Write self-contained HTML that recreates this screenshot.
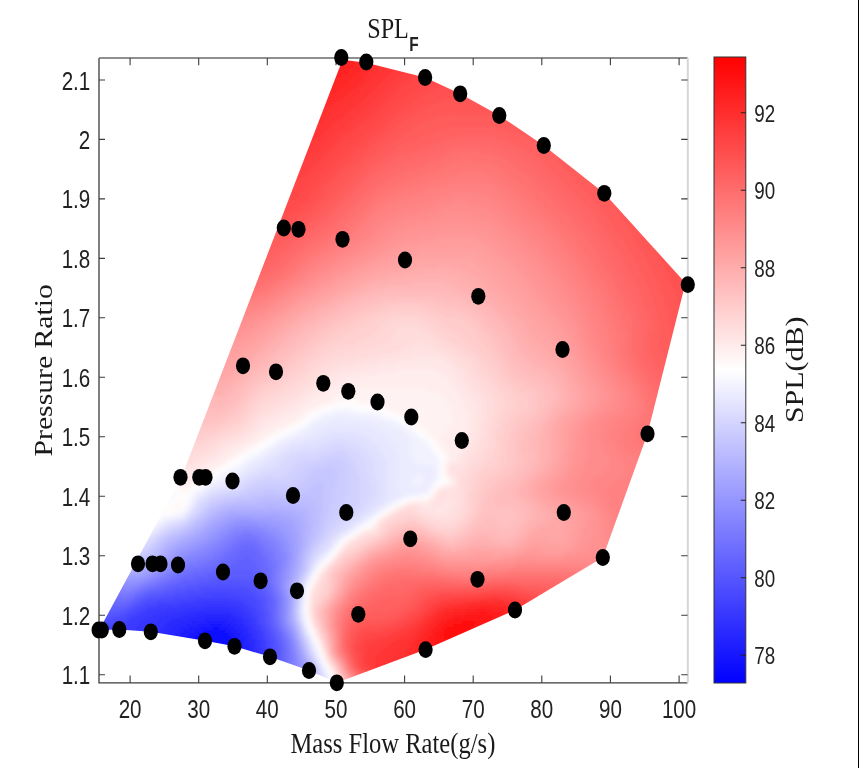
<!DOCTYPE html>
<html><head><meta charset="utf-8"><title>SPL_F</title>
<style>html,body{margin:0;padding:0;background:#fff;}svg{display:block;opacity:0.999}text{font-family:"Liberation Sans",sans-serif;fill:#222}.sf{font-family:"Liberation Serif",serif;fill:#1a1a1a}</style></head>
<body>
<svg width="859" height="768" viewBox="0 0 859 768">
<defs><clipPath id="cp"><polygon points="99.2,630.0 181.5,477.3 342.5,59.8 366.3,62.8 425.1,77.5 460.2,93.8 499.3,115.5 543.8,145.5 604.3,193.3 685.5,283.0 647.5,433.8 602.8,557.5 515.0,610.0 425.6,649.6 336.8,682.8 309.0,670.5 270.0,656.8 234.5,646.3 205.0,640.8 150.8,631.8 119.3,629.5 101.8,630.0"/></clipPath>
<filter id="bl" x="-5%" y="-5%" width="110%" height="110%"><feGaussianBlur stdDeviation="2"/></filter>
<linearGradient id="cb" x1="0" y1="0" x2="0" y2="1"><stop offset="0" stop-color="#ff0000"/><stop offset="0.5" stop-color="#ffffff"/><stop offset="1" stop-color="#0000ff"/></linearGradient></defs>
<rect width="859" height="768" fill="#fff"/>
<g clip-path="url(#cp)"><g filter="url(#bl)" shape-rendering="crispEdges">
<path fill="#0505ff" d="M204 642h12v3h-12zM204 645h15v3h-15z"/>
<path fill="#0b0bff" d="M207 633h15v3h-15zM201 636h24v3h-24zM198 639h27v3h-27zM195 642h9v3h-9zM216 642h12v3h-12zM219 645h9v3h-9zM219 648h9v3h-9z"/>
<path fill="#1010ff" d="M213 627h6v3h-6zM204 630h21v3h-21zM198 633h9v3h-9zM222 633h6v3h-6zM195 636h6v3h-6zM225 636h6v3h-6zM192 639h6v3h-6zM225 639h6v3h-6zM189 642h6v3h-6zM228 642h6v3h-6zM228 645h6v3h-6zM228 648h6v3h-6z"/>
<path fill="#1515ff" d="M210 624h12v3h-12zM201 627h12v3h-12zM219 627h9v3h-9zM195 630h9v3h-9zM225 630h6v3h-6zM189 633h9v3h-9zM228 633h6v3h-6zM186 636h9v3h-9zM231 636h6v3h-6zM183 639h9v3h-9zM231 639h6v3h-6zM186 642h3v3h-3zM234 642h3v3h-3zM234 645h6v3h-6zM234 648h6v3h-6zM234 651h6v3h-6z"/>
<path fill="#1b1bff" d="M207 621h18v3h-18zM198 624h12v3h-12zM222 624h9v3h-9zM189 627h12v3h-12zM228 627h6v3h-6zM183 630h12v3h-12zM231 630h6v3h-6zM180 633h9v3h-9zM234 633h6v3h-6zM180 636h6v3h-6zM237 636h3v3h-3zM177 639h6v3h-6zM237 639h6v3h-6zM237 642h6v3h-6zM240 645h3v3h-3zM240 648h3v3h-3zM240 651h3v3h-3z"/>
<path fill="#2020ff" d="M204 618h24v3h-24zM192 621h15v3h-15zM225 621h9v3h-9zM186 624h12v3h-12zM231 624h6v3h-6zM180 627h9v3h-9zM234 627h6v3h-6zM177 630h6v3h-6zM237 630h6v3h-6zM174 633h6v3h-6zM240 633h3v3h-3zM171 636h9v3h-9zM240 636h6v3h-6zM171 639h6v3h-6zM243 639h3v3h-3zM243 642h3v3h-3zM243 645h6v3h-6zM243 648h6v3h-6zM243 651h6v3h-6zM246 654h3v3h-3z"/>
<path fill="#2626ff" d="M198 615h33v3h-33zM189 618h15v3h-15zM228 618h9v3h-9zM180 621h12v3h-12zM234 621h6v3h-6zM174 624h12v3h-12zM237 624h6v3h-6zM171 627h9v3h-9zM240 627h3v3h-3zM168 630h9v3h-9zM243 630h3v3h-3zM165 633h9v3h-9zM243 633h6v3h-6zM165 636h6v3h-6zM246 636h3v3h-3zM168 639h3v3h-3zM246 639h3v3h-3zM246 642h6v3h-6zM249 645h3v3h-3zM249 648h3v3h-3zM249 651h3v3h-3zM249 654h3v3h-3z"/>
<path fill="#2b2bff" d="M195 612h36v3h-36zM183 615h15v3h-15zM231 615h6v3h-6zM171 618h18v3h-18zM237 618h6v3h-6zM168 621h12v3h-12zM240 621h3v3h-3zM165 624h9v3h-9zM243 624h3v3h-3zM162 627h9v3h-9zM243 627h6v3h-6zM159 630h9v3h-9zM246 630h3v3h-3zM159 633h6v3h-6zM249 633h3v3h-3zM156 636h9v3h-9zM249 636h3v3h-3zM249 639h6v3h-6zM252 642h3v3h-3zM252 645h3v3h-3zM252 648h3v3h-3zM252 651h6v3h-6zM252 654h6v3h-6z"/>
<path fill="#3030ff" d="M207 606h18v3h-18zM189 609h45v3h-45zM174 612h21v3h-21zM231 612h9v3h-9zM165 615h18v3h-18zM237 615h6v3h-6zM159 618h12v3h-12zM243 618h3v3h-3zM156 621h12v3h-12zM243 621h6v3h-6zM153 624h12v3h-12zM246 624h3v3h-3zM150 627h12v3h-12zM249 627h3v3h-3zM150 630h9v3h-9zM249 630h3v3h-3zM147 633h12v3h-12zM252 633h3v3h-3zM147 636h9v3h-9zM252 636h3v3h-3zM255 639h3v3h-3zM255 642h3v3h-3zM255 645h3v3h-3zM255 648h6v3h-6zM258 651h3v3h-3zM258 654h3v3h-3zM255 657h6v3h-6z"/>
<path fill="#3636ff" d="M201 603h30v3h-30zM183 606h24v3h-24zM225 606h15v3h-15zM168 609h21v3h-21zM234 609h9v3h-9zM156 612h18v3h-18zM240 612h6v3h-6zM150 615h15v3h-15zM243 615h6v3h-6zM144 618h15v3h-15zM246 618h6v3h-6zM141 621h15v3h-15zM249 621h3v3h-3zM138 624h15v3h-15zM249 624h6v3h-6zM135 627h15v3h-15zM252 627h3v3h-3zM132 630h18v3h-18zM252 630h6v3h-6zM132 633h15v3h-15zM255 633h3v3h-3zM255 636h3v3h-3zM258 639h3v3h-3zM258 642h3v3h-3zM258 645h3v3h-3zM261 648h3v3h-3zM261 651h3v3h-3zM261 654h3v3h-3zM261 657h3v3h-3z"/>
<path fill="#3b3bff" d="M195 600h42v3h-42zM180 603h21v3h-21zM231 603h12v3h-12zM159 606h24v3h-24zM240 606h6v3h-6zM147 609h21v3h-21zM243 609h6v3h-6zM141 612h15v3h-15zM246 612h6v3h-6zM138 615h12v3h-12zM249 615h3v3h-3zM132 618h12v3h-12zM252 618h3v3h-3zM129 621h12v3h-12zM252 621h3v3h-3zM126 624h12v3h-12zM255 624h3v3h-3zM123 627h12v3h-12zM255 627h3v3h-3zM120 630h12v3h-12zM258 630h3v3h-3zM114 633h18v3h-18zM258 633h3v3h-3zM258 636h3v3h-3zM261 639h3v3h-3zM261 642h3v3h-3zM261 645h3v3h-3zM264 648h3v3h-3zM264 651h3v3h-3zM264 654h3v3h-3zM264 657h3v3h-3z"/>
<path fill="#4040ff" d="M213 594h12v3h-12zM192 597h48v3h-48zM177 600h18v3h-18zM237 600h9v3h-9zM156 603h24v3h-24zM243 603h6v3h-6zM147 606h12v3h-12zM246 606h6v3h-6zM141 609h6v3h-6zM249 609h6v3h-6zM135 612h6v3h-6zM252 612h3v3h-3zM129 615h9v3h-9zM252 615h6v3h-6zM126 618h6v3h-6zM255 618h3v3h-3zM120 621h9v3h-9zM255 621h3v3h-3zM117 624h9v3h-9zM258 624h3v3h-3zM93 627h30v3h-30zM258 627h3v3h-3zM96 630h24v3h-24zM261 630h3v3h-3zM99 633h15v3h-15zM261 633h3v3h-3zM261 636h3v3h-3zM264 639h3v3h-3zM264 642h3v3h-3zM264 645h3v3h-3zM267 648h3v3h-3zM267 651h3v3h-3zM267 654h3v3h-3zM267 657h3v3h-3z"/>
<path fill="#4646ff" d="M204 591h33v3h-33zM189 594h24v3h-24zM225 594h21v3h-21zM174 597h18v3h-18zM240 597h12v3h-12zM156 600h21v3h-21zM246 600h9v3h-9zM144 603h12v3h-12zM249 603h6v3h-6zM138 606h9v3h-9zM252 606h6v3h-6zM135 609h6v3h-6zM255 609h3v3h-3zM129 612h6v3h-6zM255 612h6v3h-6zM126 615h3v3h-3zM258 615h3v3h-3zM120 618h6v3h-6zM258 618h3v3h-3zM96 621h3v3h-3zM114 621h6v3h-6zM258 621h3v3h-3zM96 624h21v3h-21zM261 624h3v3h-3zM261 627h3v3h-3zM264 630h3v3h-3zM264 633h3v3h-3zM264 636h3v3h-3zM267 639h3v3h-3zM267 642h3v3h-3zM267 645h3v3h-3zM270 648h3v3h-3zM270 651h3v3h-3zM270 654h3v3h-3zM270 657h3v3h-3zM267 660h3v3h-3z"/>
<path fill="#4b4bff" d="M201 588h45v3h-45zM186 591h18v3h-18zM237 591h15v3h-15zM174 594h15v3h-15zM246 594h9v3h-9zM159 597h15v3h-15zM252 597h6v3h-6zM147 600h9v3h-9zM255 600h6v3h-6zM141 603h3v3h-3zM255 603h6v3h-6zM135 606h3v3h-3zM258 606h3v3h-3zM129 609h6v3h-6zM258 609h3v3h-3zM126 612h3v3h-3zM261 612h3v3h-3zM120 615h6v3h-6zM261 615h3v3h-3zM111 618h9v3h-9zM261 618h3v3h-3zM99 621h15v3h-15zM261 621h3v3h-3zM264 624h3v3h-3zM264 627h3v3h-3zM267 630h3v3h-3zM267 633h3v3h-3zM267 636h3v3h-3zM270 639h3v3h-3zM270 642h3v3h-3zM270 645h3v3h-3zM270 660h3v3h-3z"/>
<path fill="#5151ff" d="M216 582h24v3h-24zM198 585h54v3h-54zM186 588h15v3h-15zM246 588h9v3h-9zM174 591h12v3h-12zM252 591h6v3h-6zM162 594h12v3h-12zM255 594h6v3h-6zM147 597h12v3h-12zM258 597h6v3h-6zM141 600h6v3h-6zM261 600h3v3h-3zM135 603h6v3h-6zM261 603h3v3h-3zM132 606h3v3h-3zM261 606h3v3h-3zM126 609h3v3h-3zM261 609h6v3h-6zM120 612h6v3h-6zM264 612h3v3h-3zM99 615h3v3h-3zM111 615h9v3h-9zM264 615h3v3h-3zM99 618h12v3h-12zM264 618h3v3h-3zM264 621h3v3h-3zM267 624h3v3h-3zM267 627h3v3h-3zM270 633h3v3h-3zM270 636h3v3h-3zM273 639h3v3h-3zM273 642h3v3h-3zM273 645h3v3h-3zM273 648h3v3h-3zM273 651h3v3h-3zM273 654h3v3h-3zM273 657h3v3h-3zM273 660h3v3h-3z"/>
<path fill="#5656ff" d="M210 579h42v3h-42zM198 582h18v3h-18zM240 582h18v3h-18zM186 585h12v3h-12zM252 585h6v3h-6zM174 588h12v3h-12zM255 588h6v3h-6zM165 591h9v3h-9zM258 591h6v3h-6zM150 594h12v3h-12zM261 594h3v3h-3zM144 597h3v3h-3zM264 597h3v3h-3zM138 600h3v3h-3zM264 600h3v3h-3zM132 603h3v3h-3zM264 603h3v3h-3zM129 606h3v3h-3zM264 606h3v3h-3zM120 609h6v3h-6zM102 612h3v3h-3zM111 612h9v3h-9zM267 612h3v3h-3zM102 615h9v3h-9zM267 615h3v3h-3zM267 618h3v3h-3zM267 621h3v3h-3zM270 627h3v3h-3zM270 630h3v3h-3zM273 633h3v3h-3zM273 636h3v3h-3zM276 642h3v3h-3zM276 645h3v3h-3zM276 648h3v3h-3zM276 651h3v3h-3zM276 654h3v3h-3zM276 657h3v3h-3zM276 660h3v3h-3zM276 663h3v3h-3z"/>
<path fill="#5b5bff" d="M234 570h18v3h-18zM222 573h33v3h-33zM207 576h51v3h-51zM195 579h15v3h-15zM252 579h9v3h-9zM183 582h15v3h-15zM258 582h3v3h-3zM174 585h12v3h-12zM258 585h6v3h-6zM165 588h9v3h-9zM261 588h3v3h-3zM153 591h12v3h-12zM264 591h3v3h-3zM144 594h6v3h-6zM264 594h3v3h-3zM138 597h6v3h-6zM267 597h3v3h-3zM135 600h3v3h-3zM267 600h3v3h-3zM129 603h3v3h-3zM267 603h3v3h-3zM123 606h6v3h-6zM267 606h3v3h-3zM105 609h15v3h-15zM267 609h3v3h-3zM105 612h6v3h-6zM270 618h3v3h-3zM270 621h3v3h-3zM270 624h3v3h-3zM273 630h3v3h-3zM276 636h3v3h-3zM276 639h3v3h-3zM279 645h3v3h-3zM279 648h3v3h-3zM279 651h3v3h-3zM279 654h3v3h-3zM279 657h3v3h-3zM279 660h3v3h-3z"/>
<path fill="#6161ff" d="M243 555h6v3h-6zM240 558h12v3h-12zM234 561h21v3h-21zM231 564h27v3h-27zM225 567h33v3h-33zM216 570h18v3h-18zM252 570h9v3h-9zM207 573h15v3h-15zM255 573h6v3h-6zM195 576h12v3h-12zM258 576h6v3h-6zM183 579h12v3h-12zM261 579h3v3h-3zM177 582h6v3h-6zM261 582h3v3h-3zM168 585h6v3h-6zM264 585h3v3h-3zM159 588h6v3h-6zM264 588h3v3h-3zM147 591h6v3h-6zM267 591h3v3h-3zM141 594h3v3h-3zM267 594h3v3h-3zM135 597h3v3h-3zM270 597h3v3h-3zM132 600h3v3h-3zM270 600h3v3h-3zM126 603h3v3h-3zM270 603h3v3h-3zM105 606h18v3h-18zM270 606h3v3h-3zM270 609h3v3h-3zM270 612h3v3h-3zM270 615h3v3h-3zM273 624h3v3h-3zM273 627h3v3h-3zM276 630h3v3h-3zM276 633h3v3h-3zM279 639h3v3h-3zM279 642h3v3h-3zM279 663h3v3h-3z"/>
<path fill="#6666ff" d="M240 549h15v3h-15zM237 552h21v3h-21zM234 555h9v3h-9zM249 555h9v3h-9zM228 558h12v3h-12zM252 558h9v3h-9zM225 561h9v3h-9zM255 561h6v3h-6zM219 564h12v3h-12zM258 564h6v3h-6zM213 567h12v3h-12zM258 567h6v3h-6zM204 570h12v3h-12zM261 570h3v3h-3zM192 573h15v3h-15zM261 573h6v3h-6zM183 576h12v3h-12zM264 576h3v3h-3zM177 579h6v3h-6zM264 579h3v3h-3zM168 582h9v3h-9zM264 582h3v3h-3zM162 585h6v3h-6zM267 585h3v3h-3zM150 588h9v3h-9zM267 588h3v3h-3zM144 591h3v3h-3zM270 591h3v3h-3zM138 594h3v3h-3zM270 594h3v3h-3zM132 597h3v3h-3zM108 600h3v3h-3zM126 600h6v3h-6zM273 600h3v3h-3zM108 603h18v3h-18zM273 603h3v3h-3zM273 606h3v3h-3zM273 609h3v3h-3zM273 612h3v3h-3zM273 615h3v3h-3zM273 618h3v3h-3zM273 621h3v3h-3zM276 627h3v3h-3zM279 633h3v3h-3zM279 636h3v3h-3zM282 642h3v3h-3zM282 645h3v3h-3zM282 648h3v3h-3zM282 651h3v3h-3zM282 654h3v3h-3zM282 657h3v3h-3zM282 660h3v3h-3zM282 663h3v3h-3zM282 666h3v3h-3z"/>
<path fill="#6b6bff" d="M240 543h15v3h-15zM237 546h21v3h-21zM231 549h9v3h-9zM255 549h6v3h-6zM228 552h9v3h-9zM258 552h3v3h-3zM225 555h9v3h-9zM258 555h6v3h-6zM222 558h6v3h-6zM261 558h6v3h-6zM216 561h9v3h-9zM261 561h6v3h-6zM210 564h9v3h-9zM264 564h3v3h-3zM201 567h12v3h-12zM264 567h6v3h-6zM192 570h12v3h-12zM264 570h6v3h-6zM183 573h9v3h-9zM267 573h3v3h-3zM177 576h6v3h-6zM267 576h3v3h-3zM171 579h6v3h-6zM267 579h3v3h-3zM162 582h6v3h-6zM267 582h3v3h-3zM156 585h6v3h-6zM270 585h3v3h-3zM147 588h3v3h-3zM270 588h3v3h-3zM141 591h3v3h-3zM135 594h3v3h-3zM273 594h3v3h-3zM111 597h3v3h-3zM129 597h3v3h-3zM273 597h3v3h-3zM111 600h15v3h-15zM276 621h3v3h-3zM276 624h3v3h-3zM279 630h3v3h-3zM282 636h3v3h-3zM282 639h3v3h-3zM285 648h3v3h-3zM285 651h3v3h-3zM285 654h3v3h-3zM285 657h3v3h-3zM285 660h3v3h-3zM285 663h3v3h-3z"/>
<path fill="#7171ff" d="M246 537h3v3h-3zM237 540h21v3h-21zM234 543h6v3h-6zM255 543h6v3h-6zM231 546h6v3h-6zM258 546h6v3h-6zM228 549h3v3h-3zM261 549h3v3h-3zM222 552h6v3h-6zM261 552h6v3h-6zM219 555h6v3h-6zM264 555h6v3h-6zM216 558h6v3h-6zM267 558h3v3h-3zM207 561h9v3h-9zM267 561h3v3h-3zM201 564h9v3h-9zM267 564h6v3h-6zM192 567h9v3h-9zM270 567h3v3h-3zM183 570h9v3h-9zM270 570h3v3h-3zM177 573h6v3h-6zM270 573h3v3h-3zM171 576h6v3h-6zM270 576h3v3h-3zM165 579h6v3h-6zM270 579h3v3h-3zM159 582h3v3h-3zM270 582h3v3h-3zM150 585h6v3h-6zM141 588h6v3h-6zM273 588h3v3h-3zM135 591h6v3h-6zM273 591h3v3h-3zM111 594h3v3h-3zM132 594h3v3h-3zM114 597h15v3h-15zM276 597h3v3h-3zM276 600h3v3h-3zM276 603h3v3h-3zM276 606h3v3h-3zM276 609h3v3h-3zM276 612h3v3h-3zM276 615h3v3h-3zM276 618h3v3h-3zM279 627h3v3h-3zM282 633h3v3h-3zM285 639h3v3h-3zM285 642h3v3h-3zM285 645h3v3h-3zM285 666h3v3h-3z"/>
<path fill="#7676ff" d="M243 534h9v3h-9zM237 537h9v3h-9zM249 537h9v3h-9zM231 540h6v3h-6zM258 540h3v3h-3zM228 543h6v3h-6zM261 543h3v3h-3zM225 546h6v3h-6zM264 546h3v3h-3zM222 549h6v3h-6zM264 549h6v3h-6zM216 552h6v3h-6zM267 552h6v3h-6zM213 555h6v3h-6zM270 555h3v3h-3zM207 558h9v3h-9zM270 558h3v3h-3zM198 561h9v3h-9zM270 561h6v3h-6zM189 564h12v3h-12zM273 564h3v3h-3zM183 567h9v3h-9zM273 567h3v3h-3zM177 570h6v3h-6zM273 570h3v3h-3zM171 573h6v3h-6zM273 573h3v3h-3zM168 576h3v3h-3zM273 576h3v3h-3zM159 579h6v3h-6zM273 579h3v3h-3zM153 582h6v3h-6zM273 582h3v3h-3zM144 585h6v3h-6zM273 585h3v3h-3zM138 588h3v3h-3zM132 591h3v3h-3zM276 591h3v3h-3zM114 594h18v3h-18zM276 594h3v3h-3zM279 621h3v3h-3zM279 624h3v3h-3zM282 630h3v3h-3zM285 636h3v3h-3zM288 645h3v3h-3zM288 648h3v3h-3zM288 651h3v3h-3zM288 654h3v3h-3zM288 657h3v3h-3zM288 660h3v3h-3zM288 663h3v3h-3zM288 666h3v3h-3z"/>
<path fill="#7b7bff" d="M243 531h9v3h-9zM234 534h9v3h-9zM252 534h6v3h-6zM231 537h6v3h-6zM258 537h6v3h-6zM228 540h3v3h-3zM261 540h6v3h-6zM222 543h6v3h-6zM264 543h6v3h-6zM219 546h6v3h-6zM267 546h6v3h-6zM216 549h6v3h-6zM270 549h6v3h-6zM210 552h6v3h-6zM273 552h3v3h-3zM204 555h9v3h-9zM273 555h3v3h-3zM198 558h9v3h-9zM273 558h6v3h-6zM189 561h9v3h-9zM276 561h3v3h-3zM183 564h6v3h-6zM276 564h3v3h-3zM177 567h6v3h-6zM276 567h3v3h-3zM174 570h3v3h-3zM276 570h3v3h-3zM168 573h3v3h-3zM162 576h6v3h-6zM156 579h3v3h-3zM147 582h6v3h-6zM141 585h3v3h-3zM276 585h3v3h-3zM114 588h3v3h-3zM135 588h3v3h-3zM276 588h3v3h-3zM114 591h9v3h-9zM126 591h6v3h-6zM279 594h3v3h-3zM279 597h3v3h-3zM279 600h3v3h-3zM279 603h3v3h-3zM279 606h3v3h-3zM279 609h3v3h-3zM279 612h3v3h-3zM279 615h3v3h-3zM279 618h3v3h-3zM282 627h3v3h-3zM285 633h3v3h-3zM288 639h3v3h-3zM288 642h3v3h-3zM291 654h3v3h-3zM291 657h3v3h-3zM291 660h3v3h-3zM291 663h3v3h-3zM291 666h3v3h-3zM291 669h3v3h-3z"/>
<path fill="#8181ff" d="M243 528h6v3h-6zM234 531h9v3h-9zM252 531h9v3h-9zM231 534h3v3h-3zM258 534h6v3h-6zM225 537h6v3h-6zM264 537h6v3h-6zM222 540h6v3h-6zM267 540h6v3h-6zM219 543h3v3h-3zM270 543h6v3h-6zM213 546h6v3h-6zM273 546h3v3h-3zM210 549h6v3h-6zM276 549h3v3h-3zM204 552h6v3h-6zM276 552h3v3h-3zM195 555h9v3h-9zM276 555h6v3h-6zM189 558h9v3h-9zM279 558h3v3h-3zM183 561h6v3h-6zM279 561h3v3h-3zM177 564h6v3h-6zM279 564h3v3h-3zM174 567h3v3h-3zM279 567h3v3h-3zM168 570h6v3h-6zM165 573h3v3h-3zM276 573h3v3h-3zM159 576h3v3h-3zM276 576h3v3h-3zM150 579h6v3h-6zM276 579h3v3h-3zM144 582h3v3h-3zM276 582h3v3h-3zM138 585h3v3h-3zM117 588h6v3h-6zM129 588h6v3h-6zM123 591h3v3h-3zM279 591h3v3h-3zM282 621h3v3h-3zM282 624h3v3h-3zM285 630h3v3h-3zM288 636h3v3h-3zM291 645h3v3h-3zM291 648h3v3h-3zM291 651h3v3h-3z"/>
<path fill="#8686ff" d="M234 528h9v3h-9zM249 528h12v3h-12zM228 531h6v3h-6zM261 531h6v3h-6zM225 534h6v3h-6zM264 534h6v3h-6zM222 537h3v3h-3zM270 537h6v3h-6zM216 540h6v3h-6zM273 540h6v3h-6zM213 543h6v3h-6zM276 543h3v3h-3zM207 546h6v3h-6zM276 546h6v3h-6zM201 549h9v3h-9zM279 549h3v3h-3zM195 552h9v3h-9zM279 552h6v3h-6zM189 555h6v3h-6zM282 555h3v3h-3zM183 558h6v3h-6zM282 558h3v3h-3zM177 561h6v3h-6zM282 561h3v3h-3zM174 564h3v3h-3zM282 564h3v3h-3zM171 567h3v3h-3zM165 570h3v3h-3zM279 570h3v3h-3zM159 573h6v3h-6zM279 573h3v3h-3zM153 576h6v3h-6zM279 576h3v3h-3zM147 579h3v3h-3zM279 579h3v3h-3zM141 582h3v3h-3zM279 582h3v3h-3zM117 585h6v3h-6zM132 585h6v3h-6zM279 585h3v3h-3zM123 588h6v3h-6zM279 588h3v3h-3zM282 594h3v3h-3zM282 597h3v3h-3zM282 600h3v3h-3zM282 603h3v3h-3zM282 606h3v3h-3zM282 609h3v3h-3zM282 612h3v3h-3zM282 615h3v3h-3zM282 618h3v3h-3zM285 627h3v3h-3zM288 633h3v3h-3zM291 639h3v3h-3zM291 642h3v3h-3zM294 654h3v3h-3zM294 657h3v3h-3zM294 660h3v3h-3zM294 663h3v3h-3zM294 666h3v3h-3zM294 669h3v3h-3z"/>
<path fill="#8c8cff" d="M234 525h24v3h-24zM228 528h6v3h-6zM261 528h6v3h-6zM225 531h3v3h-3zM267 531h6v3h-6zM219 534h6v3h-6zM270 534h6v3h-6zM216 537h6v3h-6zM276 537h3v3h-3zM213 540h3v3h-3zM279 540h3v3h-3zM207 543h6v3h-6zM279 543h6v3h-6zM201 546h6v3h-6zM282 546h3v3h-3zM195 549h6v3h-6zM282 549h3v3h-3zM189 552h6v3h-6zM285 552h3v3h-3zM183 555h6v3h-6zM285 555h3v3h-3zM177 558h6v3h-6zM285 558h3v3h-3zM174 561h3v3h-3zM285 561h3v3h-3zM171 564h3v3h-3zM165 567h6v3h-6zM282 567h3v3h-3zM162 570h3v3h-3zM282 570h3v3h-3zM156 573h3v3h-3zM282 573h3v3h-3zM150 576h3v3h-3zM282 576h3v3h-3zM144 579h3v3h-3zM117 582h6v3h-6zM135 582h6v3h-6zM123 585h9v3h-9zM282 591h3v3h-3zM285 624h3v3h-3zM288 630h3v3h-3zM291 636h3v3h-3zM294 648h3v3h-3zM294 651h3v3h-3zM297 660h3v3h-3zM297 663h3v3h-3zM297 666h3v3h-3zM297 669h3v3h-3z"/>
<path fill="#9191ff" d="M234 522h24v3h-24zM228 525h6v3h-6zM258 525h9v3h-9zM222 528h6v3h-6zM267 528h9v3h-9zM219 531h6v3h-6zM273 531h6v3h-6zM216 534h3v3h-3zM276 534h6v3h-6zM210 537h6v3h-6zM279 537h6v3h-6zM207 540h6v3h-6zM282 540h3v3h-3zM201 543h6v3h-6zM285 543h3v3h-3zM195 546h6v3h-6zM285 546h3v3h-3zM189 549h6v3h-6zM285 549h3v3h-3zM183 552h6v3h-6zM288 552h3v3h-3zM177 555h6v3h-6zM288 555h3v3h-3zM174 558h3v3h-3zM288 558h3v3h-3zM171 561h3v3h-3zM168 564h3v3h-3zM285 564h3v3h-3zM162 567h3v3h-3zM285 567h3v3h-3zM159 570h3v3h-3zM285 570h3v3h-3zM153 573h3v3h-3zM144 576h6v3h-6zM120 579h3v3h-3zM138 579h6v3h-6zM282 579h3v3h-3zM123 582h12v3h-12zM282 582h3v3h-3zM282 585h3v3h-3zM282 588h3v3h-3zM285 594h3v3h-3zM285 597h3v3h-3zM285 600h3v3h-3zM285 603h3v3h-3zM285 606h3v3h-3zM285 609h3v3h-3zM285 612h3v3h-3zM285 615h3v3h-3zM285 618h3v3h-3zM285 621h3v3h-3zM288 627h3v3h-3zM291 633h3v3h-3zM294 642h3v3h-3zM294 645h3v3h-3zM297 654h3v3h-3zM297 657h3v3h-3zM300 666h3v3h-3zM300 669h3v3h-3zM300 672h3v3h-3z"/>
<path fill="#9696ff" d="M234 519h21v3h-21zM228 522h6v3h-6zM258 522h12v3h-12zM222 525h6v3h-6zM267 525h12v3h-12zM219 528h3v3h-3zM276 528h6v3h-6zM213 531h6v3h-6zM279 531h6v3h-6zM210 534h6v3h-6zM282 534h6v3h-6zM207 537h3v3h-3zM285 537h3v3h-3zM201 540h6v3h-6zM285 540h6v3h-6zM195 543h6v3h-6zM288 543h3v3h-3zM189 546h6v3h-6zM288 546h3v3h-3zM183 549h6v3h-6zM288 549h3v3h-3zM177 552h6v3h-6zM174 555h3v3h-3zM171 558h3v3h-3zM168 561h3v3h-3zM288 561h3v3h-3zM165 564h3v3h-3zM288 564h3v3h-3zM159 567h3v3h-3zM288 567h3v3h-3zM153 570h6v3h-6zM147 573h6v3h-6zM285 573h3v3h-3zM120 576h3v3h-3zM141 576h3v3h-3zM285 576h3v3h-3zM123 579h15v3h-15zM285 579h3v3h-3zM285 588h3v3h-3zM285 591h3v3h-3zM288 624h3v3h-3zM291 630h3v3h-3zM294 639h3v3h-3zM297 648h3v3h-3zM297 651h3v3h-3zM300 660h3v3h-3zM300 663h3v3h-3z"/>
<path fill="#9c9cff" d="M237 516h15v3h-15zM228 519h6v3h-6zM255 519h18v3h-18zM222 522h6v3h-6zM270 522h12v3h-12zM219 525h3v3h-3zM279 525h9v3h-9zM213 528h6v3h-6zM282 528h6v3h-6zM210 531h3v3h-3zM285 531h6v3h-6zM204 534h6v3h-6zM288 534h3v3h-3zM201 537h6v3h-6zM288 537h6v3h-6zM195 540h6v3h-6zM291 540h3v3h-3zM189 543h6v3h-6zM291 543h3v3h-3zM183 546h6v3h-6zM291 546h3v3h-3zM177 549h6v3h-6zM291 549h3v3h-3zM174 552h3v3h-3zM291 552h3v3h-3zM171 555h3v3h-3zM291 555h3v3h-3zM168 558h3v3h-3zM291 558h3v3h-3zM165 561h3v3h-3zM291 561h3v3h-3zM159 564h6v3h-6zM291 564h3v3h-3zM156 567h3v3h-3zM150 570h3v3h-3zM288 570h3v3h-3zM144 573h3v3h-3zM288 573h3v3h-3zM123 576h18v3h-18zM288 576h3v3h-3zM285 582h3v3h-3zM285 585h3v3h-3zM288 594h3v3h-3zM288 597h3v3h-3zM288 600h3v3h-3zM288 603h3v3h-3zM288 606h3v3h-3zM288 621h3v3h-3zM291 627h3v3h-3zM294 636h3v3h-3zM297 645h3v3h-3zM300 657h3v3h-3zM303 663h3v3h-3zM303 666h3v3h-3zM303 669h3v3h-3zM303 672h3v3h-3z"/>
<path fill="#a1a1ff" d="M228 516h9v3h-9zM252 516h24v3h-24zM222 519h6v3h-6zM273 519h12v3h-12zM216 522h6v3h-6zM282 522h9v3h-9zM213 525h6v3h-6zM288 525h6v3h-6zM207 528h6v3h-6zM288 528h6v3h-6zM204 531h6v3h-6zM291 531h3v3h-3zM201 534h3v3h-3zM291 534h6v3h-6zM195 537h6v3h-6zM294 537h3v3h-3zM189 540h6v3h-6zM294 540h3v3h-3zM183 543h6v3h-6zM294 543h3v3h-3zM177 546h6v3h-6zM294 546h3v3h-3zM174 549h3v3h-3zM294 549h3v3h-3zM171 552h3v3h-3zM294 552h3v3h-3zM168 555h3v3h-3zM294 555h3v3h-3zM165 558h3v3h-3zM294 558h3v3h-3zM162 561h3v3h-3zM156 564h3v3h-3zM150 567h6v3h-6zM291 567h3v3h-3zM144 570h6v3h-6zM291 570h3v3h-3zM123 573h6v3h-6zM138 573h6v3h-6zM291 573h3v3h-3zM288 579h3v3h-3zM288 582h3v3h-3zM288 588h3v3h-3zM288 591h3v3h-3zM288 609h3v3h-3zM288 612h3v3h-3zM288 615h3v3h-3zM288 618h3v3h-3zM291 624h3v3h-3zM294 633h3v3h-3zM297 642h3v3h-3zM300 651h3v3h-3zM300 654h3v3h-3zM303 660h3v3h-3zM306 669h3v3h-3zM306 672h3v3h-3z"/>
<path fill="#a6a6ff" d="M228 513h54v3h-54zM222 516h6v3h-6zM276 516h15v3h-15zM216 519h6v3h-6zM285 519h9v3h-9zM213 522h3v3h-3zM291 522h6v3h-6zM207 525h6v3h-6zM294 525h3v3h-3zM204 528h3v3h-3zM294 528h6v3h-6zM201 531h3v3h-3zM294 531h6v3h-6zM195 534h6v3h-6zM297 534h3v3h-3zM189 537h6v3h-6zM297 537h3v3h-3zM183 540h6v3h-6zM297 540h3v3h-3zM177 543h6v3h-6zM297 543h3v3h-3zM174 546h3v3h-3zM297 546h3v3h-3zM168 549h6v3h-6zM297 549h3v3h-3zM168 552h3v3h-3zM297 552h3v3h-3zM165 555h3v3h-3zM162 558h3v3h-3zM159 561h3v3h-3zM294 561h3v3h-3zM153 564h3v3h-3zM294 564h3v3h-3zM147 567h3v3h-3zM294 567h3v3h-3zM141 570h3v3h-3zM129 573h9v3h-9zM291 576h3v3h-3zM291 579h3v3h-3zM288 585h3v3h-3zM291 621h3v3h-3zM294 630h3v3h-3zM297 639h3v3h-3zM300 648h3v3h-3zM303 657h3v3h-3zM306 663h3v3h-3zM306 666h3v3h-3z"/>
<path fill="#acacff" d="M228 510h60v3h-60zM222 513h6v3h-6zM282 513h15v3h-15zM216 516h6v3h-6zM291 516h9v3h-9zM210 519h6v3h-6zM294 519h6v3h-6zM207 522h6v3h-6zM297 522h6v3h-6zM204 525h3v3h-3zM297 525h6v3h-6zM201 528h3v3h-3zM300 528h3v3h-3zM195 531h6v3h-6zM300 531h3v3h-3zM189 534h6v3h-6zM300 534h3v3h-3zM183 537h6v3h-6zM300 537h3v3h-3zM177 540h6v3h-6zM300 540h3v3h-3zM174 543h3v3h-3zM300 543h3v3h-3zM168 546h6v3h-6zM300 546h3v3h-3zM165 549h3v3h-3zM165 552h3v3h-3zM162 555h3v3h-3zM297 555h3v3h-3zM159 558h3v3h-3zM297 558h3v3h-3zM153 561h6v3h-6zM297 561h3v3h-3zM150 564h3v3h-3zM297 564h3v3h-3zM141 567h6v3h-6zM126 570h15v3h-15zM294 570h3v3h-3zM294 573h3v3h-3zM291 582h3v3h-3zM291 585h3v3h-3zM291 591h3v3h-3zM291 594h3v3h-3zM291 597h3v3h-3zM291 600h3v3h-3zM291 603h3v3h-3zM291 606h3v3h-3zM291 609h3v3h-3zM291 612h3v3h-3zM291 615h3v3h-3zM291 618h3v3h-3zM294 627h3v3h-3zM297 636h3v3h-3zM300 645h3v3h-3zM303 654h3v3h-3zM306 660h3v3h-3zM309 669h3v3h-3zM309 672h3v3h-3z"/>
<path fill="#b1b1ff" d="M267 504h6v3h-6zM228 507h66v3h-66zM219 510h9v3h-9zM288 510h15v3h-15zM216 513h6v3h-6zM297 513h9v3h-9zM210 516h6v3h-6zM300 516h6v3h-6zM207 519h3v3h-3zM300 519h6v3h-6zM204 522h3v3h-3zM303 522h3v3h-3zM201 525h3v3h-3zM303 525h6v3h-6zM195 528h6v3h-6zM303 528h6v3h-6zM192 531h3v3h-3zM303 531h3v3h-3zM186 534h3v3h-3zM303 534h3v3h-3zM180 537h3v3h-3zM303 537h3v3h-3zM174 540h3v3h-3zM303 540h3v3h-3zM168 543h6v3h-6zM303 543h3v3h-3zM165 546h3v3h-3zM162 549h3v3h-3zM300 549h3v3h-3zM162 552h3v3h-3zM300 552h3v3h-3zM159 555h3v3h-3zM300 555h3v3h-3zM156 558h3v3h-3zM300 558h3v3h-3zM150 561h3v3h-3zM144 564h6v3h-6zM126 567h15v3h-15zM297 567h3v3h-3zM297 570h3v3h-3zM294 576h3v3h-3zM294 579h3v3h-3zM291 588h3v3h-3zM294 624h3v3h-3zM297 633h3v3h-3zM300 642h3v3h-3zM303 651h3v3h-3zM309 666h3v3h-3zM309 675h3v3h-3z"/>
<path fill="#b7b7ff" d="M258 501h24v3h-24zM231 504h36v3h-36zM273 504h30v3h-30zM222 507h6v3h-6zM294 507h15v3h-15zM216 510h3v3h-3zM303 510h6v3h-6zM210 513h6v3h-6zM306 513h6v3h-6zM207 516h3v3h-3zM306 516h6v3h-6zM204 519h3v3h-3zM306 519h6v3h-6zM198 522h6v3h-6zM306 522h6v3h-6zM195 525h6v3h-6zM309 525h3v3h-3zM192 528h3v3h-3zM309 528h3v3h-3zM186 531h6v3h-6zM306 531h6v3h-6zM180 534h6v3h-6zM306 534h3v3h-3zM174 537h6v3h-6zM306 537h3v3h-3zM168 540h6v3h-6zM306 540h3v3h-3zM165 543h3v3h-3zM306 543h3v3h-3zM162 546h3v3h-3zM303 546h3v3h-3zM159 549h3v3h-3zM303 549h3v3h-3zM159 552h3v3h-3zM303 552h3v3h-3zM156 555h3v3h-3zM150 558h6v3h-6zM144 561h6v3h-6zM300 561h3v3h-3zM129 564h15v3h-15zM300 564h3v3h-3zM300 567h3v3h-3zM297 573h3v3h-3zM297 576h3v3h-3zM294 582h3v3h-3zM294 585h3v3h-3zM294 621h3v3h-3zM297 630h3v3h-3zM300 639h3v3h-3zM303 648h3v3h-3zM306 657h3v3h-3zM309 663h3v3h-3zM312 669h3v3h-3zM312 672h3v3h-3zM312 675h3v3h-3z"/>
<path fill="#bcbcff" d="M255 498h33v3h-33zM303 498h9v3h-9zM234 501h24v3h-24zM282 501h33v3h-33zM222 504h9v3h-9zM303 504h12v3h-12zM216 507h6v3h-6zM309 507h9v3h-9zM210 510h6v3h-6zM309 510h9v3h-9zM207 513h3v3h-3zM312 513h6v3h-6zM204 516h3v3h-3zM312 516h6v3h-6zM198 519h6v3h-6zM312 519h6v3h-6zM195 522h3v3h-3zM312 522h6v3h-6zM192 525h3v3h-3zM312 525h3v3h-3zM189 528h3v3h-3zM312 528h3v3h-3zM183 531h3v3h-3zM312 531h3v3h-3zM174 534h6v3h-6zM309 534h6v3h-6zM168 537h6v3h-6zM309 537h3v3h-3zM165 540h3v3h-3zM309 540h3v3h-3zM162 543h3v3h-3zM159 546h3v3h-3zM306 546h3v3h-3zM156 549h3v3h-3zM306 549h3v3h-3zM153 552h6v3h-6zM150 555h6v3h-6zM303 555h3v3h-3zM147 558h3v3h-3zM303 558h3v3h-3zM129 561h3v3h-3zM135 561h9v3h-9zM300 570h3v3h-3zM297 579h3v3h-3zM294 588h3v3h-3zM294 591h3v3h-3zM294 594h3v3h-3zM294 597h3v3h-3zM294 600h3v3h-3zM294 603h3v3h-3zM294 615h3v3h-3zM294 618h3v3h-3zM297 627h3v3h-3zM300 636h3v3h-3zM303 645h3v3h-3zM306 654h3v3h-3zM309 660h3v3h-3zM312 666h3v3h-3z"/>
<path fill="#c1c1ff" d="M318 480h3v3h-3zM312 483h12v3h-12zM309 486h15v3h-15zM306 489h18v3h-18zM264 492h12v3h-12zM300 492h24v3h-24zM252 495h72v3h-72zM237 498h18v3h-18zM288 498h15v3h-15zM312 498h12v3h-12zM222 501h12v3h-12zM315 501h9v3h-9zM216 504h6v3h-6zM315 504h9v3h-9zM210 507h6v3h-6zM318 507h6v3h-6zM207 510h3v3h-3zM318 510h6v3h-6zM204 513h3v3h-3zM318 513h6v3h-6zM201 516h3v3h-3zM318 516h3v3h-3zM195 519h3v3h-3zM318 519h3v3h-3zM192 522h3v3h-3zM318 522h3v3h-3zM189 525h3v3h-3zM315 525h6v3h-6zM183 528h6v3h-6zM315 528h6v3h-6zM177 531h6v3h-6zM315 531h3v3h-3zM171 534h3v3h-3zM315 534h3v3h-3zM165 537h3v3h-3zM312 537h3v3h-3zM162 540h3v3h-3zM312 540h3v3h-3zM159 543h3v3h-3zM309 543h3v3h-3zM156 546h3v3h-3zM309 546h3v3h-3zM153 549h3v3h-3zM150 552h3v3h-3zM306 552h3v3h-3zM147 555h3v3h-3zM306 555h3v3h-3zM138 558h9v3h-9zM132 561h3v3h-3zM303 561h3v3h-3zM303 564h3v3h-3zM303 567h3v3h-3zM300 573h3v3h-3zM297 582h3v3h-3zM294 606h3v3h-3zM294 609h3v3h-3zM294 612h3v3h-3zM297 624h3v3h-3zM300 633h3v3h-3zM303 642h3v3h-3zM306 651h3v3h-3zM309 657h3v3h-3zM315 672h3v3h-3zM315 675h3v3h-3z"/>
<path fill="#c7c7ff" d="M327 465h6v3h-6zM315 468h21v3h-21zM312 471h27v3h-27zM309 474h30v3h-30zM306 477h30v3h-30zM303 480h15v3h-15zM321 480h15v3h-15zM300 483h12v3h-12zM324 483h12v3h-12zM297 486h12v3h-12zM324 486h12v3h-12zM258 489h48v3h-48zM324 489h9v3h-9zM249 492h15v3h-15zM276 492h24v3h-24zM324 492h9v3h-9zM240 495h12v3h-12zM324 495h9v3h-9zM225 498h12v3h-12zM324 498h9v3h-9zM216 501h6v3h-6zM324 501h9v3h-9zM210 504h6v3h-6zM324 504h6v3h-6zM207 507h3v3h-3zM324 507h6v3h-6zM204 510h3v3h-3zM324 510h6v3h-6zM201 513h3v3h-3zM324 513h3v3h-3zM198 516h3v3h-3zM321 516h6v3h-6zM192 519h3v3h-3zM321 519h6v3h-6zM189 522h3v3h-3zM321 522h6v3h-6zM186 525h3v3h-3zM321 525h3v3h-3zM180 528h3v3h-3zM321 528h3v3h-3zM171 531h6v3h-6zM318 531h6v3h-6zM165 534h6v3h-6zM318 534h3v3h-3zM162 537h3v3h-3zM315 537h3v3h-3zM159 540h3v3h-3zM315 540h3v3h-3zM156 543h3v3h-3zM312 543h3v3h-3zM153 546h3v3h-3zM312 546h3v3h-3zM150 549h3v3h-3zM309 549h3v3h-3zM147 552h3v3h-3zM309 552h3v3h-3zM138 555h9v3h-9zM132 558h6v3h-6zM306 558h3v3h-3zM306 561h3v3h-3zM303 570h3v3h-3zM300 576h3v3h-3zM297 585h3v3h-3zM297 588h3v3h-3zM297 621h3v3h-3zM300 630h3v3h-3zM303 639h3v3h-3zM306 648h3v3h-3zM312 663h3v3h-3zM315 669h3v3h-3zM315 678h3v3h-3z"/>
<path fill="#ccccff" d="M333 456h6v3h-6zM324 459h21v3h-21zM315 462h30v3h-30zM306 465h21v3h-21zM333 465h15v3h-15zM303 468h12v3h-12zM336 468h12v3h-12zM300 471h12v3h-12zM339 471h9v3h-9zM297 474h12v3h-12zM339 474h9v3h-9zM294 477h12v3h-12zM336 477h12v3h-12zM291 480h12v3h-12zM336 480h12v3h-12zM261 483h39v3h-39zM336 483h12v3h-12zM252 486h45v3h-45zM336 486h12v3h-12zM246 489h12v3h-12zM333 489h15v3h-15zM240 492h9v3h-9zM333 492h15v3h-15zM225 495h15v3h-15zM333 495h12v3h-12zM216 498h9v3h-9zM333 498h12v3h-12zM210 501h6v3h-6zM333 501h12v3h-12zM207 504h3v3h-3zM330 504h15v3h-15zM204 507h3v3h-3zM330 507h12v3h-12zM201 510h3v3h-3zM330 510h12v3h-12zM198 513h3v3h-3zM327 513h12v3h-12zM195 516h3v3h-3zM327 516h9v3h-9zM327 519h6v3h-6zM186 522h3v3h-3zM327 522h3v3h-3zM180 525h6v3h-6zM324 525h6v3h-6zM174 528h6v3h-6zM324 528h3v3h-3zM168 531h3v3h-3zM324 531h3v3h-3zM162 534h3v3h-3zM321 534h3v3h-3zM159 537h3v3h-3zM318 537h6v3h-6zM156 540h3v3h-3zM318 540h3v3h-3zM153 543h3v3h-3zM315 543h3v3h-3zM150 546h3v3h-3zM147 549h3v3h-3zM312 549h3v3h-3zM135 552h12v3h-12zM132 555h6v3h-6zM309 555h3v3h-3zM306 564h3v3h-3zM306 567h3v3h-3zM303 573h3v3h-3zM300 579h3v3h-3zM297 591h3v3h-3zM297 594h3v3h-3zM297 597h3v3h-3zM297 600h3v3h-3zM297 618h3v3h-3zM300 627h3v3h-3zM303 636h3v3h-3zM306 645h3v3h-3zM309 654h3v3h-3zM312 660h3v3h-3zM315 666h3v3h-3z"/>
<path fill="#d1d1ff" d="M333 450h12v3h-12zM324 453h24v3h-24zM318 456h15v3h-15zM339 456h12v3h-12zM303 459h21v3h-21zM345 459h9v3h-9zM297 462h18v3h-18zM345 462h9v3h-9zM294 465h12v3h-12zM348 465h9v3h-9zM291 468h12v3h-12zM348 468h9v3h-9zM288 471h12v3h-12zM348 471h9v3h-9zM285 474h12v3h-12zM348 474h12v3h-12zM264 477h30v3h-30zM348 477h12v3h-12zM255 480h36v3h-36zM348 480h12v3h-12zM249 483h12v3h-12zM348 483h12v3h-12zM246 486h6v3h-6zM348 486h12v3h-12zM240 489h6v3h-6zM348 489h12v3h-12zM228 492h12v3h-12zM348 492h12v3h-12zM216 495h9v3h-9zM345 495h15v3h-15zM210 498h6v3h-6zM345 498h15v3h-15zM207 501h3v3h-3zM345 501h15v3h-15zM204 504h3v3h-3zM345 504h12v3h-12zM201 507h3v3h-3zM342 507h12v3h-12zM198 510h3v3h-3zM342 510h12v3h-12zM195 513h3v3h-3zM339 513h12v3h-12zM192 516h3v3h-3zM336 516h9v3h-9zM189 519h3v3h-3zM333 519h9v3h-9zM183 522h3v3h-3zM330 522h9v3h-9zM177 525h3v3h-3zM330 525h6v3h-6zM168 528h6v3h-6zM327 528h6v3h-6zM165 531h3v3h-3zM327 531h3v3h-3zM159 534h3v3h-3zM324 534h3v3h-3zM156 537h3v3h-3zM324 537h3v3h-3zM153 540h3v3h-3zM321 540h3v3h-3zM150 543h3v3h-3zM318 543h3v3h-3zM144 546h6v3h-6zM315 546h3v3h-3zM135 549h12v3h-12zM315 549h3v3h-3zM312 552h3v3h-3zM309 558h3v3h-3zM309 561h3v3h-3zM306 570h3v3h-3zM303 576h3v3h-3zM300 582h3v3h-3zM297 603h3v3h-3zM297 606h3v3h-3zM297 609h3v3h-3zM297 612h3v3h-3zM297 615h3v3h-3zM300 624h3v3h-3zM306 642h3v3h-3zM309 651h3v3h-3zM312 657h3v3h-3zM315 663h3v3h-3zM318 672h3v3h-3zM318 675h3v3h-3zM318 678h3v3h-3z"/>
<path fill="#d7d7ff" d="M333 444h12v3h-12zM324 447h27v3h-27zM318 450h15v3h-15zM345 450h12v3h-12zM300 453h24v3h-24zM348 453h12v3h-12zM291 456h27v3h-27zM351 456h9v3h-9zM288 459h15v3h-15zM354 459h9v3h-9zM285 462h12v3h-12zM354 462h12v3h-12zM282 465h12v3h-12zM357 465h9v3h-9zM279 468h12v3h-12zM357 468h9v3h-9zM270 471h18v3h-18zM357 471h9v3h-9zM261 474h24v3h-24zM360 474h9v3h-9zM252 477h12v3h-12zM360 477h9v3h-9zM249 480h6v3h-6zM360 480h9v3h-9zM243 483h6v3h-6zM360 483h9v3h-9zM240 486h6v3h-6zM360 486h12v3h-12zM231 489h9v3h-9zM360 489h12v3h-12zM219 492h9v3h-9zM360 492h12v3h-12zM210 495h6v3h-6zM360 495h9v3h-9zM207 498h3v3h-3zM360 498h9v3h-9zM201 501h6v3h-6zM360 501h6v3h-6zM198 504h6v3h-6zM357 504h9v3h-9zM198 507h3v3h-3zM354 507h9v3h-9zM195 510h3v3h-3zM354 510h6v3h-6zM192 513h3v3h-3zM351 513h6v3h-6zM189 516h3v3h-3zM345 516h9v3h-9zM186 519h3v3h-3zM342 519h6v3h-6zM180 522h3v3h-3zM339 522h6v3h-6zM171 525h6v3h-6zM336 525h6v3h-6zM165 528h3v3h-3zM333 528h6v3h-6zM162 531h3v3h-3zM330 531h6v3h-6zM156 534h3v3h-3zM327 534h6v3h-6zM153 537h3v3h-3zM327 537h3v3h-3zM150 540h3v3h-3zM324 540h3v3h-3zM144 543h6v3h-6zM321 543h3v3h-3zM138 546h6v3h-6zM318 546h3v3h-3zM318 549h3v3h-3zM315 552h3v3h-3zM312 555h3v3h-3zM312 558h3v3h-3zM309 564h3v3h-3zM300 585h3v3h-3zM303 633h3v3h-3zM306 639h3v3h-3zM309 648h3v3h-3zM312 654h3v3h-3zM318 669h3v3h-3z"/>
<path fill="#dcdcff" d="M333 438h15v3h-15zM324 441h33v3h-33zM318 444h15v3h-15zM345 444h15v3h-15zM303 447h21v3h-21zM351 447h15v3h-15zM291 450h27v3h-27zM357 450h12v3h-12zM285 453h15v3h-15zM360 453h9v3h-9zM282 456h9v3h-9zM360 456h12v3h-12zM279 459h9v3h-9zM363 459h12v3h-12zM276 462h9v3h-9zM366 462h9v3h-9zM270 465h12v3h-12zM366 465h9v3h-9zM264 468h15v3h-15zM366 468h9v3h-9zM258 471h12v3h-12zM366 471h9v3h-9zM252 474h9v3h-9zM369 474h9v3h-9zM246 477h6v3h-6zM369 477h9v3h-9zM243 480h6v3h-6zM369 480h9v3h-9zM237 483h6v3h-6zM369 483h9v3h-9zM231 486h9v3h-9zM372 486h6v3h-6zM219 489h12v3h-12zM372 489h6v3h-6zM210 492h9v3h-9zM372 492h6v3h-6zM207 495h3v3h-3zM369 495h9v3h-9zM201 498h6v3h-6zM369 498h6v3h-6zM198 501h3v3h-3zM366 501h9v3h-9zM366 504h6v3h-6zM195 507h3v3h-3zM363 507h6v3h-6zM192 510h3v3h-3zM360 510h6v3h-6zM189 513h3v3h-3zM357 513h6v3h-6zM186 516h3v3h-3zM354 516h6v3h-6zM183 519h3v3h-3zM348 519h6v3h-6zM174 522h6v3h-6zM345 522h6v3h-6zM165 525h6v3h-6zM342 525h6v3h-6zM162 528h3v3h-3zM339 528h3v3h-3zM159 531h3v3h-3zM336 531h3v3h-3zM153 534h3v3h-3zM333 534h3v3h-3zM150 537h3v3h-3zM330 537h3v3h-3zM141 540h9v3h-9zM327 540h3v3h-3zM138 543h6v3h-6zM324 543h6v3h-6zM321 546h6v3h-6zM321 549h3v3h-3zM318 552h3v3h-3zM315 555h3v3h-3zM312 561h3v3h-3zM309 567h3v3h-3zM306 573h3v3h-3zM303 579h3v3h-3zM300 588h3v3h-3zM300 591h3v3h-3zM300 621h3v3h-3zM303 630h3v3h-3zM306 636h3v3h-3zM309 645h3v3h-3zM315 660h3v3h-3zM318 666h3v3h-3zM321 675h3v3h-3zM321 678h3v3h-3z"/>
<path fill="#e1e1ff" d="M327 432h30v3h-30zM321 435h45v3h-45zM315 438h18v3h-18zM348 438h21v3h-21zM303 441h21v3h-21zM357 441h15v3h-15zM291 444h27v3h-27zM360 444h18v3h-18zM288 447h15v3h-15zM366 447h12v3h-12zM282 450h9v3h-9zM369 450h12v3h-12zM279 453h6v3h-6zM369 453h15v3h-15zM273 456h9v3h-9zM372 456h12v3h-12zM270 459h9v3h-9zM375 459h12v3h-12zM264 462h12v3h-12zM375 462h12v3h-12zM261 465h9v3h-9zM375 465h12v3h-12zM255 468h9v3h-9zM375 468h12v3h-12zM249 471h9v3h-9zM375 471h12v3h-12zM243 474h9v3h-9zM378 474h9v3h-9zM240 477h6v3h-6zM378 477h9v3h-9zM237 480h6v3h-6zM378 480h9v3h-9zM234 483h3v3h-3zM378 483h9v3h-9zM222 486h9v3h-9zM378 486h9v3h-9zM213 489h6v3h-6zM378 489h9v3h-9zM207 492h3v3h-3zM378 492h9v3h-9zM204 495h3v3h-3zM378 495h9v3h-9zM198 498h3v3h-3zM375 498h9v3h-9zM195 501h3v3h-3zM375 501h9v3h-9zM195 504h3v3h-3zM372 504h6v3h-6zM192 507h3v3h-3zM369 507h6v3h-6zM366 510h6v3h-6zM363 513h6v3h-6zM360 516h3v3h-3zM177 519h6v3h-6zM354 519h6v3h-6zM168 522h6v3h-6zM351 522h6v3h-6zM162 525h3v3h-3zM348 525h3v3h-3zM159 528h3v3h-3zM342 528h6v3h-6zM156 531h3v3h-3zM339 531h6v3h-6zM150 534h3v3h-3zM336 534h3v3h-3zM144 537h6v3h-6zM333 537h3v3h-3zM330 540h3v3h-3zM330 543h3v3h-3zM327 546h3v3h-3zM324 549h3v3h-3zM321 552h3v3h-3zM318 555h3v3h-3zM315 558h3v3h-3zM312 564h3v3h-3zM309 570h3v3h-3zM306 576h3v3h-3zM303 582h3v3h-3zM300 594h3v3h-3zM300 597h3v3h-3zM300 600h3v3h-3zM300 603h3v3h-3zM300 615h3v3h-3zM300 618h3v3h-3zM303 627h3v3h-3zM309 642h3v3h-3zM312 651h3v3h-3zM315 657h3v3h-3zM318 663h3v3h-3zM321 669h3v3h-3zM321 672h3v3h-3z"/>
<path fill="#e7e7ff" d="M330 423h33v3h-33zM321 426h51v3h-51zM315 429h63v3h-63zM312 432h15v3h-15zM357 432h27v3h-27zM306 435h15v3h-15zM366 435h21v3h-21zM297 438h18v3h-18zM369 438h21v3h-21zM288 441h15v3h-15zM372 441h21v3h-21zM282 444h9v3h-9zM378 444h18v3h-18zM279 447h9v3h-9zM378 447h18v3h-18zM273 450h9v3h-9zM381 450h15v3h-15zM270 453h9v3h-9zM384 453h15v3h-15zM264 456h9v3h-9zM384 456h15v3h-15zM261 459h9v3h-9zM387 459h12v3h-12zM255 462h9v3h-9zM387 462h12v3h-12zM249 465h12v3h-12zM387 465h12v3h-12zM246 468h9v3h-9zM387 468h12v3h-12zM243 471h6v3h-6zM387 471h12v3h-12zM240 474h3v3h-3zM387 474h12v3h-12zM237 477h3v3h-3zM387 477h12v3h-12zM231 480h6v3h-6zM387 480h9v3h-9zM222 483h12v3h-12zM387 483h9v3h-9zM213 486h9v3h-9zM387 486h9v3h-9zM207 489h6v3h-6zM387 489h12v3h-12zM204 492h3v3h-3zM387 492h12v3h-12zM198 495h6v3h-6zM387 495h12v3h-12zM195 498h3v3h-3zM384 498h9v3h-9zM384 501h6v3h-6zM192 504h3v3h-3zM378 504h6v3h-6zM375 507h6v3h-6zM189 510h3v3h-3zM372 510h3v3h-3zM186 513h3v3h-3zM369 513h3v3h-3zM183 516h3v3h-3zM363 516h6v3h-6zM171 519h6v3h-6zM360 519h3v3h-3zM165 522h3v3h-3zM357 522h3v3h-3zM159 525h3v3h-3zM351 525h3v3h-3zM156 528h3v3h-3zM348 528h3v3h-3zM150 531h6v3h-6zM345 531h3v3h-3zM144 534h6v3h-6zM339 534h3v3h-3zM336 537h3v3h-3zM333 540h3v3h-3zM330 546h3v3h-3zM327 549h3v3h-3zM324 552h3v3h-3zM321 555h3v3h-3zM318 558h3v3h-3zM315 561h3v3h-3zM312 567h3v3h-3zM309 573h3v3h-3zM306 579h3v3h-3zM303 585h3v3h-3zM300 606h3v3h-3zM300 609h3v3h-3zM300 612h3v3h-3zM303 624h3v3h-3zM306 633h3v3h-3zM309 639h3v3h-3zM312 648h3v3h-3zM315 654h3v3h-3zM318 660h3v3h-3zM324 675h3v3h-3zM324 678h3v3h-3z"/>
<path fill="#ececff" d="M336 414h12v3h-12zM327 417h45v3h-45zM318 420h66v3h-66zM312 423h18v3h-18zM363 423h27v3h-27zM309 426h12v3h-12zM372 426h24v3h-24zM306 429h9v3h-9zM378 429h24v3h-24zM300 432h12v3h-12zM384 432h21v3h-21zM294 435h12v3h-12zM387 435h21v3h-21zM288 438h9v3h-9zM390 438h21v3h-21zM282 441h6v3h-6zM393 441h18v3h-18zM276 444h6v3h-6zM396 444h15v3h-15zM273 447h6v3h-6zM396 447h15v3h-15zM267 450h6v3h-6zM396 450h15v3h-15zM264 453h6v3h-6zM399 453h12v3h-12zM258 456h6v3h-6zM399 456h12v3h-12zM252 459h9v3h-9zM399 459h15v3h-15zM249 462h6v3h-6zM399 462h18v3h-18zM246 465h3v3h-3zM399 465h36v3h-36zM240 468h6v3h-6zM399 468h36v3h-36zM237 471h6v3h-6zM399 471h36v3h-36zM231 474h9v3h-9zM399 474h18v3h-18zM420 474h15v3h-15zM228 477h9v3h-9zM399 477h15v3h-15zM423 477h12v3h-12zM219 480h12v3h-12zM396 480h15v3h-15zM423 480h9v3h-9zM213 483h9v3h-9zM396 483h15v3h-15zM423 483h9v3h-9zM207 486h6v3h-6zM396 486h33v3h-33zM204 489h3v3h-3zM399 489h27v3h-27zM198 492h6v3h-6zM399 492h18v3h-18zM195 495h3v3h-3zM399 495h6v3h-6zM393 498h6v3h-6zM192 501h3v3h-3zM390 501h3v3h-3zM384 504h3v3h-3zM189 507h3v3h-3zM381 507h3v3h-3zM186 510h3v3h-3zM375 510h3v3h-3zM183 513h3v3h-3zM372 513h3v3h-3zM177 516h6v3h-6zM369 516h3v3h-3zM165 519h6v3h-6zM363 519h3v3h-3zM162 522h3v3h-3zM360 522h3v3h-3zM156 525h3v3h-3zM354 525h3v3h-3zM147 528h9v3h-9zM351 528h3v3h-3zM147 531h3v3h-3zM348 531h3v3h-3zM342 534h3v3h-3zM339 537h3v3h-3zM336 540h3v3h-3zM333 543h3v3h-3zM321 558h3v3h-3zM318 561h3v3h-3zM315 564h3v3h-3zM312 570h3v3h-3zM303 588h3v3h-3zM303 621h3v3h-3zM306 630h3v3h-3zM309 636h3v3h-3zM312 645h3v3h-3zM315 651h3v3h-3zM321 666h3v3h-3zM324 672h3v3h-3zM324 681h3v3h-3z"/>
<path fill="#f2f2ff" d="M333 411h24v3h-24zM324 414h12v3h-12zM348 414h30v3h-30zM318 417h9v3h-9zM372 417h12v3h-12zM312 420h6v3h-6zM384 420h9v3h-9zM309 423h3v3h-3zM390 423h9v3h-9zM306 426h3v3h-3zM396 426h9v3h-9zM300 429h6v3h-6zM402 429h9v3h-9zM294 432h6v3h-6zM405 432h9v3h-9zM288 435h6v3h-6zM408 435h9v3h-9zM282 438h6v3h-6zM411 438h9v3h-9zM276 441h6v3h-6zM411 441h12v3h-12zM273 444h3v3h-3zM411 444h15v3h-15zM267 447h6v3h-6zM411 447h18v3h-18zM261 450h6v3h-6zM411 450h21v3h-21zM258 453h6v3h-6zM411 453h24v3h-24zM252 456h6v3h-6zM411 456h24v3h-24zM246 459h6v3h-6zM414 459h24v3h-24zM243 462h6v3h-6zM417 462h21v3h-21zM240 465h6v3h-6zM435 465h3v3h-3zM234 468h6v3h-6zM435 468h3v3h-3zM228 471h9v3h-9zM435 471h3v3h-3zM222 474h9v3h-9zM417 474h3v3h-3zM435 474h3v3h-3zM219 477h9v3h-9zM414 477h9v3h-9zM435 477h3v3h-3zM213 480h6v3h-6zM411 480h12v3h-12zM432 480h3v3h-3zM207 483h6v3h-6zM411 483h12v3h-12zM204 486h3v3h-3zM429 486h3v3h-3zM201 489h3v3h-3zM426 489h3v3h-3zM195 492h3v3h-3zM417 492h9v3h-9zM192 495h3v3h-3zM405 495h6v3h-6zM192 498h3v3h-3zM399 498h3v3h-3zM189 501h3v3h-3zM393 501h3v3h-3zM189 504h3v3h-3zM387 504h3v3h-3zM186 507h3v3h-3zM384 507h3v3h-3zM378 510h3v3h-3zM180 513h3v3h-3zM375 513h3v3h-3zM168 516h9v3h-9zM162 519h3v3h-3zM366 519h3v3h-3zM156 522h6v3h-6zM363 522h3v3h-3zM150 525h6v3h-6zM357 525h3v3h-3zM354 528h3v3h-3zM345 534h3v3h-3zM333 546h3v3h-3zM330 549h3v3h-3zM327 552h3v3h-3zM324 555h3v3h-3zM315 567h3v3h-3zM309 576h3v3h-3zM306 582h3v3h-3zM303 591h3v3h-3zM303 594h3v3h-3zM303 597h3v3h-3zM303 615h3v3h-3zM303 618h3v3h-3zM306 627h3v3h-3zM309 633h3v3h-3zM312 642h3v3h-3zM315 648h3v3h-3zM318 657h3v3h-3zM321 663h3v3h-3zM324 669h3v3h-3zM327 675h3v3h-3zM327 678h3v3h-3zM327 681h3v3h-3z"/>
<path fill="#f7f7ff" d="M333 408h21v3h-21zM324 411h9v3h-9zM357 411h21v3h-21zM318 414h6v3h-6zM378 414h6v3h-6zM312 417h6v3h-6zM384 417h9v3h-9zM309 420h3v3h-3zM393 420h6v3h-6zM306 423h3v3h-3zM399 423h6v3h-6zM300 426h6v3h-6zM405 426h6v3h-6zM294 429h6v3h-6zM411 429h3v3h-3zM288 432h6v3h-6zM414 432h3v3h-3zM282 435h6v3h-6zM417 435h3v3h-3zM276 438h6v3h-6zM420 438h6v3h-6zM273 441h3v3h-3zM423 441h6v3h-6zM267 444h6v3h-6zM426 444h6v3h-6zM264 447h3v3h-3zM429 447h3v3h-3zM258 450h3v3h-3zM432 450h3v3h-3zM252 453h6v3h-6zM435 453h3v3h-3zM246 456h6v3h-6zM435 456h3v3h-3zM243 459h3v3h-3zM438 459h3v3h-3zM240 462h3v3h-3zM438 462h3v3h-3zM234 465h6v3h-6zM438 465h3v3h-3zM228 468h6v3h-6zM438 468h3v3h-3zM222 471h6v3h-6zM438 471h3v3h-3zM219 474h3v3h-3zM438 474h3v3h-3zM213 477h6v3h-6zM438 477h3v3h-3zM210 480h3v3h-3zM435 480h3v3h-3zM204 483h3v3h-3zM432 483h3v3h-3zM201 486h3v3h-3zM195 489h6v3h-6zM429 489h3v3h-3zM168 492h6v3h-6zM192 492h3v3h-3zM426 492h3v3h-3zM165 495h9v3h-9zM411 495h12v3h-12zM189 498h3v3h-3zM402 498h3v3h-3zM396 501h3v3h-3zM186 504h3v3h-3zM390 504h3v3h-3zM387 507h3v3h-3zM183 510h3v3h-3zM381 510h3v3h-3zM174 513h6v3h-6zM378 513h3v3h-3zM162 516h6v3h-6zM372 516h3v3h-3zM153 519h9v3h-9zM369 519h3v3h-3zM150 522h6v3h-6zM366 522h3v3h-3zM360 525h3v3h-3zM351 531h3v3h-3zM342 537h3v3h-3zM339 540h3v3h-3zM336 543h3v3h-3zM330 552h3v3h-3zM327 555h3v3h-3zM324 558h3v3h-3zM321 561h3v3h-3zM318 564h3v3h-3zM312 573h3v3h-3zM309 579h3v3h-3zM306 585h3v3h-3zM303 600h3v3h-3zM303 603h3v3h-3zM303 606h3v3h-3zM303 609h3v3h-3zM303 612h3v3h-3zM306 624h3v3h-3zM312 639h3v3h-3zM315 645h3v3h-3zM318 654h3v3h-3zM321 660h3v3h-3zM324 666h3v3h-3zM327 672h3v3h-3z"/>
<path fill="#fcfcff" d="M336 405h18v3h-18zM327 408h6v3h-6zM354 408h24v3h-24zM318 411h6v3h-6zM378 411h6v3h-6zM312 414h6v3h-6zM384 414h6v3h-6zM309 417h3v3h-3zM393 417h6v3h-6zM306 420h3v3h-3zM399 420h6v3h-6zM303 423h3v3h-3zM405 423h6v3h-6zM297 426h3v3h-3zM411 426h3v3h-3zM291 429h3v3h-3zM414 429h3v3h-3zM282 432h6v3h-6zM417 432h3v3h-3zM276 435h6v3h-6zM420 435h6v3h-6zM273 438h3v3h-3zM426 438h3v3h-3zM267 441h6v3h-6zM429 441h3v3h-3zM264 444h3v3h-3zM432 444h3v3h-3zM258 447h6v3h-6zM432 447h3v3h-3zM252 450h6v3h-6zM435 450h3v3h-3zM246 453h6v3h-6zM438 453h3v3h-3zM243 456h3v3h-3zM438 456h3v3h-3zM237 459h6v3h-6zM441 459h3v3h-3zM234 462h6v3h-6zM441 462h3v3h-3zM228 465h6v3h-6zM225 468h3v3h-3zM219 471h3v3h-3zM213 474h6v3h-6zM210 477h3v3h-3zM441 477h3v3h-3zM204 480h6v3h-6zM438 480h6v3h-6zM201 483h3v3h-3zM435 483h3v3h-3zM198 486h3v3h-3zM432 486h3v3h-3zM168 489h9v3h-9zM192 489h3v3h-3zM174 492h3v3h-3zM189 492h3v3h-3zM429 492h3v3h-3zM174 495h3v3h-3zM189 495h3v3h-3zM423 495h6v3h-6zM165 498h12v3h-12zM186 498h3v3h-3zM405 498h6v3h-6zM171 501h3v3h-3zM186 501h3v3h-3zM399 501h3v3h-3zM393 504h3v3h-3zM183 507h3v3h-3zM180 510h3v3h-3zM384 510h3v3h-3zM156 513h18v3h-18zM153 516h9v3h-9zM375 516h3v3h-3zM372 519h3v3h-3zM363 525h3v3h-3zM357 528h3v3h-3zM354 531h3v3h-3zM348 534h3v3h-3zM336 546h3v3h-3zM333 549h3v3h-3zM315 570h3v3h-3zM312 576h3v3h-3zM309 582h3v3h-3zM306 588h3v3h-3zM306 621h3v3h-3zM309 630h3v3h-3zM312 636h3v3h-3zM315 642h3v3h-3zM318 651h3v3h-3zM321 657h3v3h-3zM327 669h3v3h-3zM330 678h3v3h-3zM330 681h3v3h-3zM330 684h3v3h-3z"/>
<path fill="#fffcfc" d="M336 402h21v3h-21zM330 405h6v3h-6zM354 405h24v3h-24zM321 408h6v3h-6zM378 408h6v3h-6zM312 411h6v3h-6zM384 411h6v3h-6zM309 414h3v3h-3zM390 414h9v3h-9zM306 417h3v3h-3zM399 417h6v3h-6zM303 420h3v3h-3zM405 420h6v3h-6zM297 423h6v3h-6zM411 423h3v3h-3zM291 426h6v3h-6zM414 426h3v3h-3zM285 429h6v3h-6zM417 429h3v3h-3zM279 432h3v3h-3zM420 432h6v3h-6zM273 435h3v3h-3zM426 435h3v3h-3zM267 438h6v3h-6zM429 438h3v3h-3zM264 441h3v3h-3zM432 441h3v3h-3zM258 444h6v3h-6zM435 444h3v3h-3zM255 447h3v3h-3zM435 447h3v3h-3zM249 450h3v3h-3zM438 450h3v3h-3zM243 453h3v3h-3zM441 453h3v3h-3zM237 456h6v3h-6zM441 456h3v3h-3zM234 459h3v3h-3zM228 462h6v3h-6zM225 465h3v3h-3zM441 465h3v3h-3zM219 468h6v3h-6zM441 468h3v3h-3zM216 471h3v3h-3zM441 471h3v3h-3zM210 474h3v3h-3zM441 474h3v3h-3zM204 477h6v3h-6zM444 477h3v3h-3zM201 480h3v3h-3zM444 480h3v3h-3zM171 483h3v3h-3zM198 483h3v3h-3zM438 483h3v3h-3zM171 486h6v3h-6zM192 486h6v3h-6zM177 489h3v3h-3zM189 489h3v3h-3zM432 489h3v3h-3zM177 492h12v3h-12zM177 495h12v3h-12zM177 498h9v3h-9zM411 498h6v3h-6zM162 501h9v3h-9zM174 501h12v3h-12zM402 501h3v3h-3zM159 504h18v3h-18zM183 504h3v3h-3zM159 507h15v3h-15zM180 507h3v3h-3zM390 507h3v3h-3zM156 510h24v3h-24zM381 513h3v3h-3zM369 522h3v3h-3zM366 525h3v3h-3zM360 528h3v3h-3zM351 534h3v3h-3zM345 537h3v3h-3zM342 540h3v3h-3zM339 543h3v3h-3zM333 552h3v3h-3zM330 555h3v3h-3zM327 558h3v3h-3zM324 561h3v3h-3zM321 564h3v3h-3zM318 567h3v3h-3zM315 573h3v3h-3zM306 591h3v3h-3zM306 594h3v3h-3zM306 615h3v3h-3zM306 618h3v3h-3zM309 627h3v3h-3zM312 633h3v3h-3zM315 639h3v3h-3zM318 648h3v3h-3zM324 663h3v3h-3zM330 675h3v3h-3zM333 681h3v3h-3zM333 684h3v3h-3z"/>
<path fill="#fff7f7" d="M342 396h15v3h-15zM336 399h24v3h-24zM330 402h6v3h-6zM357 402h24v3h-24zM321 405h9v3h-9zM378 405h6v3h-6zM315 408h6v3h-6zM384 408h6v3h-6zM309 411h3v3h-3zM390 411h9v3h-9zM306 414h3v3h-3zM399 414h12v3h-12zM303 417h3v3h-3zM405 417h9v3h-9zM297 420h6v3h-6zM411 420h6v3h-6zM291 423h6v3h-6zM414 423h3v3h-3zM285 426h6v3h-6zM417 426h6v3h-6zM279 429h6v3h-6zM420 429h6v3h-6zM273 432h6v3h-6zM426 432h3v3h-3zM270 435h3v3h-3zM429 435h3v3h-3zM264 438h3v3h-3zM432 438h3v3h-3zM258 441h6v3h-6zM435 441h3v3h-3zM255 444h3v3h-3zM438 444h3v3h-3zM249 447h6v3h-6zM438 447h3v3h-3zM243 450h6v3h-6zM441 450h3v3h-3zM237 453h6v3h-6zM444 453h3v3h-3zM234 456h3v3h-3zM444 456h3v3h-3zM228 459h6v3h-6zM444 459h3v3h-3zM225 462h3v3h-3zM444 462h3v3h-3zM219 465h6v3h-6zM216 468h3v3h-3zM210 471h6v3h-6zM207 474h3v3h-3zM444 474h3v3h-3zM201 477h3v3h-3zM198 480h3v3h-3zM447 480h3v3h-3zM174 483h6v3h-6zM192 483h6v3h-6zM441 483h6v3h-6zM177 486h6v3h-6zM189 486h3v3h-3zM435 486h3v3h-3zM180 489h9v3h-9zM432 492h3v3h-3zM429 495h3v3h-3zM417 498h12v3h-12zM405 501h3v3h-3zM177 504h6v3h-6zM396 504h3v3h-3zM174 507h6v3h-6zM387 510h3v3h-3zM378 516h3v3h-3zM375 519h3v3h-3zM372 522h3v3h-3zM369 525h3v3h-3zM363 528h3v3h-3zM357 531h3v3h-3zM348 537h3v3h-3zM336 549h3v3h-3zM318 570h3v3h-3zM312 579h3v3h-3zM309 585h3v3h-3zM306 597h3v3h-3zM306 600h3v3h-3zM306 603h3v3h-3zM306 606h3v3h-3zM306 609h3v3h-3zM306 612h3v3h-3zM309 624h3v3h-3zM312 630h3v3h-3zM318 645h3v3h-3zM321 654h3v3h-3zM324 660h3v3h-3zM327 666h3v3h-3zM330 672h3v3h-3zM333 678h3v3h-3zM336 687h3v3h-3z"/>
<path fill="#fff2f2" d="M345 387h81v3h-81zM339 390h99v3h-99zM336 393h108v3h-108zM333 396h9v3h-9zM357 396h90v3h-90zM327 399h9v3h-9zM360 399h87v3h-87zM321 402h9v3h-9zM381 402h69v3h-69zM312 405h9v3h-9zM384 405h66v3h-66zM306 408h9v3h-9zM390 408h63v3h-63zM303 411h6v3h-6zM399 411h54v3h-54zM300 414h6v3h-6zM411 414h42v3h-42zM297 417h6v3h-6zM414 417h39v3h-39zM291 420h6v3h-6zM417 420h36v3h-36zM285 423h6v3h-6zM417 423h36v3h-36zM276 426h9v3h-9zM423 426h27v3h-27zM273 429h6v3h-6zM426 429h24v3h-24zM267 432h6v3h-6zM429 432h18v3h-18zM264 435h6v3h-6zM432 435h9v3h-9zM258 438h6v3h-6zM435 438h9v3h-9zM255 441h3v3h-3zM438 441h6v3h-6zM249 444h6v3h-6zM441 444h6v3h-6zM243 447h6v3h-6zM441 447h6v3h-6zM237 450h6v3h-6zM444 450h6v3h-6zM234 453h3v3h-3zM447 453h3v3h-3zM228 456h6v3h-6zM447 456h3v3h-3zM225 459h3v3h-3zM447 459h3v3h-3zM219 462h6v3h-6zM213 465h6v3h-6zM444 465h3v3h-3zM210 468h6v3h-6zM444 468h3v3h-3zM204 471h6v3h-6zM444 471h3v3h-3zM201 474h6v3h-6zM174 477h3v3h-3zM195 477h6v3h-6zM447 477h3v3h-3zM174 480h9v3h-9zM192 480h6v3h-6zM450 480h3v3h-3zM180 483h12v3h-12zM447 483h3v3h-3zM183 486h6v3h-6zM438 486h3v3h-3zM435 489h3v3h-3zM408 501h3v3h-3zM399 504h3v3h-3zM393 507h3v3h-3zM390 510h3v3h-3zM384 513h3v3h-3zM381 516h3v3h-3zM372 525h3v3h-3zM366 528h3v3h-3zM354 534h3v3h-3zM351 537h3v3h-3zM345 540h3v3h-3zM342 543h3v3h-3zM339 546h3v3h-3zM333 555h3v3h-3zM330 558h3v3h-3zM327 561h3v3h-3zM324 564h3v3h-3zM321 567h3v3h-3zM315 576h3v3h-3zM312 582h3v3h-3zM309 588h3v3h-3zM309 621h3v3h-3zM315 636h3v3h-3zM318 642h3v3h-3zM321 651h3v3h-3zM330 669h3v3h-3zM333 675h3v3h-3zM336 681h3v3h-3zM336 684h3v3h-3z"/>
<path fill="#ffecec" d="M396 369h39v3h-39zM378 372h63v3h-63zM360 375h87v3h-87zM345 378h105v3h-105zM339 381h111v3h-111zM333 384h120v3h-120zM330 387h15v3h-15zM426 387h30v3h-30zM324 390h15v3h-15zM438 390h21v3h-21zM321 393h15v3h-15zM444 393h15v3h-15zM315 396h18v3h-18zM447 396h15v3h-15zM309 399h18v3h-18zM447 399h15v3h-15zM306 402h15v3h-15zM450 402h15v3h-15zM303 405h9v3h-9zM450 405h15v3h-15zM300 408h6v3h-6zM453 408h12v3h-12zM294 411h9v3h-9zM453 411h15v3h-15zM288 414h12v3h-12zM453 414h15v3h-15zM282 417h15v3h-15zM453 417h15v3h-15zM276 420h15v3h-15zM453 420h15v3h-15zM270 423h15v3h-15zM453 423h15v3h-15zM267 426h9v3h-9zM450 426h18v3h-18zM261 429h12v3h-12zM450 429h18v3h-18zM258 432h9v3h-9zM447 432h21v3h-21zM255 435h9v3h-9zM441 435h24v3h-24zM252 438h6v3h-6zM444 438h21v3h-21zM246 441h9v3h-9zM444 441h21v3h-21zM240 444h9v3h-9zM447 444h15v3h-15zM234 447h9v3h-9zM447 447h15v3h-15zM228 450h9v3h-9zM450 450h12v3h-12zM225 453h9v3h-9zM450 453h9v3h-9zM219 456h9v3h-9zM450 456h6v3h-6zM216 459h9v3h-9zM450 459h6v3h-6zM210 462h9v3h-9zM447 462h3v3h-3zM207 465h6v3h-6zM201 468h9v3h-9zM195 471h9v3h-9zM177 474h6v3h-6zM192 474h9v3h-9zM447 474h3v3h-3zM177 477h18v3h-18zM450 477h3v3h-3zM183 480h9v3h-9zM450 483h3v3h-3zM441 486h3v3h-3zM432 495h3v3h-3zM429 498h3v3h-3zM411 501h18v3h-18zM402 504h3v3h-3zM396 507h3v3h-3zM387 513h3v3h-3zM378 519h3v3h-3zM375 522h3v3h-3zM369 528h3v3h-3zM360 531h3v3h-3zM357 534h3v3h-3zM339 549h3v3h-3zM336 552h3v3h-3zM318 573h3v3h-3zM315 579h3v3h-3zM312 585h3v3h-3zM309 591h3v3h-3zM309 594h3v3h-3zM309 615h3v3h-3zM309 618h3v3h-3zM312 627h3v3h-3zM315 633h3v3h-3zM318 639h3v3h-3zM321 648h3v3h-3zM324 657h3v3h-3zM327 663h3v3h-3z"/>
<path fill="#ffe7e7" d="M411 357h30v3h-30zM396 360h48v3h-48zM378 363h72v3h-72zM363 366h90v3h-90zM351 369h45v3h-45zM435 369h21v3h-21zM339 372h39v3h-39zM441 372h15v3h-15zM333 375h27v3h-27zM447 375h12v3h-12zM327 378h18v3h-18zM450 378h12v3h-12zM324 381h15v3h-15zM450 381h12v3h-12zM318 384h15v3h-15zM453 384h12v3h-12zM315 387h15v3h-15zM456 387h12v3h-12zM312 390h12v3h-12zM459 390h9v3h-9zM306 393h15v3h-15zM459 393h12v3h-12zM303 396h12v3h-12zM462 396h12v3h-12zM300 399h9v3h-9zM462 399h12v3h-12zM294 402h12v3h-12zM465 402h12v3h-12zM291 405h12v3h-12zM465 405h12v3h-12zM285 408h15v3h-15zM465 408h12v3h-12zM279 411h15v3h-15zM468 411h9v3h-9zM273 414h15v3h-15zM468 414h9v3h-9zM267 417h15v3h-15zM468 417h9v3h-9zM264 420h12v3h-12zM468 420h9v3h-9zM261 423h9v3h-9zM468 423h9v3h-9zM258 426h9v3h-9zM468 426h9v3h-9zM255 429h6v3h-6zM468 429h9v3h-9zM252 432h6v3h-6zM468 432h6v3h-6zM246 435h9v3h-9zM465 435h9v3h-9zM243 438h9v3h-9zM465 438h9v3h-9zM234 441h12v3h-12zM465 441h9v3h-9zM228 444h12v3h-12zM462 444h9v3h-9zM222 447h12v3h-12zM462 447h9v3h-9zM219 450h9v3h-9zM462 450h6v3h-6zM216 453h9v3h-9zM459 453h6v3h-6zM210 456h9v3h-9zM456 456h9v3h-9zM204 459h12v3h-12zM456 459h6v3h-6zM201 462h9v3h-9zM450 462h12v3h-12zM195 465h12v3h-12zM447 465h3v3h-3zM180 468h21v3h-21zM447 468h3v3h-3zM177 471h18v3h-18zM447 471h3v3h-3zM183 474h9v3h-9zM450 474h3v3h-3zM453 477h3v3h-3zM453 480h3v3h-3zM453 483h3v3h-3zM444 486h9v3h-9zM438 489h3v3h-3zM435 492h3v3h-3zM432 498h3v3h-3zM429 501h3v3h-3zM444 501h6v3h-6zM405 504h3v3h-3zM420 504h12v3h-12zM441 504h9v3h-9zM399 507h3v3h-3zM423 507h9v3h-9zM435 507h12v3h-12zM393 510h3v3h-3zM435 510h9v3h-9zM384 516h3v3h-3zM375 525h3v3h-3zM372 528h3v3h-3zM363 531h6v3h-6zM354 537h3v3h-3zM348 540h3v3h-3zM345 543h3v3h-3zM342 546h3v3h-3zM330 561h3v3h-3zM327 564h3v3h-3zM324 567h3v3h-3zM321 570h3v3h-3zM318 576h3v3h-3zM315 582h3v3h-3zM312 588h3v3h-3zM309 597h3v3h-3zM309 600h3v3h-3zM309 603h3v3h-3zM309 606h3v3h-3zM309 609h3v3h-3zM309 612h3v3h-3zM312 624h3v3h-3zM315 630h3v3h-3zM321 645h3v3h-3zM324 654h3v3h-3zM330 666h3v3h-3zM333 672h3v3h-3zM336 678h3v3h-3zM339 684h3v3h-3z"/>
<path fill="#ffe1e1" d="M414 342h9v3h-9zM408 345h24v3h-24zM402 348h36v3h-36zM393 351h51v3h-51zM381 354h69v3h-69zM369 357h42v3h-42zM441 357h12v3h-12zM354 360h42v3h-42zM444 360h12v3h-12zM342 363h36v3h-36zM450 363h9v3h-9zM333 366h30v3h-30zM453 366h9v3h-9zM327 369h24v3h-24zM456 369h9v3h-9zM324 372h15v3h-15zM456 372h12v3h-12zM318 375h15v3h-15zM459 375h9v3h-9zM315 378h12v3h-12zM462 378h9v3h-9zM312 381h12v3h-12zM462 381h12v3h-12zM309 384h9v3h-9zM465 384h9v3h-9zM303 387h12v3h-12zM468 387h9v3h-9zM300 390h12v3h-12zM468 390h12v3h-12zM297 393h9v3h-9zM471 393h12v3h-12zM291 396h12v3h-12zM474 396h9v3h-9zM285 399h15v3h-15zM474 399h12v3h-12zM282 402h12v3h-12zM477 402h9v3h-9zM276 405h15v3h-15zM477 405h9v3h-9zM270 408h15v3h-15zM477 408h9v3h-9zM267 411h12v3h-12zM477 411h9v3h-9zM261 414h12v3h-12zM477 414h9v3h-9zM258 417h9v3h-9zM477 417h9v3h-9zM255 420h9v3h-9zM477 420h9v3h-9zM252 423h9v3h-9zM477 423h6v3h-6zM252 426h6v3h-6zM477 426h6v3h-6zM246 429h9v3h-9zM477 429h6v3h-6zM243 432h9v3h-9zM474 432h9v3h-9zM237 435h9v3h-9zM474 435h9v3h-9zM231 438h12v3h-12zM474 438h6v3h-6zM222 441h12v3h-12zM474 441h6v3h-6zM219 444h9v3h-9zM471 444h9v3h-9zM213 447h9v3h-9zM471 447h9v3h-9zM210 450h9v3h-9zM468 450h9v3h-9zM204 453h12v3h-12zM465 453h9v3h-9zM198 456h12v3h-12zM465 456h6v3h-6zM192 459h12v3h-12zM462 459h9v3h-9zM180 462h21v3h-21zM462 462h6v3h-6zM180 465h15v3h-15zM450 465h15v3h-15zM450 468h15v3h-15zM450 471h12v3h-12zM453 474h6v3h-6zM456 477h3v3h-3zM456 480h3v3h-3zM456 483h3v3h-3zM453 486h6v3h-6zM441 489h18v3h-18zM438 492h21v3h-21zM435 495h24v3h-24zM435 498h24v3h-24zM432 501h12v3h-12zM450 501h9v3h-9zM408 504h12v3h-12zM432 504h9v3h-9zM450 504h9v3h-9zM402 507h3v3h-3zM420 507h3v3h-3zM432 507h3v3h-3zM447 507h9v3h-9zM396 510h3v3h-3zM420 510h15v3h-15zM444 510h12v3h-12zM390 513h3v3h-3zM426 513h27v3h-27zM387 516h3v3h-3zM432 516h18v3h-18zM381 519h3v3h-3zM378 522h3v3h-3zM375 528h3v3h-3zM369 531h6v3h-6zM360 534h6v3h-6zM357 537h3v3h-3zM351 540h3v3h-3zM348 543h3v3h-3zM342 549h3v3h-3zM339 552h3v3h-3zM336 555h3v3h-3zM333 558h3v3h-3zM321 573h3v3h-3zM318 579h3v3h-3zM315 585h3v3h-3zM312 591h3v3h-3zM312 621h3v3h-3zM318 636h3v3h-3zM321 642h3v3h-3zM327 660h3v3h-3zM336 675h3v3h-3zM339 681h3v3h-3z"/>
<path fill="#ffdcdc" d="M399 327h18v3h-18zM396 330h27v3h-27zM396 333h33v3h-33zM393 336h39v3h-39zM390 339h45v3h-45zM387 342h27v3h-27zM423 342h18v3h-18zM378 345h30v3h-30zM432 345h15v3h-15zM369 348h33v3h-33zM438 348h12v3h-12zM357 351h36v3h-36zM444 351h12v3h-12zM345 354h36v3h-36zM450 354h9v3h-9zM336 357h33v3h-33zM453 357h12v3h-12zM330 360h24v3h-24zM456 360h12v3h-12zM324 363h18v3h-18zM459 363h12v3h-12zM321 366h12v3h-12zM462 366h9v3h-9zM315 369h12v3h-12zM465 369h9v3h-9zM312 372h12v3h-12zM468 372h9v3h-9zM309 375h9v3h-9zM468 375h9v3h-9zM306 378h9v3h-9zM471 378h9v3h-9zM300 381h12v3h-12zM474 381h9v3h-9zM297 384h12v3h-12zM474 384h12v3h-12zM294 387h9v3h-9zM477 387h9v3h-9zM288 390h12v3h-12zM480 390h9v3h-9zM282 393h15v3h-15zM483 393h9v3h-9zM279 396h12v3h-12zM483 396h9v3h-9zM273 399h12v3h-12zM486 399h9v3h-9zM267 402h15v3h-15zM486 402h9v3h-9zM264 405h12v3h-12zM486 405h9v3h-9zM261 408h9v3h-9zM486 408h9v3h-9zM258 411h9v3h-9zM486 411h9v3h-9zM255 414h6v3h-6zM486 414h6v3h-6zM252 417h6v3h-6zM486 417h6v3h-6zM249 420h6v3h-6zM486 420h6v3h-6zM246 423h6v3h-6zM483 423h9v3h-9zM243 426h9v3h-9zM483 426h6v3h-6zM240 429h6v3h-6zM483 429h6v3h-6zM234 432h9v3h-9zM483 432h6v3h-6zM225 435h12v3h-12zM483 435h6v3h-6zM219 438h12v3h-12zM480 438h9v3h-9zM216 441h6v3h-6zM480 441h9v3h-9zM210 444h9v3h-9zM480 444h6v3h-6zM204 447h9v3h-9zM480 447h6v3h-6zM195 450h15v3h-15zM477 450h9v3h-9zM183 453h21v3h-21zM474 453h9v3h-9zM183 456h15v3h-15zM471 456h12v3h-12zM183 459h9v3h-9zM471 459h9v3h-9zM468 462h9v3h-9zM465 465h9v3h-9zM465 468h6v3h-6zM462 471h6v3h-6zM459 474h9v3h-9zM459 477h9v3h-9zM459 480h6v3h-6zM459 483h6v3h-6zM459 486h6v3h-6zM459 489h6v3h-6zM459 492h6v3h-6zM459 495h6v3h-6zM459 498h6v3h-6zM459 501h6v3h-6zM459 504h3v3h-3zM405 507h15v3h-15zM456 507h6v3h-6zM399 510h3v3h-3zM414 510h6v3h-6zM456 510h6v3h-6zM393 513h3v3h-3zM417 513h9v3h-9zM453 513h9v3h-9zM390 516h3v3h-3zM423 516h9v3h-9zM450 516h9v3h-9zM384 519h3v3h-3zM429 519h27v3h-27zM381 522h3v3h-3zM438 522h15v3h-15zM378 525h3v3h-3zM378 528h3v3h-3zM375 531h3v3h-3zM366 534h6v3h-6zM360 537h6v3h-6zM354 540h6v3h-6zM351 543h3v3h-3zM345 546h3v3h-3zM336 558h3v3h-3zM333 561h3v3h-3zM330 564h3v3h-3zM327 567h3v3h-3zM324 570h3v3h-3zM321 576h3v3h-3zM318 582h3v3h-3zM315 588h3v3h-3zM315 591h3v3h-3zM312 594h3v3h-3zM312 597h3v3h-3zM312 600h3v3h-3zM312 603h3v3h-3zM312 615h3v3h-3zM312 618h3v3h-3zM315 627h3v3h-3zM318 633h3v3h-3zM324 651h3v3h-3zM330 663h3v3h-3zM333 669h3v3h-3z"/>
<path fill="#ffd7d7" d="M393 318h24v3h-24zM387 321h36v3h-36zM384 324h45v3h-45zM381 327h18v3h-18zM417 327h15v3h-15zM378 330h18v3h-18zM423 330h12v3h-12zM375 333h21v3h-21zM429 333h12v3h-12zM369 336h24v3h-24zM432 336h12v3h-12zM363 339h27v3h-27zM435 339h12v3h-12zM357 342h30v3h-30zM441 342h12v3h-12zM345 345h33v3h-33zM447 345h12v3h-12zM336 348h33v3h-33zM450 348h12v3h-12zM330 351h27v3h-27zM456 351h12v3h-12zM324 354h21v3h-21zM459 354h12v3h-12zM321 357h15v3h-15zM465 357h9v3h-9zM315 360h15v3h-15zM468 360h9v3h-9zM312 363h12v3h-12zM471 363h9v3h-9zM309 366h12v3h-12zM471 366h9v3h-9zM306 369h9v3h-9zM474 369h9v3h-9zM303 372h9v3h-9zM477 372h9v3h-9zM300 375h9v3h-9zM477 375h12v3h-12zM294 378h12v3h-12zM480 378h9v3h-9zM291 381h9v3h-9zM483 381h9v3h-9zM285 384h12v3h-12zM486 384h9v3h-9zM282 387h12v3h-12zM486 387h12v3h-12zM276 390h12v3h-12zM489 390h9v3h-9zM270 393h12v3h-12zM492 393h9v3h-9zM267 396h12v3h-12zM492 396h12v3h-12zM261 399h12v3h-12zM495 399h9v3h-9zM258 402h9v3h-9zM495 402h9v3h-9zM255 405h9v3h-9zM495 405h9v3h-9zM255 408h6v3h-6zM495 408h9v3h-9zM252 411h6v3h-6zM495 411h6v3h-6zM249 414h6v3h-6zM492 414h9v3h-9zM246 417h6v3h-6zM492 417h9v3h-9zM243 420h6v3h-6zM492 420h6v3h-6zM240 423h6v3h-6zM492 423h6v3h-6zM234 426h9v3h-9zM489 426h9v3h-9zM228 429h12v3h-12zM489 429h6v3h-6zM222 432h12v3h-12zM489 432h6v3h-6zM219 435h6v3h-6zM489 435h6v3h-6zM210 438h9v3h-9zM489 438h6v3h-6zM204 441h12v3h-12zM489 441h6v3h-6zM189 444h21v3h-21zM486 444h9v3h-9zM186 447h18v3h-18zM486 447h9v3h-9zM186 450h9v3h-9zM486 450h6v3h-6zM483 453h9v3h-9zM483 456h9v3h-9zM480 459h9v3h-9zM477 462h9v3h-9zM474 465h9v3h-9zM471 468h9v3h-9zM468 471h9v3h-9zM468 474h6v3h-6zM468 477h6v3h-6zM465 480h6v3h-6zM465 483h6v3h-6zM465 486h6v3h-6zM465 489h6v3h-6zM465 492h3v3h-3zM465 495h3v3h-3zM465 498h3v3h-3zM465 501h3v3h-3zM462 504h6v3h-6zM462 507h6v3h-6zM402 510h12v3h-12zM462 510h6v3h-6zM396 513h21v3h-21zM462 513h3v3h-3zM393 516h6v3h-6zM417 516h6v3h-6zM459 516h6v3h-6zM387 519h6v3h-6zM423 519h6v3h-6zM456 519h6v3h-6zM384 522h3v3h-3zM429 522h9v3h-9zM453 522h6v3h-6zM381 525h3v3h-3zM435 525h21v3h-21zM381 528h3v3h-3zM378 531h3v3h-3zM372 534h6v3h-6zM366 537h6v3h-6zM360 540h6v3h-6zM354 543h6v3h-6zM348 546h9v3h-9zM345 549h6v3h-6zM342 552h3v3h-3zM339 555h3v3h-3zM327 570h3v3h-3zM324 573h3v3h-3zM324 576h3v3h-3zM321 579h6v3h-6zM321 582h3v3h-3zM318 585h6v3h-6zM318 588h6v3h-6zM318 591h3v3h-3zM315 594h6v3h-6zM315 597h3v3h-3zM315 600h3v3h-3zM312 606h3v3h-3zM312 609h3v3h-3zM312 612h3v3h-3zM315 624h3v3h-3zM318 630h3v3h-3zM321 639h3v3h-3zM324 648h3v3h-3zM327 657h3v3h-3zM333 666h3v3h-3zM336 672h3v3h-3zM339 678h3v3h-3zM342 684h3v3h-3z"/>
<path fill="#ffd1d1" d="M390 312h30v3h-30zM381 315h45v3h-45zM375 318h18v3h-18zM417 318h15v3h-15zM372 321h15v3h-15zM423 321h15v3h-15zM366 324h18v3h-18zM429 324h12v3h-12zM360 327h21v3h-21zM432 327h15v3h-15zM354 330h24v3h-24zM435 330h18v3h-18zM348 333h27v3h-27zM441 333h18v3h-18zM342 336h27v3h-27zM444 336h18v3h-18zM336 339h27v3h-27zM447 339h18v3h-18zM330 342h27v3h-27zM453 342h15v3h-15zM327 345h18v3h-18zM459 345h12v3h-12zM321 348h15v3h-15zM462 348h12v3h-12zM318 351h12v3h-12zM468 351h9v3h-9zM315 354h9v3h-9zM471 354h9v3h-9zM309 357h12v3h-12zM474 357h9v3h-9zM306 360h9v3h-9zM477 360h9v3h-9zM303 363h9v3h-9zM480 363h9v3h-9zM300 366h9v3h-9zM480 366h9v3h-9zM297 369h9v3h-9zM483 369h9v3h-9zM291 372h12v3h-12zM486 372h9v3h-9zM288 375h12v3h-12zM489 375h9v3h-9zM285 378h9v3h-9zM489 378h9v3h-9zM279 381h12v3h-12zM492 381h9v3h-9zM276 384h9v3h-9zM495 384h9v3h-9zM270 387h12v3h-12zM498 387h9v3h-9zM264 390h12v3h-12zM498 390h12v3h-12zM261 393h9v3h-9zM501 393h12v3h-12zM258 396h9v3h-9zM504 396h9v3h-9zM255 399h6v3h-6zM504 399h12v3h-12zM252 402h6v3h-6zM504 402h12v3h-12zM249 405h6v3h-6zM504 405h12v3h-12zM249 408h6v3h-6zM504 408h9v3h-9zM246 411h6v3h-6zM501 411h9v3h-9zM243 414h6v3h-6zM501 414h9v3h-9zM240 417h6v3h-6zM501 417h6v3h-6zM237 420h6v3h-6zM498 420h9v3h-9zM231 423h9v3h-9zM498 423h6v3h-6zM225 426h9v3h-9zM498 426h6v3h-6zM219 429h9v3h-9zM495 429h9v3h-9zM216 432h6v3h-6zM495 432h9v3h-9zM192 435h3v3h-3zM204 435h15v3h-15zM495 435h6v3h-6zM189 438h21v3h-21zM495 438h6v3h-6zM189 441h15v3h-15zM495 441h6v3h-6zM495 444h6v3h-6zM495 447h6v3h-6zM492 450h9v3h-9zM492 453h9v3h-9zM492 456h6v3h-6zM489 459h9v3h-9zM486 462h12v3h-12zM483 465h12v3h-12zM480 468h9v3h-9zM477 471h9v3h-9zM474 474h9v3h-9zM474 477h6v3h-6zM471 480h9v3h-9zM471 483h6v3h-6zM471 486h6v3h-6zM471 489h6v3h-6zM468 492h6v3h-6zM468 495h6v3h-6zM468 498h6v3h-6zM468 501h6v3h-6zM468 504h6v3h-6zM468 507h6v3h-6zM468 510h3v3h-3zM465 513h6v3h-6zM399 516h18v3h-18zM465 516h3v3h-3zM393 519h12v3h-12zM417 519h6v3h-6zM462 519h6v3h-6zM387 522h9v3h-9zM423 522h6v3h-6zM459 522h6v3h-6zM384 525h6v3h-6zM429 525h6v3h-6zM456 525h6v3h-6zM384 528h3v3h-3zM435 528h21v3h-21zM381 531h3v3h-3zM444 531h6v3h-6zM378 534h3v3h-3zM372 537h3v3h-3zM366 540h3v3h-3zM360 543h6v3h-6zM357 546h3v3h-3zM351 549h6v3h-6zM345 552h6v3h-6zM342 555h3v3h-3zM339 558h3v3h-3zM336 561h3v3h-3zM333 564h3v3h-3zM330 567h3v3h-3zM327 573h3v3h-3zM327 576h3v3h-3zM327 579h3v3h-3zM324 582h6v3h-6zM324 585h3v3h-3zM324 588h3v3h-3zM321 591h6v3h-6zM321 594h3v3h-3zM318 597h3v3h-3zM318 600h3v3h-3zM315 603h3v3h-3zM315 618h3v3h-3zM315 621h3v3h-3zM318 627h3v3h-3zM321 636h3v3h-3zM324 645h3v3h-3zM327 654h3v3h-3zM330 660h3v3h-3z"/>
<path fill="#ffcccc" d="M390 306h30v3h-30zM381 309h48v3h-48zM372 312h18v3h-18zM420 312h15v3h-15zM366 315h15v3h-15zM426 315h18v3h-18zM360 318h15v3h-15zM432 318h27v3h-27zM354 321h18v3h-18zM438 321h27v3h-27zM348 324h18v3h-18zM441 324h27v3h-27zM342 327h18v3h-18zM447 327h24v3h-24zM336 330h18v3h-18zM453 330h21v3h-21zM333 333h15v3h-15zM459 333h18v3h-18zM327 336h15v3h-15zM462 336h15v3h-15zM324 339h12v3h-12zM465 339h15v3h-15zM318 342h12v3h-12zM468 342h15v3h-15zM315 345h12v3h-12zM471 345h15v3h-15zM312 348h9v3h-9zM474 348h12v3h-12zM309 351h9v3h-9zM477 351h12v3h-12zM303 354h12v3h-12zM480 354h12v3h-12zM300 357h9v3h-9zM483 357h9v3h-9zM297 360h9v3h-9zM486 360h9v3h-9zM294 363h9v3h-9zM489 363h9v3h-9zM291 366h9v3h-9zM489 366h9v3h-9zM285 369h12v3h-12zM492 369h9v3h-9zM282 372h9v3h-9zM495 372h9v3h-9zM279 375h9v3h-9zM498 375h6v3h-6zM273 378h12v3h-12zM498 378h9v3h-9zM270 381h9v3h-9zM501 381h9v3h-9zM264 384h12v3h-12zM504 384h9v3h-9zM261 387h9v3h-9zM507 387h9v3h-9zM258 390h6v3h-6zM510 390h9v3h-9zM255 393h6v3h-6zM513 393h12v3h-12zM252 396h6v3h-6zM513 396h12v3h-12zM249 399h6v3h-6zM516 399h12v3h-12zM246 402h6v3h-6zM516 402h12v3h-12zM243 405h6v3h-6zM516 405h12v3h-12zM243 408h6v3h-6zM513 408h12v3h-12zM240 411h6v3h-6zM510 411h12v3h-12zM237 414h6v3h-6zM510 414h9v3h-9zM231 417h9v3h-9zM507 417h9v3h-9zM228 420h9v3h-9zM507 420h9v3h-9zM222 423h9v3h-9zM504 423h9v3h-9zM216 426h9v3h-9zM504 426h9v3h-9zM195 429h24v3h-24zM504 429h6v3h-6zM192 432h24v3h-24zM504 432h6v3h-6zM195 435h9v3h-9zM501 435h9v3h-9zM501 438h9v3h-9zM501 441h6v3h-6zM501 444h6v3h-6zM501 447h6v3h-6zM501 450h6v3h-6zM501 453h6v3h-6zM498 456h9v3h-9zM498 459h9v3h-9zM498 462h9v3h-9zM495 465h9v3h-9zM489 468h12v3h-12zM486 471h12v3h-12zM483 474h12v3h-12zM480 477h9v3h-9zM480 480h6v3h-6zM477 483h9v3h-9zM477 486h6v3h-6zM477 489h6v3h-6zM474 492h6v3h-6zM474 495h6v3h-6zM474 498h6v3h-6zM474 501h6v3h-6zM474 504h3v3h-3zM474 507h3v3h-3zM471 510h6v3h-6zM471 513h6v3h-6zM468 516h6v3h-6zM405 519h12v3h-12zM468 519h3v3h-3zM396 522h9v3h-9zM417 522h6v3h-6zM465 522h3v3h-3zM390 525h6v3h-6zM423 525h6v3h-6zM462 525h3v3h-3zM387 528h3v3h-3zM429 528h6v3h-6zM456 528h6v3h-6zM384 531h3v3h-3zM435 531h9v3h-9zM450 531h9v3h-9zM381 534h3v3h-3zM444 534h9v3h-9zM375 537h6v3h-6zM369 540h6v3h-6zM366 543h3v3h-3zM360 546h3v3h-3zM357 549h3v3h-3zM351 552h3v3h-3zM345 555h6v3h-6zM342 558h3v3h-3zM339 561h3v3h-3zM336 564h3v3h-3zM333 567h3v3h-3zM330 570h3v3h-3zM330 573h3v3h-3zM327 585h3v3h-3zM327 588h3v3h-3zM324 594h3v3h-3zM321 597h3v3h-3zM318 603h3v3h-3zM315 606h3v3h-3zM315 609h3v3h-3zM315 612h3v3h-3zM315 615h3v3h-3zM318 624h3v3h-3zM321 633h3v3h-3zM324 642h3v3h-3zM333 663h3v3h-3zM336 669h3v3h-3zM339 675h3v3h-3zM342 681h3v3h-3z"/>
<path fill="#ffc7c7" d="M396 300h21v3h-21zM381 303h51v3h-51zM372 306h18v3h-18zM420 306h21v3h-21zM363 309h18v3h-18zM429 309h27v3h-27zM357 312h15v3h-15zM435 312h30v3h-30zM351 315h15v3h-15zM444 315h24v3h-24zM345 318h15v3h-15zM459 318h15v3h-15zM339 321h15v3h-15zM465 321h12v3h-12zM333 324h15v3h-15zM468 324h12v3h-12zM330 327h12v3h-12zM471 327h9v3h-9zM324 330h12v3h-12zM474 330h9v3h-9zM321 333h12v3h-12zM477 333h9v3h-9zM318 336h9v3h-9zM477 336h12v3h-12zM312 339h12v3h-12zM480 339h9v3h-9zM309 342h9v3h-9zM483 342h9v3h-9zM306 345h9v3h-9zM486 345h9v3h-9zM303 348h9v3h-9zM486 348h9v3h-9zM297 351h12v3h-12zM489 351h9v3h-9zM294 354h9v3h-9zM492 354h6v3h-6zM291 357h9v3h-9zM492 357h9v3h-9zM288 360h9v3h-9zM495 360h9v3h-9zM285 363h9v3h-9zM498 363h6v3h-6zM282 366h9v3h-9zM498 366h9v3h-9zM276 369h9v3h-9zM501 369h9v3h-9zM273 372h9v3h-9zM504 372h6v3h-6zM267 375h12v3h-12zM504 375h9v3h-9zM264 378h9v3h-9zM507 378h9v3h-9zM261 381h9v3h-9zM510 381h12v3h-12zM255 384h9v3h-9zM513 384h12v3h-12zM252 387h9v3h-9zM516 387h12v3h-12zM249 390h9v3h-9zM519 390h15v3h-15zM249 393h6v3h-6zM525 393h12v3h-12zM246 396h6v3h-6zM525 396h12v3h-12zM243 399h6v3h-6zM528 399h9v3h-9zM240 402h6v3h-6zM528 402h9v3h-9zM237 405h6v3h-6zM528 405h9v3h-9zM234 408h9v3h-9zM525 408h12v3h-12zM231 411h9v3h-9zM522 411h12v3h-12zM228 414h9v3h-9zM519 414h12v3h-12zM222 417h9v3h-9zM516 417h12v3h-12zM216 420h12v3h-12zM516 420h9v3h-9zM195 423h27v3h-27zM513 423h9v3h-9zM195 426h21v3h-21zM513 426h6v3h-6zM510 429h9v3h-9zM510 432h6v3h-6zM510 435h6v3h-6zM510 438h6v3h-6zM507 441h9v3h-9zM507 444h9v3h-9zM507 447h9v3h-9zM507 450h9v3h-9zM507 453h9v3h-9zM507 456h9v3h-9zM507 459h9v3h-9zM507 462h9v3h-9zM504 465h9v3h-9zM501 468h12v3h-12zM498 471h12v3h-12zM495 474h12v3h-12zM489 477h12v3h-12zM486 480h12v3h-12zM486 483h9v3h-9zM483 486h9v3h-9zM483 489h6v3h-6zM480 492h9v3h-9zM480 495h6v3h-6zM480 498h6v3h-6zM480 501h6v3h-6zM477 504h6v3h-6zM477 507h6v3h-6zM477 510h6v3h-6zM477 513h3v3h-3zM474 516h6v3h-6zM471 519h6v3h-6zM405 522h12v3h-12zM468 522h6v3h-6zM396 525h9v3h-9zM417 525h6v3h-6zM465 525h6v3h-6zM390 528h6v3h-6zM423 528h6v3h-6zM462 528h6v3h-6zM387 531h6v3h-6zM429 531h6v3h-6zM459 531h6v3h-6zM384 534h3v3h-3zM438 534h6v3h-6zM453 534h6v3h-6zM381 537h3v3h-3zM447 537h6v3h-6zM375 540h3v3h-3zM369 543h3v3h-3zM363 546h3v3h-3zM360 549h3v3h-3zM354 552h3v3h-3zM351 555h3v3h-3zM345 558h3v3h-3zM342 561h3v3h-3zM339 564h3v3h-3zM336 567h3v3h-3zM333 570h3v3h-3zM330 576h3v3h-3zM330 579h3v3h-3zM330 582h3v3h-3zM330 585h3v3h-3zM330 588h3v3h-3zM327 591h3v3h-3zM327 594h3v3h-3zM324 597h3v3h-3zM321 600h3v3h-3zM318 606h3v3h-3zM318 618h3v3h-3zM318 621h3v3h-3zM321 630h3v3h-3zM324 639h3v3h-3zM327 651h3v3h-3zM330 657h3v3h-3z"/>
<path fill="#ffc1c1" d="M381 297h54v3h-54zM372 300h24v3h-24zM417 300h30v3h-30zM363 303h18v3h-18zM432 303h27v3h-27zM357 306h15v3h-15zM441 306h24v3h-24zM351 309h12v3h-12zM456 309h15v3h-15zM345 312h12v3h-12zM465 312h9v3h-9zM339 315h12v3h-12zM468 315h12v3h-12zM333 318h12v3h-12zM474 318h9v3h-9zM330 321h9v3h-9zM477 321h6v3h-6zM324 324h9v3h-9zM480 324h6v3h-6zM318 327h12v3h-12zM480 327h9v3h-9zM315 330h9v3h-9zM483 330h9v3h-9zM312 333h9v3h-9zM486 333h9v3h-9zM306 336h12v3h-12zM489 336h9v3h-9zM303 339h9v3h-9zM489 339h9v3h-9zM300 342h9v3h-9zM492 342h9v3h-9zM297 345h9v3h-9zM495 345h6v3h-6zM294 348h9v3h-9zM495 348h9v3h-9zM288 351h9v3h-9zM498 351h9v3h-9zM285 354h9v3h-9zM498 354h9v3h-9zM282 357h9v3h-9zM501 357h9v3h-9zM279 360h9v3h-9zM504 360h6v3h-6zM276 363h9v3h-9zM504 363h9v3h-9zM270 366h12v3h-12zM507 366h9v3h-9zM267 369h9v3h-9zM510 369h9v3h-9zM264 372h9v3h-9zM510 372h12v3h-12zM258 375h9v3h-9zM513 375h12v3h-12zM255 378h9v3h-9zM516 378h15v3h-15zM252 381h9v3h-9zM522 381h12v3h-12zM249 384h6v3h-6zM525 384h12v3h-12zM246 387h6v3h-6zM528 387h15v3h-15zM243 390h6v3h-6zM534 390h9v3h-9zM243 393h6v3h-6zM537 393h9v3h-9zM240 396h6v3h-6zM537 396h9v3h-9zM237 399h6v3h-6zM537 399h9v3h-9zM234 402h6v3h-6zM537 402h9v3h-9zM231 405h6v3h-6zM537 405h9v3h-9zM225 408h9v3h-9zM537 408h6v3h-6zM222 411h9v3h-9zM534 411h6v3h-6zM198 414h30v3h-30zM531 414h9v3h-9zM198 417h24v3h-24zM528 417h9v3h-9zM198 420h18v3h-18zM525 420h9v3h-9zM522 423h9v3h-9zM519 426h12v3h-12zM519 429h9v3h-9zM516 432h9v3h-9zM516 435h9v3h-9zM516 438h9v3h-9zM516 441h6v3h-6zM516 444h6v3h-6zM516 447h6v3h-6zM516 450h6v3h-6zM516 453h9v3h-9zM516 456h9v3h-9zM516 459h9v3h-9zM516 462h9v3h-9zM513 465h9v3h-9zM513 468h9v3h-9zM510 471h9v3h-9zM507 474h9v3h-9zM501 477h12v3h-12zM498 480h12v3h-12zM495 483h12v3h-12zM492 486h12v3h-12zM489 489h12v3h-12zM489 492h9v3h-9zM486 495h12v3h-12zM486 498h9v3h-9zM486 501h9v3h-9zM483 504h15v3h-15zM483 507h30v3h-30zM483 510h33v3h-33zM480 513h39v3h-39zM480 516h36v3h-36zM477 519h9v3h-9zM495 519h21v3h-21zM474 522h9v3h-9zM498 522h15v3h-15zM405 525h12v3h-12zM471 525h6v3h-6zM501 525h9v3h-9zM396 528h6v3h-6zM417 528h6v3h-6zM468 528h6v3h-6zM393 531h3v3h-3zM426 531h3v3h-3zM465 531h6v3h-6zM387 534h3v3h-3zM432 534h6v3h-6zM459 534h6v3h-6zM384 537h3v3h-3zM438 537h9v3h-9zM453 537h9v3h-9zM378 540h3v3h-3zM447 540h6v3h-6zM372 543h3v3h-3zM366 546h3v3h-3zM363 549h3v3h-3zM357 552h3v3h-3zM354 555h3v3h-3zM348 558h6v3h-6zM345 561h3v3h-3zM342 564h3v3h-3zM339 567h3v3h-3zM336 570h3v3h-3zM333 573h3v3h-3zM333 576h3v3h-3zM333 579h3v3h-3zM333 582h3v3h-3zM330 591h3v3h-3zM327 597h3v3h-3zM324 600h3v3h-3zM321 603h3v3h-3zM318 609h3v3h-3zM318 612h3v3h-3zM318 615h3v3h-3zM321 624h3v3h-3zM321 627h3v3h-3zM324 633h3v3h-3zM324 636h3v3h-3zM327 648h3v3h-3zM336 666h3v3h-3zM339 672h3v3h-3zM342 678h3v3h-3z"/>
<path fill="#ffbcbc" d="M384 291h57v3h-57zM372 294h81v3h-81zM363 297h18v3h-18zM435 297h27v3h-27zM357 300h15v3h-15zM447 300h21v3h-21zM351 303h12v3h-12zM459 303h15v3h-15zM345 306h12v3h-12zM465 306h12v3h-12zM339 309h12v3h-12zM471 309h9v3h-9zM333 312h12v3h-12zM474 312h9v3h-9zM330 315h9v3h-9zM480 315h6v3h-6zM324 318h9v3h-9zM483 318h6v3h-6zM318 321h12v3h-12zM483 321h9v3h-9zM315 324h9v3h-9zM486 324h9v3h-9zM309 327h9v3h-9zM489 327h9v3h-9zM306 330h9v3h-9zM492 330h9v3h-9zM303 333h9v3h-9zM495 333h9v3h-9zM297 336h9v3h-9zM498 336h6v3h-6zM294 339h9v3h-9zM498 339h9v3h-9zM291 342h9v3h-9zM501 342h9v3h-9zM288 345h9v3h-9zM501 345h9v3h-9zM285 348h9v3h-9zM504 348h9v3h-9zM279 351h9v3h-9zM507 351h6v3h-6zM276 354h9v3h-9zM507 354h9v3h-9zM273 357h9v3h-9zM510 357h6v3h-6zM270 360h9v3h-9zM510 360h9v3h-9zM267 363h9v3h-9zM513 363h9v3h-9zM261 366h9v3h-9zM516 366h9v3h-9zM258 369h9v3h-9zM519 369h9v3h-9zM255 372h9v3h-9zM522 372h12v3h-12zM252 375h6v3h-6zM525 375h15v3h-15zM249 378h6v3h-6zM531 378h12v3h-12zM246 381h6v3h-6zM534 381h12v3h-12zM243 384h6v3h-6zM537 384h12v3h-12zM240 387h6v3h-6zM543 387h9v3h-9zM237 390h6v3h-6zM543 390h9v3h-9zM234 393h9v3h-9zM546 393h9v3h-9zM231 396h9v3h-9zM546 396h9v3h-9zM228 399h9v3h-9zM546 399h9v3h-9zM222 402h12v3h-12zM546 402h6v3h-6zM204 405h27v3h-27zM546 405h6v3h-6zM201 408h24v3h-24zM543 408h6v3h-6zM201 411h21v3h-21zM540 411h6v3h-6zM540 414h6v3h-6zM537 417h6v3h-6zM534 420h9v3h-9zM531 423h9v3h-9zM531 426h6v3h-6zM528 429h9v3h-9zM525 432h9v3h-9zM525 435h9v3h-9zM525 438h6v3h-6zM522 441h9v3h-9zM522 444h9v3h-9zM522 447h9v3h-9zM522 450h9v3h-9zM525 453h9v3h-9zM525 456h9v3h-9zM525 459h9v3h-9zM525 462h6v3h-6zM522 465h9v3h-9zM522 468h6v3h-6zM519 471h6v3h-6zM516 474h9v3h-9zM513 477h9v3h-9zM510 480h9v3h-9zM507 483h9v3h-9zM504 486h9v3h-9zM501 489h12v3h-12zM498 492h12v3h-12zM498 495h15v3h-15zM495 498h21v3h-21zM495 501h24v3h-24zM498 504h24v3h-24zM513 507h12v3h-12zM516 510h9v3h-9zM519 513h6v3h-6zM516 516h9v3h-9zM486 519h9v3h-9zM516 519h9v3h-9zM483 522h15v3h-15zM513 522h9v3h-9zM477 525h24v3h-24zM510 525h9v3h-9zM402 528h15v3h-15zM474 528h42v3h-42zM396 531h6v3h-6zM417 531h9v3h-9zM471 531h6v3h-6zM495 531h21v3h-21zM390 534h6v3h-6zM426 534h6v3h-6zM465 534h6v3h-6zM498 534h12v3h-12zM387 537h3v3h-3zM432 537h6v3h-6zM462 537h6v3h-6zM381 540h6v3h-6zM438 540h9v3h-9zM453 540h9v3h-9zM375 543h6v3h-6zM447 543h9v3h-9zM369 546h6v3h-6zM366 549h3v3h-3zM360 552h3v3h-3zM357 555h3v3h-3zM354 558h3v3h-3zM348 561h3v3h-3zM345 564h3v3h-3zM342 567h3v3h-3zM339 570h3v3h-3zM336 573h3v3h-3zM336 576h3v3h-3zM333 585h3v3h-3zM333 588h3v3h-3zM330 594h3v3h-3zM324 603h3v3h-3zM321 606h3v3h-3zM321 609h3v3h-3zM321 615h3v3h-3zM321 618h3v3h-3zM321 621h3v3h-3zM324 630h3v3h-3zM327 642h3v3h-3zM327 645h3v3h-3zM330 654h3v3h-3zM333 660h3v3h-3zM345 681h3v3h-3z"/>
<path fill="#ffb7b7" d="M414 282h30v3h-30zM387 285h66v3h-66zM372 288h87v3h-87zM366 291h18v3h-18zM441 291h24v3h-24zM357 294h15v3h-15zM453 294h18v3h-18zM351 297h12v3h-12zM462 297h15v3h-15zM345 300h12v3h-12zM468 300h12v3h-12zM339 303h12v3h-12zM474 303h9v3h-9zM336 306h9v3h-9zM477 306h12v3h-12zM330 309h9v3h-9zM480 309h12v3h-12zM324 312h9v3h-9zM483 312h12v3h-12zM318 315h12v3h-12zM486 315h12v3h-12zM315 318h9v3h-9zM489 318h12v3h-12zM309 321h9v3h-9zM492 321h12v3h-12zM303 324h12v3h-12zM495 324h12v3h-12zM300 327h9v3h-9zM498 327h9v3h-9zM297 330h9v3h-9zM501 330h9v3h-9zM291 333h12v3h-12zM504 333h9v3h-9zM288 336h9v3h-9zM504 336h9v3h-9zM285 339h9v3h-9zM507 339h9v3h-9zM282 342h9v3h-9zM510 342h6v3h-6zM279 345h9v3h-9zM510 345h9v3h-9zM276 348h9v3h-9zM513 348h6v3h-6zM273 351h6v3h-6zM513 351h9v3h-9zM267 354h9v3h-9zM516 354h9v3h-9zM264 357h9v3h-9zM516 357h12v3h-12zM261 360h9v3h-9zM519 360h12v3h-12zM258 363h9v3h-9zM522 363h12v3h-12zM252 366h9v3h-9zM525 366h15v3h-15zM249 369h9v3h-9zM528 369h18v3h-18zM246 372h9v3h-9zM534 372h15v3h-15zM243 375h9v3h-9zM540 375h12v3h-12zM240 378h9v3h-9zM543 378h12v3h-12zM237 381h9v3h-9zM546 381h9v3h-9zM234 384h9v3h-9zM549 384h9v3h-9zM231 387h9v3h-9zM552 387h6v3h-6zM228 390h9v3h-9zM552 390h9v3h-9zM225 393h9v3h-9zM555 393h6v3h-6zM207 396h24v3h-24zM555 396h6v3h-6zM204 399h24v3h-24zM555 399h6v3h-6zM204 402h18v3h-18zM552 402h9v3h-9zM552 405h6v3h-6zM549 408h6v3h-6zM546 411h6v3h-6zM546 414h6v3h-6zM543 417h6v3h-6zM543 420h3v3h-3zM540 423h6v3h-6zM537 426h6v3h-6zM537 429h6v3h-6zM534 432h9v3h-9zM534 435h6v3h-6zM531 438h9v3h-9zM531 441h9v3h-9zM531 444h9v3h-9zM531 447h9v3h-9zM531 450h9v3h-9zM534 453h6v3h-6zM534 456h6v3h-6zM534 459h6v3h-6zM531 462h9v3h-9zM531 465h6v3h-6zM528 468h6v3h-6zM525 471h9v3h-9zM525 474h6v3h-6zM522 477h6v3h-6zM519 480h6v3h-6zM516 483h6v3h-6zM513 486h9v3h-9zM513 489h6v3h-6zM510 492h9v3h-9zM513 495h9v3h-9zM516 498h9v3h-9zM519 501h9v3h-9zM522 504h9v3h-9zM525 507h6v3h-6zM525 510h9v3h-9zM525 513h9v3h-9zM525 516h9v3h-9zM525 519h6v3h-6zM522 522h6v3h-6zM519 525h6v3h-6zM516 528h9v3h-9zM402 531h15v3h-15zM477 531h18v3h-18zM516 531h6v3h-6zM396 534h6v3h-6zM420 534h6v3h-6zM471 534h27v3h-27zM510 534h9v3h-9zM390 537h6v3h-6zM426 537h6v3h-6zM468 537h9v3h-9zM489 537h27v3h-27zM387 540h3v3h-3zM435 540h3v3h-3zM462 540h9v3h-9zM498 540h12v3h-12zM381 543h3v3h-3zM441 543h6v3h-6zM456 543h9v3h-9zM375 546h3v3h-3zM450 546h6v3h-6zM369 549h3v3h-3zM363 552h3v3h-3zM360 555h3v3h-3zM357 558h3v3h-3zM351 561h3v3h-3zM348 564h3v3h-3zM345 567h3v3h-3zM342 570h3v3h-3zM339 573h3v3h-3zM339 576h3v3h-3zM336 579h3v3h-3zM336 582h3v3h-3zM336 585h3v3h-3zM333 591h3v3h-3zM330 597h3v3h-3zM327 600h3v3h-3zM324 606h3v3h-3zM321 612h3v3h-3zM324 627h3v3h-3zM327 636h3v3h-3zM327 639h3v3h-3zM336 663h3v3h-3zM339 669h3v3h-3zM342 675h3v3h-3z"/>
<path fill="#ffb1b1" d="M423 273h24v3h-24zM405 276h51v3h-51zM390 279h72v3h-72zM375 282h39v3h-39zM444 282h24v3h-24zM366 285h21v3h-21zM453 285h21v3h-21zM360 288h12v3h-12zM459 288h18v3h-18zM354 291h12v3h-12zM465 291h18v3h-18zM348 294h9v3h-9zM471 294h15v3h-15zM342 297h9v3h-9zM477 297h12v3h-12zM336 300h9v3h-9zM480 300h12v3h-12zM330 303h9v3h-9zM483 303h12v3h-12zM324 306h12v3h-12zM489 306h9v3h-9zM318 309h12v3h-12zM492 309h9v3h-9zM315 312h9v3h-9zM495 312h9v3h-9zM309 315h9v3h-9zM498 315h9v3h-9zM303 318h12v3h-12zM501 318h9v3h-9zM300 321h9v3h-9zM504 321h9v3h-9zM294 324h9v3h-9zM507 324h9v3h-9zM291 327h9v3h-9zM507 327h12v3h-12zM288 330h9v3h-9zM510 330h9v3h-9zM285 333h6v3h-6zM513 333h9v3h-9zM279 336h9v3h-9zM513 336h9v3h-9zM276 339h9v3h-9zM516 339h9v3h-9zM273 342h9v3h-9zM516 342h9v3h-9zM270 345h9v3h-9zM519 345h9v3h-9zM267 348h9v3h-9zM519 348h12v3h-12zM264 351h9v3h-9zM522 351h12v3h-12zM258 354h9v3h-9zM525 354h12v3h-12zM255 357h9v3h-9zM528 357h12v3h-12zM252 360h9v3h-9zM531 360h15v3h-15zM249 363h9v3h-9zM534 363h15v3h-15zM246 366h6v3h-6zM540 366h12v3h-12zM240 369h9v3h-9zM546 369h9v3h-9zM240 372h6v3h-6zM549 372h9v3h-9zM237 375h6v3h-6zM552 375h9v3h-9zM234 378h6v3h-6zM555 378h6v3h-6zM231 381h6v3h-6zM555 381h9v3h-9zM225 384h9v3h-9zM558 384h6v3h-6zM210 387h21v3h-21zM558 387h9v3h-9zM210 390h18v3h-18zM561 390h6v3h-6zM207 393h18v3h-18zM561 393h6v3h-6zM561 396h6v3h-6zM561 399h6v3h-6zM561 402h6v3h-6zM558 405h6v3h-6zM555 408h6v3h-6zM552 411h9v3h-9zM552 414h6v3h-6zM549 417h6v3h-6zM546 420h6v3h-6zM546 423h6v3h-6zM543 426h6v3h-6zM543 429h6v3h-6zM543 432h6v3h-6zM540 435h9v3h-9zM540 438h9v3h-9zM540 441h9v3h-9zM540 444h9v3h-9zM540 447h9v3h-9zM540 450h9v3h-9zM540 453h9v3h-9zM540 456h9v3h-9zM540 459h6v3h-6zM540 462h6v3h-6zM537 465h6v3h-6zM534 468h9v3h-9zM534 471h6v3h-6zM531 474h6v3h-6zM528 477h6v3h-6zM525 480h6v3h-6zM522 483h6v3h-6zM522 486h6v3h-6zM519 489h9v3h-9zM519 492h9v3h-9zM522 495h6v3h-6zM525 498h6v3h-6zM528 501h6v3h-6zM531 504h6v3h-6zM531 507h9v3h-9zM534 510h9v3h-9zM534 513h9v3h-9zM534 516h9v3h-9zM531 519h9v3h-9zM528 522h9v3h-9zM525 525h9v3h-9zM525 528h6v3h-6zM522 531h6v3h-6zM402 534h18v3h-18zM519 534h6v3h-6zM396 537h6v3h-6zM420 537h6v3h-6zM477 537h12v3h-12zM516 537h6v3h-6zM390 540h6v3h-6zM429 540h6v3h-6zM471 540h27v3h-27zM510 540h9v3h-9zM384 543h6v3h-6zM435 543h6v3h-6zM465 543h9v3h-9zM489 543h24v3h-24zM378 546h6v3h-6zM441 546h9v3h-9zM456 546h9v3h-9zM372 549h6v3h-6zM450 549h6v3h-6zM366 552h3v3h-3zM363 555h3v3h-3zM360 558h3v3h-3zM354 561h3v3h-3zM351 564h3v3h-3zM348 567h3v3h-3zM345 570h3v3h-3zM342 573h3v3h-3zM339 579h3v3h-3zM339 582h3v3h-3zM336 588h3v3h-3zM333 594h3v3h-3zM330 600h3v3h-3zM327 603h3v3h-3zM324 609h3v3h-3zM324 612h3v3h-3zM324 615h3v3h-3zM324 618h3v3h-3zM324 621h3v3h-3zM324 624h3v3h-3zM327 633h3v3h-3zM330 651h3v3h-3zM333 657h3v3h-3zM345 678h3v3h-3z"/>
<path fill="#ffacac" d="M438 264h12v3h-12zM414 267h48v3h-48zM399 270h69v3h-69zM387 273h36v3h-36zM447 273h27v3h-27zM375 276h30v3h-30zM456 276h24v3h-24zM366 279h24v3h-24zM462 279h21v3h-21zM360 282h15v3h-15zM468 282h18v3h-18zM354 285h12v3h-12zM474 285h15v3h-15zM348 288h12v3h-12zM477 288h15v3h-15zM342 291h12v3h-12zM483 291h15v3h-15zM336 294h12v3h-12zM486 294h15v3h-15zM330 297h12v3h-12zM489 297h15v3h-15zM327 300h9v3h-9zM492 300h15v3h-15zM321 303h9v3h-9zM495 303h15v3h-15zM315 306h9v3h-9zM498 306h15v3h-15zM309 309h9v3h-9zM501 309h12v3h-12zM303 312h12v3h-12zM504 312h12v3h-12zM300 315h9v3h-9zM507 315h12v3h-12zM294 318h9v3h-9zM510 318h12v3h-12zM291 321h9v3h-9zM513 321h12v3h-12zM285 324h9v3h-9zM516 324h9v3h-9zM282 327h9v3h-9zM519 327h9v3h-9zM279 330h9v3h-9zM519 330h12v3h-12zM276 333h9v3h-9zM522 333h9v3h-9zM273 336h6v3h-6zM522 336h12v3h-12zM267 339h9v3h-9zM525 339h12v3h-12zM264 342h9v3h-9zM525 342h15v3h-15zM261 345h9v3h-9zM528 345h15v3h-15zM258 348h9v3h-9zM531 348h15v3h-15zM255 351h9v3h-9zM534 351h15v3h-15zM249 354h9v3h-9zM537 354h15v3h-15zM246 357h9v3h-9zM540 357h15v3h-15zM243 360h9v3h-9zM546 360h12v3h-12zM240 363h9v3h-9zM549 363h12v3h-12zM237 366h9v3h-9zM552 366h9v3h-9zM234 369h6v3h-6zM555 369h9v3h-9zM231 372h9v3h-9zM558 372h9v3h-9zM225 375h12v3h-12zM561 375h6v3h-6zM213 378h21v3h-21zM561 378h9v3h-9zM213 381h18v3h-18zM564 381h6v3h-6zM210 384h15v3h-15zM564 384h9v3h-9zM567 387h6v3h-6zM567 390h6v3h-6zM567 393h9v3h-9zM567 396h9v3h-9zM567 399h9v3h-9zM567 402h6v3h-6zM564 405h9v3h-9zM561 408h9v3h-9zM561 411h6v3h-6zM558 414h6v3h-6zM555 417h6v3h-6zM552 420h6v3h-6zM552 423h6v3h-6zM549 426h6v3h-6zM549 429h6v3h-6zM549 432h6v3h-6zM549 435h6v3h-6zM549 438h6v3h-6zM549 441h6v3h-6zM549 444h6v3h-6zM549 447h6v3h-6zM549 450h6v3h-6zM549 453h6v3h-6zM549 456h6v3h-6zM546 459h6v3h-6zM546 462h6v3h-6zM543 465h6v3h-6zM543 468h6v3h-6zM540 471h6v3h-6zM537 474h6v3h-6zM534 477h6v3h-6zM531 480h6v3h-6zM528 483h9v3h-9zM528 486h6v3h-6zM528 489h6v3h-6zM528 492h6v3h-6zM528 495h9v3h-9zM531 498h9v3h-9zM534 501h9v3h-9zM537 504h9v3h-9zM540 507h9v3h-9zM543 510h9v3h-9zM543 513h12v3h-12zM543 516h12v3h-12zM540 519h15v3h-15zM537 522h15v3h-15zM534 525h15v3h-15zM531 528h9v3h-9zM528 531h6v3h-6zM525 534h6v3h-6zM402 537h18v3h-18zM522 537h6v3h-6zM396 540h3v3h-3zM420 540h9v3h-9zM519 540h6v3h-6zM390 543h3v3h-3zM429 543h6v3h-6zM474 543h15v3h-15zM513 543h9v3h-9zM384 546h3v3h-3zM435 546h6v3h-6zM465 546h51v3h-51zM378 549h3v3h-3zM441 549h9v3h-9zM456 549h12v3h-12zM369 552h6v3h-6zM453 552h3v3h-3zM366 555h3v3h-3zM363 558h3v3h-3zM357 561h3v3h-3zM354 564h3v3h-3zM351 567h3v3h-3zM348 570h3v3h-3zM345 573h3v3h-3zM342 576h3v3h-3zM342 579h3v3h-3zM339 585h3v3h-3zM339 588h3v3h-3zM336 591h3v3h-3zM336 594h3v3h-3zM333 597h3v3h-3zM327 606h3v3h-3zM327 630h3v3h-3zM330 642h3v3h-3zM330 645h3v3h-3zM330 648h3v3h-3zM336 660h3v3h-3zM339 666h3v3h-3zM342 672h3v3h-3z"/>
<path fill="#ffa6a6" d="M417 258h54v3h-54zM405 261h72v3h-72zM396 264h42v3h-42zM450 264h30v3h-30zM384 267h30v3h-30zM462 267h24v3h-24zM375 270h24v3h-24zM468 270h21v3h-21zM366 273h21v3h-21zM474 273h18v3h-18zM360 276h15v3h-15zM480 276h15v3h-15zM354 279h12v3h-12zM483 279h15v3h-15zM348 282h12v3h-12zM486 282h15v3h-15zM342 285h12v3h-12zM489 285h15v3h-15zM339 288h9v3h-9zM492 288h15v3h-15zM333 291h9v3h-9zM498 291h12v3h-12zM327 294h9v3h-9zM501 294h12v3h-12zM321 297h9v3h-9zM504 297h12v3h-12zM315 300h12v3h-12zM507 300h12v3h-12zM309 303h12v3h-12zM510 303h12v3h-12zM306 306h9v3h-9zM513 306h12v3h-12zM300 309h9v3h-9zM513 309h12v3h-12zM294 312h9v3h-9zM516 312h12v3h-12zM291 315h9v3h-9zM519 315h12v3h-12zM285 318h9v3h-9zM522 318h12v3h-12zM282 321h9v3h-9zM525 321h12v3h-12zM279 324h6v3h-6zM525 324h12v3h-12zM273 327h9v3h-9zM528 327h12v3h-12zM270 330h9v3h-9zM531 330h12v3h-12zM267 333h9v3h-9zM531 333h15v3h-15zM264 336h9v3h-9zM534 336h15v3h-15zM258 339h9v3h-9zM537 339h15v3h-15zM255 342h9v3h-9zM540 342h15v3h-15zM252 345h9v3h-9zM543 345h12v3h-12zM249 348h9v3h-9zM546 348h12v3h-12zM243 351h12v3h-12zM549 351h12v3h-12zM240 354h9v3h-9zM552 354h12v3h-12zM237 357h9v3h-9zM555 357h9v3h-9zM231 360h12v3h-12zM558 360h9v3h-9zM228 363h12v3h-12zM561 363h6v3h-6zM222 366h15v3h-15zM561 366h9v3h-9zM216 369h18v3h-18zM564 369h6v3h-6zM216 372h15v3h-15zM567 372h6v3h-6zM213 375h12v3h-12zM567 375h6v3h-6zM570 378h6v3h-6zM570 381h6v3h-6zM573 384h6v3h-6zM573 387h6v3h-6zM573 390h9v3h-9zM576 393h6v3h-6zM576 396h6v3h-6zM576 399h6v3h-6zM573 402h6v3h-6zM573 405h6v3h-6zM570 408h6v3h-6zM567 411h6v3h-6zM564 414h6v3h-6zM561 417h6v3h-6zM558 420h6v3h-6zM558 423h6v3h-6zM555 426h6v3h-6zM555 429h6v3h-6zM555 432h6v3h-6zM555 435h6v3h-6zM555 438h6v3h-6zM555 441h6v3h-6zM555 444h6v3h-6zM555 447h6v3h-6zM555 450h6v3h-6zM555 453h6v3h-6zM555 456h3v3h-3zM552 459h6v3h-6zM552 462h6v3h-6zM549 465h6v3h-6zM549 468h6v3h-6zM546 471h6v3h-6zM543 474h6v3h-6zM540 477h6v3h-6zM537 480h6v3h-6zM537 483h6v3h-6zM534 486h6v3h-6zM534 489h6v3h-6zM534 492h9v3h-9zM537 495h6v3h-6zM540 498h6v3h-6zM543 501h9v3h-9zM546 504h9v3h-9zM549 507h9v3h-9zM552 510h9v3h-9zM555 513h9v3h-9zM555 516h12v3h-12zM555 519h12v3h-12zM552 522h15v3h-15zM549 525h18v3h-18zM540 528h27v3h-27zM534 531h33v3h-33zM531 534h36v3h-36zM528 537h36v3h-36zM399 540h21v3h-21zM525 540h6v3h-6zM549 540h15v3h-15zM393 543h6v3h-6zM423 543h6v3h-6zM522 543h6v3h-6zM387 546h6v3h-6zM429 546h6v3h-6zM516 546h6v3h-6zM381 549h6v3h-6zM435 549h6v3h-6zM468 549h48v3h-48zM375 552h3v3h-3zM441 552h12v3h-12zM456 552h15v3h-15zM495 552h9v3h-9zM369 555h3v3h-3zM366 558h3v3h-3zM360 561h3v3h-3zM357 564h3v3h-3zM354 567h3v3h-3zM351 570h3v3h-3zM348 573h3v3h-3zM345 576h3v3h-3zM342 582h3v3h-3zM342 585h3v3h-3zM339 591h3v3h-3zM333 600h3v3h-3zM330 603h3v3h-3zM327 609h3v3h-3zM327 612h3v3h-3zM327 615h3v3h-3zM327 618h3v3h-3zM327 621h3v3h-3zM327 624h3v3h-3zM327 627h3v3h-3zM330 636h3v3h-3zM330 639h3v3h-3zM333 654h3v3h-3zM339 663h3v3h-3zM342 669h3v3h-3zM345 675h3v3h-3zM348 681h3v3h-3z"/>
<path fill="#ffa1a1" d="M453 246h6v3h-6zM420 249h57v3h-57zM405 252h78v3h-78zM399 255h87v3h-87zM390 258h27v3h-27zM471 258h18v3h-18zM384 261h21v3h-21zM477 261h18v3h-18zM375 264h21v3h-21zM480 264h18v3h-18zM369 267h15v3h-15zM486 267h15v3h-15zM360 270h15v3h-15zM489 270h15v3h-15zM354 273h12v3h-12zM492 273h15v3h-15zM351 276h9v3h-9zM495 276h15v3h-15zM345 279h9v3h-9zM498 279h15v3h-15zM339 282h9v3h-9zM501 282h15v3h-15zM333 285h9v3h-9zM504 285h15v3h-15zM327 288h12v3h-12zM507 288h15v3h-15zM321 291h12v3h-12zM510 291h15v3h-15zM318 294h9v3h-9zM513 294h12v3h-12zM312 297h9v3h-9zM516 297h12v3h-12zM306 300h9v3h-9zM519 300h12v3h-12zM300 303h9v3h-9zM522 303h12v3h-12zM297 306h9v3h-9zM525 306h12v3h-12zM291 309h9v3h-9zM525 309h12v3h-12zM288 312h6v3h-6zM528 312h12v3h-12zM282 315h9v3h-9zM531 315h12v3h-12zM279 318h6v3h-6zM534 318h12v3h-12zM273 321h9v3h-9zM537 321h12v3h-12zM270 324h9v3h-9zM537 324h15v3h-15zM267 327h6v3h-6zM540 327h15v3h-15zM261 330h9v3h-9zM543 330h12v3h-12zM258 333h9v3h-9zM546 333h12v3h-12zM255 336h9v3h-9zM549 336h12v3h-12zM249 339h9v3h-9zM552 339h9v3h-9zM246 342h9v3h-9zM555 342h9v3h-9zM240 345h12v3h-12zM555 345h12v3h-12zM234 348h15v3h-15zM558 348h9v3h-9zM228 351h15v3h-15zM561 351h9v3h-9zM222 354h18v3h-18zM564 354h6v3h-6zM222 357h15v3h-15zM564 357h9v3h-9zM219 360h12v3h-12zM567 360h6v3h-6zM219 363h9v3h-9zM567 363h9v3h-9zM219 366h3v3h-3zM570 366h6v3h-6zM570 369h9v3h-9zM573 372h6v3h-6zM573 375h9v3h-9zM576 378h6v3h-6zM576 381h9v3h-9zM579 384h6v3h-6zM579 387h9v3h-9zM582 390h6v3h-6zM582 393h6v3h-6zM582 396h6v3h-6zM582 399h6v3h-6zM579 402h9v3h-9zM579 405h6v3h-6zM576 408h6v3h-6zM573 411h6v3h-6zM570 414h6v3h-6zM567 417h6v3h-6zM564 420h9v3h-9zM564 423h6v3h-6zM561 426h9v3h-9zM561 429h6v3h-6zM561 432h6v3h-6zM561 435h6v3h-6zM561 438h6v3h-6zM561 441h6v3h-6zM561 444h6v3h-6zM561 447h6v3h-6zM561 450h3v3h-3zM561 453h3v3h-3zM558 456h6v3h-6zM558 459h6v3h-6zM558 462h6v3h-6zM555 465h6v3h-6zM555 468h6v3h-6zM552 471h6v3h-6zM549 474h6v3h-6zM546 477h6v3h-6zM543 480h9v3h-9zM543 483h6v3h-6zM540 486h9v3h-9zM540 489h9v3h-9zM543 492h6v3h-6zM543 495h9v3h-9zM546 498h9v3h-9zM552 501h9v3h-9zM555 504h9v3h-9zM558 507h12v3h-12zM561 510h12v3h-12zM564 513h12v3h-12zM567 516h9v3h-9zM567 519h9v3h-9zM567 522h9v3h-9zM567 525h9v3h-9zM567 528h9v3h-9zM567 531h6v3h-6zM567 534h6v3h-6zM564 537h9v3h-9zM531 540h18v3h-18zM564 540h9v3h-9zM399 543h24v3h-24zM528 543h42v3h-42zM393 546h6v3h-6zM423 546h6v3h-6zM522 546h9v3h-9zM543 546h24v3h-24zM387 549h6v3h-6zM429 549h6v3h-6zM516 549h9v3h-9zM378 552h6v3h-6zM435 552h6v3h-6zM471 552h24v3h-24zM504 552h12v3h-12zM372 555h6v3h-6zM441 555h33v3h-33zM489 555h12v3h-12zM369 558h3v3h-3zM363 561h3v3h-3zM360 564h3v3h-3zM357 567h3v3h-3zM354 570h3v3h-3zM351 573h3v3h-3zM348 576h3v3h-3zM345 579h3v3h-3zM345 582h3v3h-3zM342 588h3v3h-3zM339 594h3v3h-3zM336 597h3v3h-3zM333 603h3v3h-3zM330 606h3v3h-3zM330 609h3v3h-3zM330 630h3v3h-3zM330 633h3v3h-3zM336 657h3v3h-3zM348 678h3v3h-3z"/>
<path fill="#ff9c9c" d="M438 237h36v3h-36zM420 240h63v3h-63zM405 243h81v3h-81zM399 246h54v3h-54zM459 246h33v3h-33zM393 249h27v3h-27zM477 249h18v3h-18zM387 252h18v3h-18zM483 252h15v3h-15zM381 255h18v3h-18zM486 255h15v3h-15zM375 258h15v3h-15zM489 258h18v3h-18zM369 261h15v3h-15zM495 261h15v3h-15zM360 264h15v3h-15zM498 264h15v3h-15zM354 267h15v3h-15zM501 267h15v3h-15zM351 270h9v3h-9zM504 270h15v3h-15zM345 273h9v3h-9zM507 273h15v3h-15zM339 276h12v3h-12zM510 276h15v3h-15zM333 279h12v3h-12zM513 279h15v3h-15zM330 282h9v3h-9zM516 282h12v3h-12zM324 285h9v3h-9zM519 285h12v3h-12zM318 288h9v3h-9zM522 288h12v3h-12zM312 291h9v3h-9zM525 291h12v3h-12zM309 294h9v3h-9zM525 294h12v3h-12zM303 297h9v3h-9zM528 297h12v3h-12zM297 300h9v3h-9zM531 300h12v3h-12zM294 303h6v3h-6zM534 303h12v3h-12zM288 306h9v3h-9zM537 306h12v3h-12zM285 309h6v3h-6zM537 309h12v3h-12zM279 312h9v3h-9zM540 312h12v3h-12zM273 315h9v3h-9zM543 315h12v3h-12zM270 318h9v3h-9zM546 318h12v3h-12zM264 321h9v3h-9zM549 321h12v3h-12zM261 324h9v3h-9zM552 324h9v3h-9zM258 327h9v3h-9zM555 327h9v3h-9zM252 330h9v3h-9zM555 330h12v3h-12zM249 333h9v3h-9zM558 333h9v3h-9zM243 336h12v3h-12zM561 336h9v3h-9zM234 339h15v3h-15zM561 339h9v3h-9zM228 342h18v3h-18zM564 342h9v3h-9zM225 345h15v3h-15zM567 345h6v3h-6zM225 348h9v3h-9zM567 348h9v3h-9zM225 351h3v3h-3zM570 351h6v3h-6zM570 354h9v3h-9zM573 357h6v3h-6zM573 360h9v3h-9zM576 363h6v3h-6zM576 366h9v3h-9zM579 369h6v3h-6zM579 372h9v3h-9zM582 375h6v3h-6zM582 378h9v3h-9zM585 381h6v3h-6zM585 384h9v3h-9zM588 387h6v3h-6zM588 390h9v3h-9zM588 393h9v3h-9zM588 396h9v3h-9zM588 399h9v3h-9zM588 402h6v3h-6zM585 405h9v3h-9zM582 408h9v3h-9zM579 411h9v3h-9zM576 414h9v3h-9zM573 417h9v3h-9zM573 420h6v3h-6zM570 423h6v3h-6zM570 426h6v3h-6zM567 429h6v3h-6zM567 432h6v3h-6zM567 435h6v3h-6zM567 438h6v3h-6zM567 441h6v3h-6zM567 444h6v3h-6zM567 447h6v3h-6zM564 450h6v3h-6zM564 453h6v3h-6zM564 456h6v3h-6zM564 459h6v3h-6zM564 462h6v3h-6zM561 465h6v3h-6zM561 468h6v3h-6zM558 471h6v3h-6zM555 474h9v3h-9zM552 477h9v3h-9zM552 480h6v3h-6zM549 483h9v3h-9zM549 486h6v3h-6zM549 489h6v3h-6zM549 492h9v3h-9zM552 495h9v3h-9zM555 498h9v3h-9zM561 501h9v3h-9zM564 504h12v3h-12zM570 507h9v3h-9zM573 510h9v3h-9zM576 513h9v3h-9zM576 516h9v3h-9zM576 519h9v3h-9zM576 522h9v3h-9zM576 525h9v3h-9zM576 528h6v3h-6zM573 531h9v3h-9zM573 534h9v3h-9zM573 537h6v3h-6zM573 540h6v3h-6zM570 543h6v3h-6zM399 546h24v3h-24zM531 546h12v3h-12zM567 546h9v3h-9zM393 549h6v3h-6zM420 549h9v3h-9zM525 549h45v3h-45zM384 552h6v3h-6zM429 552h6v3h-6zM516 552h9v3h-9zM543 552h21v3h-21zM378 555h6v3h-6zM435 555h6v3h-6zM474 555h15v3h-15zM501 555h15v3h-15zM372 558h3v3h-3zM444 558h57v3h-57zM366 561h6v3h-6zM363 564h3v3h-3zM360 567h3v3h-3zM357 570h3v3h-3zM354 573h3v3h-3zM351 576h3v3h-3zM348 579h3v3h-3zM348 582h3v3h-3zM345 585h3v3h-3zM342 591h3v3h-3zM339 597h3v3h-3zM336 600h3v3h-3zM333 606h3v3h-3zM330 612h3v3h-3zM330 615h3v3h-3zM330 618h3v3h-3zM330 621h3v3h-3zM330 624h3v3h-3zM330 627h3v3h-3zM333 642h3v3h-3zM333 645h3v3h-3zM333 648h3v3h-3zM333 651h3v3h-3zM339 660h3v3h-3zM342 666h3v3h-3zM345 672h3v3h-3zM351 681h3v3h-3z"/>
<path fill="#ff9696" d="M441 225h30v3h-30zM432 228h48v3h-48zM417 231h72v3h-72zM405 234h87v3h-87zM399 237h39v3h-39zM474 237h21v3h-21zM393 240h27v3h-27zM483 240h18v3h-18zM390 243h15v3h-15zM486 243h18v3h-18zM384 246h15v3h-15zM492 246h15v3h-15zM381 249h12v3h-12zM495 249h15v3h-15zM375 252h12v3h-12zM498 252h15v3h-15zM369 255h12v3h-12zM501 255h18v3h-18zM360 258h15v3h-15zM507 258h15v3h-15zM354 261h15v3h-15zM510 261h15v3h-15zM351 264h9v3h-9zM513 264h15v3h-15zM345 267h9v3h-9zM516 267h15v3h-15zM339 270h12v3h-12zM519 270h12v3h-12zM333 273h12v3h-12zM522 273h12v3h-12zM330 276h9v3h-9zM525 276h12v3h-12zM324 279h9v3h-9zM528 279h12v3h-12zM318 282h12v3h-12zM528 282h12v3h-12zM315 285h9v3h-9zM531 285h12v3h-12zM309 288h9v3h-9zM534 288h12v3h-12zM303 291h9v3h-9zM537 291h12v3h-12zM300 294h9v3h-9zM537 294h12v3h-12zM294 297h9v3h-9zM540 297h12v3h-12zM291 300h6v3h-6zM543 300h12v3h-12zM285 303h9v3h-9zM546 303h12v3h-12zM279 306h9v3h-9zM549 306h12v3h-12zM276 309h9v3h-9zM549 309h12v3h-12zM270 312h9v3h-9zM552 312h12v3h-12zM267 315h6v3h-6zM555 315h12v3h-12zM261 318h9v3h-9zM558 318h9v3h-9zM255 321h9v3h-9zM561 321h9v3h-9zM252 324h9v3h-9zM561 324h12v3h-12zM246 327h12v3h-12zM564 327h9v3h-9zM231 330h21v3h-21zM567 330h9v3h-9zM231 333h18v3h-18zM567 333h9v3h-9zM228 336h15v3h-15zM570 336h6v3h-6zM228 339h6v3h-6zM570 339h9v3h-9zM573 342h6v3h-6zM573 345h9v3h-9zM576 348h6v3h-6zM576 351h6v3h-6zM579 354h6v3h-6zM579 357h6v3h-6zM582 360h6v3h-6zM582 363h6v3h-6zM585 366h6v3h-6zM585 369h6v3h-6zM588 372h6v3h-6zM588 375h6v3h-6zM591 378h6v3h-6zM591 381h9v3h-9zM594 384h6v3h-6zM594 387h9v3h-9zM597 390h6v3h-6zM597 393h9v3h-9zM597 396h9v3h-9zM597 399h9v3h-9zM594 402h9v3h-9zM594 405h6v3h-6zM591 408h6v3h-6zM588 411h6v3h-6zM585 414h6v3h-6zM582 417h6v3h-6zM579 420h6v3h-6zM576 423h9v3h-9zM576 426h6v3h-6zM573 429h9v3h-9zM573 432h9v3h-9zM573 435h6v3h-6zM573 438h6v3h-6zM573 441h6v3h-6zM573 444h6v3h-6zM573 447h6v3h-6zM570 450h9v3h-9zM570 453h9v3h-9zM570 456h6v3h-6zM570 459h6v3h-6zM570 462h6v3h-6zM567 465h9v3h-9zM567 468h6v3h-6zM564 471h9v3h-9zM564 474h6v3h-6zM561 477h6v3h-6zM558 480h9v3h-9zM558 483h6v3h-6zM555 486h9v3h-9zM555 489h12v3h-12zM558 492h9v3h-9zM561 495h9v3h-9zM564 498h12v3h-12zM570 501h12v3h-12zM576 504h9v3h-9zM579 507h12v3h-12zM582 510h9v3h-9zM585 513h9v3h-9zM585 516h9v3h-9zM585 519h9v3h-9zM585 522h9v3h-9zM585 525h9v3h-9zM582 528h12v3h-12zM582 531h12v3h-12zM582 534h12v3h-12zM579 537h12v3h-12zM579 540h9v3h-9zM576 543h12v3h-12zM576 546h9v3h-9zM399 549h21v3h-21zM570 549h12v3h-12zM390 552h9v3h-9zM420 552h9v3h-9zM525 552h18v3h-18zM564 552h12v3h-12zM384 555h6v3h-6zM429 555h6v3h-6zM516 555h12v3h-12zM534 555h30v3h-30zM375 558h6v3h-6zM435 558h9v3h-9zM501 558h15v3h-15zM372 561h3v3h-3zM444 561h51v3h-51zM366 564h3v3h-3zM363 567h3v3h-3zM360 570h3v3h-3zM357 573h3v3h-3zM354 576h3v3h-3zM351 579h3v3h-3zM348 585h3v3h-3zM345 588h3v3h-3zM345 591h3v3h-3zM342 594h3v3h-3zM339 600h3v3h-3zM336 603h3v3h-3zM333 609h3v3h-3zM333 633h3v3h-3zM333 636h3v3h-3zM333 639h3v3h-3zM336 654h3v3h-3zM348 675h3v3h-3z"/>
<path fill="#ff9191" d="M444 213h27v3h-27zM438 216h42v3h-42zM429 219h60v3h-60zM417 222h75v3h-75zM405 225h36v3h-36zM471 225h27v3h-27zM396 228h36v3h-36zM480 228h21v3h-21zM390 231h27v3h-27zM489 231h15v3h-15zM387 234h18v3h-18zM492 234h15v3h-15zM384 237h15v3h-15zM495 237h18v3h-18zM381 240h12v3h-12zM501 240h15v3h-15zM378 243h12v3h-12zM504 243h15v3h-15zM372 246h12v3h-12zM507 246h15v3h-15zM366 249h15v3h-15zM510 249h15v3h-15zM360 252h15v3h-15zM513 252h15v3h-15zM354 255h15v3h-15zM519 255h12v3h-12zM348 258h12v3h-12zM522 258h12v3h-12zM345 261h9v3h-9zM525 261h12v3h-12zM339 264h12v3h-12zM528 264h12v3h-12zM333 267h12v3h-12zM531 267h12v3h-12zM330 270h9v3h-9zM531 270h12v3h-12zM324 273h9v3h-9zM534 273h12v3h-12zM318 276h12v3h-12zM537 276h12v3h-12zM315 279h9v3h-9zM540 279h12v3h-12zM309 282h9v3h-9zM540 282h12v3h-12zM306 285h9v3h-9zM543 285h12v3h-12zM300 288h9v3h-9zM546 288h12v3h-12zM297 291h6v3h-6zM549 291h9v3h-9zM291 294h9v3h-9zM549 294h12v3h-12zM285 297h9v3h-9zM552 297h12v3h-12zM282 300h9v3h-9zM555 300h12v3h-12zM276 303h9v3h-9zM558 303h9v3h-9zM273 306h6v3h-6zM561 306h9v3h-9zM267 309h9v3h-9zM561 309h12v3h-12zM261 312h9v3h-9zM564 312h9v3h-9zM255 315h12v3h-12zM567 315h9v3h-9zM249 318h12v3h-12zM567 318h9v3h-9zM234 321h21v3h-21zM570 321h9v3h-9zM234 324h18v3h-18zM573 324h6v3h-6zM234 327h12v3h-12zM573 327h9v3h-9zM576 330h6v3h-6zM576 333h6v3h-6zM576 336h9v3h-9zM579 339h6v3h-6zM579 342h9v3h-9zM582 345h6v3h-6zM582 348h6v3h-6zM582 351h9v3h-9zM585 354h6v3h-6zM585 357h9v3h-9zM588 360h6v3h-6zM588 363h9v3h-9zM591 366h6v3h-6zM591 369h9v3h-9zM594 372h6v3h-6zM594 375h9v3h-9zM597 378h9v3h-9zM600 381h6v3h-6zM600 384h9v3h-9zM603 387h6v3h-6zM603 390h9v3h-9zM606 393h6v3h-6zM606 396h9v3h-9zM606 399h6v3h-6zM603 402h9v3h-9zM600 405h9v3h-9zM597 408h9v3h-9zM594 411h9v3h-9zM591 414h9v3h-9zM588 417h9v3h-9zM585 420h9v3h-9zM585 423h6v3h-6zM582 426h9v3h-9zM582 429h6v3h-6zM582 432h6v3h-6zM579 435h9v3h-9zM579 438h9v3h-9zM579 441h9v3h-9zM579 444h9v3h-9zM579 447h9v3h-9zM579 450h9v3h-9zM579 453h9v3h-9zM576 456h12v3h-12zM576 459h12v3h-12zM576 462h9v3h-9zM576 465h9v3h-9zM573 468h12v3h-12zM573 471h9v3h-9zM570 474h9v3h-9zM567 477h12v3h-12zM567 480h9v3h-9zM564 483h12v3h-12zM564 486h12v3h-12zM567 489h9v3h-9zM567 492h12v3h-12zM570 495h15v3h-15zM576 498h12v3h-12zM582 501h9v3h-9zM585 504h9v3h-9zM591 507h6v3h-6zM591 510h9v3h-9zM594 513h6v3h-6zM594 516h9v3h-9zM594 519h9v3h-9zM594 522h9v3h-9zM594 525h9v3h-9zM594 528h9v3h-9zM594 531h9v3h-9zM594 534h9v3h-9zM591 537h12v3h-12zM588 540h18v3h-18zM588 543h18v3h-18zM585 546h21v3h-21zM582 549h24v3h-24zM399 552h21v3h-21zM576 552h30v3h-30zM390 555h9v3h-9zM417 555h12v3h-12zM528 555h6v3h-6zM564 555h21v3h-21zM381 558h9v3h-9zM429 558h6v3h-6zM516 558h51v3h-51zM375 561h6v3h-6zM435 561h9v3h-9zM495 561h21v3h-21zM369 564h6v3h-6zM444 564h45v3h-45zM366 567h6v3h-6zM363 570h3v3h-3zM360 573h3v3h-3zM357 576h3v3h-3zM354 579h3v3h-3zM351 582h3v3h-3zM351 585h3v3h-3zM348 588h3v3h-3zM345 594h3v3h-3zM342 597h3v3h-3zM339 603h3v3h-3zM336 606h3v3h-3zM333 612h3v3h-3zM333 615h3v3h-3zM333 618h3v3h-3zM333 624h3v3h-3zM333 627h3v3h-3zM333 630h3v3h-3zM339 657h3v3h-3zM342 663h3v3h-3zM345 669h3v3h-3zM351 678h3v3h-3z"/>
<path fill="#ff8c8c" d="M453 201h15v3h-15zM441 204h39v3h-39zM435 207h54v3h-54zM426 210h66v3h-66zM417 213h27v3h-27zM471 213h27v3h-27zM405 216h33v3h-33zM480 216h21v3h-21zM396 219h33v3h-33zM489 219h15v3h-15zM390 222h27v3h-27zM492 222h15v3h-15zM384 225h21v3h-21zM498 225h15v3h-15zM381 228h15v3h-15zM501 228h15v3h-15zM378 231h12v3h-12zM504 231h15v3h-15zM375 234h12v3h-12zM507 234h15v3h-15zM372 237h12v3h-12zM513 237h12v3h-12zM369 240h12v3h-12zM516 240h12v3h-12zM363 243h15v3h-15zM519 243h12v3h-12zM360 246h12v3h-12zM522 246h12v3h-12zM354 249h12v3h-12zM525 249h15v3h-15zM348 252h12v3h-12zM528 252h12v3h-12zM342 255h12v3h-12zM531 255h12v3h-12zM339 258h9v3h-9zM534 258h12v3h-12zM333 261h12v3h-12zM537 261h12v3h-12zM330 264h9v3h-9zM540 264h12v3h-12zM324 267h9v3h-9zM543 267h9v3h-9zM318 270h12v3h-12zM543 270h12v3h-12zM315 273h9v3h-9zM546 273h12v3h-12zM309 276h9v3h-9zM549 276h12v3h-12zM306 279h9v3h-9zM552 279h9v3h-9zM300 282h9v3h-9zM552 282h12v3h-12zM297 285h9v3h-9zM555 285h12v3h-12zM291 288h9v3h-9zM558 288h9v3h-9zM288 291h9v3h-9zM558 291h12v3h-12zM282 294h9v3h-9zM561 294h12v3h-12zM279 297h6v3h-6zM564 297h12v3h-12zM273 300h9v3h-9zM567 300h9v3h-9zM267 303h9v3h-9zM567 303h12v3h-12zM264 306h9v3h-9zM570 306h9v3h-9zM258 309h9v3h-9zM573 309h9v3h-9zM249 312h12v3h-12zM573 312h9v3h-9zM237 315h18v3h-18zM576 315h9v3h-9zM237 318h12v3h-12zM576 318h9v3h-9zM579 321h6v3h-6zM579 324h9v3h-9zM582 327h6v3h-6zM582 330h9v3h-9zM582 333h9v3h-9zM585 336h6v3h-6zM585 339h9v3h-9zM588 342h6v3h-6zM588 345h6v3h-6zM588 348h9v3h-9zM591 351h6v3h-6zM591 354h9v3h-9zM594 357h6v3h-6zM594 360h6v3h-6zM597 363h6v3h-6zM597 366h9v3h-9zM600 369h6v3h-6zM600 372h9v3h-9zM603 375h9v3h-9zM606 378h6v3h-6zM606 381h9v3h-9zM609 384h6v3h-6zM609 387h9v3h-9zM612 390h9v3h-9zM612 393h9v3h-9zM615 396h6v3h-6zM612 399h9v3h-9zM612 402h9v3h-9zM609 405h12v3h-12zM606 408h12v3h-12zM603 411h12v3h-12zM600 414h9v3h-9zM597 417h9v3h-9zM594 420h9v3h-9zM591 423h9v3h-9zM591 426h9v3h-9zM588 429h12v3h-12zM588 432h12v3h-12zM588 435h12v3h-12zM588 438h12v3h-12zM588 441h12v3h-12zM588 444h15v3h-15zM588 447h15v3h-15zM588 450h18v3h-18zM588 453h18v3h-18zM588 456h21v3h-21zM588 459h21v3h-21zM585 462h24v3h-24zM585 465h24v3h-24zM585 468h21v3h-21zM582 471h21v3h-21zM579 474h21v3h-21zM579 477h15v3h-15zM576 480h15v3h-15zM576 483h15v3h-15zM576 486h15v3h-15zM576 489h15v3h-15zM579 492h15v3h-15zM585 495h12v3h-12zM588 498h9v3h-9zM591 501h9v3h-9zM594 504h9v3h-9zM597 507h6v3h-6zM600 510h6v3h-6zM600 513h6v3h-6zM603 516h6v3h-6zM603 519h6v3h-6zM603 522h6v3h-6zM603 525h6v3h-6zM603 528h9v3h-9zM603 531h9v3h-9zM603 534h12v3h-12zM603 537h12v3h-12zM606 540h9v3h-9zM606 543h6v3h-6zM606 546h6v3h-6zM606 549h6v3h-6zM606 552h3v3h-3zM399 555h18v3h-18zM585 555h24v3h-24zM390 558h12v3h-12zM411 558h18v3h-18zM567 558h39v3h-39zM381 561h9v3h-9zM426 561h9v3h-9zM516 561h57v3h-57zM576 561h27v3h-27zM375 564h6v3h-6zM435 564h9v3h-9zM489 564h27v3h-27zM591 564h9v3h-9zM372 567h3v3h-3zM447 567h39v3h-39zM366 570h6v3h-6zM363 573h6v3h-6zM360 576h6v3h-6zM357 579h3v3h-3zM354 582h6v3h-6zM354 585h3v3h-3zM351 588h3v3h-3zM348 591h3v3h-3zM345 597h3v3h-3zM342 600h3v3h-3zM339 606h3v3h-3zM336 609h3v3h-3zM336 612h3v3h-3zM333 621h3v3h-3zM336 639h3v3h-3zM336 642h3v3h-3zM336 648h3v3h-3zM336 651h3v3h-3zM342 660h3v3h-3zM348 672h3v3h-3z"/>
<path fill="#ff8686" d="M453 192h27v3h-27zM441 195h48v3h-48zM432 198h60v3h-60zM423 201h30v3h-30zM468 201h30v3h-30zM414 204h27v3h-27zM480 204h21v3h-21zM405 207h30v3h-30zM489 207h15v3h-15zM396 210h30v3h-30zM492 210h15v3h-15zM390 213h27v3h-27zM498 213h15v3h-15zM384 216h21v3h-21zM501 216h15v3h-15zM381 219h15v3h-15zM504 219h15v3h-15zM375 222h15v3h-15zM507 222h15v3h-15zM372 225h12v3h-12zM513 225h12v3h-12zM372 228h9v3h-9zM516 228h12v3h-12zM369 231h9v3h-9zM519 231h12v3h-12zM363 234h12v3h-12zM522 234h15v3h-15zM360 237h12v3h-12zM525 237h15v3h-15zM357 240h12v3h-12zM528 240h15v3h-15zM351 243h12v3h-12zM531 243h15v3h-15zM348 246h12v3h-12zM534 246h15v3h-15zM342 249h12v3h-12zM540 249h9v3h-9zM339 252h9v3h-9zM540 252h12v3h-12zM333 255h9v3h-9zM543 255h12v3h-12zM327 258h12v3h-12zM546 258h12v3h-12zM324 261h9v3h-9zM549 261h12v3h-12zM318 264h12v3h-12zM552 264h9v3h-9zM315 267h9v3h-9zM552 267h12v3h-12zM309 270h9v3h-9zM555 270h12v3h-12zM306 273h9v3h-9zM558 273h12v3h-12zM303 276h6v3h-6zM561 276h9v3h-9zM297 279h9v3h-9zM561 279h12v3h-12zM294 282h6v3h-6zM564 282h12v3h-12zM288 285h9v3h-9zM567 285h9v3h-9zM285 288h6v3h-6zM567 288h12v3h-12zM279 291h9v3h-9zM570 291h12v3h-12zM276 294h6v3h-6zM573 294h9v3h-9zM270 297h9v3h-9zM576 297h9v3h-9zM264 300h9v3h-9zM576 300h9v3h-9zM258 303h9v3h-9zM579 303h9v3h-9zM240 306h3v3h-3zM246 306h18v3h-18zM579 306h9v3h-9zM240 309h18v3h-18zM582 309h9v3h-9zM240 312h9v3h-9zM582 312h9v3h-9zM585 315h6v3h-6zM585 318h9v3h-9zM585 321h9v3h-9zM588 324h9v3h-9zM588 327h9v3h-9zM591 330h6v3h-6zM591 333h9v3h-9zM591 336h9v3h-9zM594 339h6v3h-6zM594 342h9v3h-9zM594 345h9v3h-9zM597 348h6v3h-6zM597 351h9v3h-9zM600 354h6v3h-6zM600 357h6v3h-6zM600 360h9v3h-9zM603 363h6v3h-6zM606 366h6v3h-6zM606 369h9v3h-9zM609 372h6v3h-6zM612 375h6v3h-6zM612 378h9v3h-9zM615 381h6v3h-6zM615 384h9v3h-9zM618 387h9v3h-9zM621 390h6v3h-6zM621 393h9v3h-9zM621 396h9v3h-9zM621 399h9v3h-9zM621 402h9v3h-9zM621 405h9v3h-9zM618 408h9v3h-9zM615 411h12v3h-12zM609 414h15v3h-15zM606 417h12v3h-12zM603 420h12v3h-12zM600 423h12v3h-12zM600 426h12v3h-12zM600 429h9v3h-9zM600 432h9v3h-9zM600 435h9v3h-9zM600 438h12v3h-12zM600 441h12v3h-12zM603 444h12v3h-12zM603 447h12v3h-12zM606 450h12v3h-12zM606 453h12v3h-12zM609 456h12v3h-12zM609 459h15v3h-15zM609 462h15v3h-15zM609 465h18v3h-18zM606 468h21v3h-21zM603 471h24v3h-24zM600 474h24v3h-24zM594 477h27v3h-27zM591 480h24v3h-24zM591 483h21v3h-21zM591 486h18v3h-18zM591 489h15v3h-15zM594 492h12v3h-12zM597 495h9v3h-9zM597 498h12v3h-12zM600 501h9v3h-9zM603 504h6v3h-6zM603 507h9v3h-9zM606 510h6v3h-6zM606 513h9v3h-9zM609 516h6v3h-6zM609 519h9v3h-9zM609 522h9v3h-9zM609 525h12v3h-12zM612 528h6v3h-6zM612 531h6v3h-6zM615 534h3v3h-3zM402 558h9v3h-9zM390 561h36v3h-36zM573 561h3v3h-3zM381 564h9v3h-9zM423 564h12v3h-12zM516 564h75v3h-75zM375 567h6v3h-6zM435 567h12v3h-12zM486 567h27v3h-27zM582 567h12v3h-12zM372 570h6v3h-6zM447 570h36v3h-36zM369 573h3v3h-3zM366 576h3v3h-3zM360 579h6v3h-6zM360 582h3v3h-3zM357 585h3v3h-3zM354 588h3v3h-3zM351 591h3v3h-3zM348 594h3v3h-3zM345 600h3v3h-3zM342 603h3v3h-3zM339 609h3v3h-3zM336 615h3v3h-3zM336 618h3v3h-3zM336 621h3v3h-3zM336 627h3v3h-3zM336 630h3v3h-3zM336 633h3v3h-3zM336 636h3v3h-3zM336 645h3v3h-3zM339 654h3v3h-3zM345 666h3v3h-3zM351 675h3v3h-3zM354 678h3v3h-3z"/>
<path fill="#ff8181" d="M453 183h33v3h-33zM441 186h51v3h-51zM429 189h69v3h-69zM423 192h30v3h-30zM480 192h21v3h-21zM414 195h27v3h-27zM489 195h15v3h-15zM405 198h27v3h-27zM492 198h18v3h-18zM396 201h27v3h-27zM498 201h15v3h-15zM387 204h27v3h-27zM501 204h15v3h-15zM384 207h21v3h-21zM504 207h15v3h-15zM378 210h18v3h-18zM507 210h15v3h-15zM375 213h15v3h-15zM513 213h12v3h-12zM372 216h12v3h-12zM516 216h12v3h-12zM369 219h12v3h-12zM519 219h12v3h-12zM366 222h9v3h-9zM522 222h15v3h-15zM363 225h9v3h-9zM525 225h15v3h-15zM360 228h12v3h-12zM528 228h15v3h-15zM357 231h12v3h-12zM531 231h15v3h-15zM354 234h9v3h-9zM537 234h12v3h-12zM351 237h9v3h-9zM540 237h12v3h-12zM345 240h12v3h-12zM543 240h12v3h-12zM342 243h9v3h-9zM546 243h9v3h-9zM336 246h12v3h-12zM549 246h9v3h-9zM333 249h9v3h-9zM549 249h12v3h-12zM327 252h12v3h-12zM552 252h12v3h-12zM321 255h12v3h-12zM555 255h12v3h-12zM318 258h9v3h-9zM558 258h9v3h-9zM312 261h12v3h-12zM561 261h9v3h-9zM309 264h9v3h-9zM561 264h12v3h-12zM306 267h9v3h-9zM564 267h12v3h-12zM300 270h9v3h-9zM567 270h9v3h-9zM297 273h9v3h-9zM570 273h9v3h-9zM294 276h9v3h-9zM570 276h12v3h-12zM291 279h6v3h-6zM573 279h9v3h-9zM285 282h9v3h-9zM576 282h9v3h-9zM282 285h6v3h-6zM576 285h12v3h-12zM276 288h9v3h-9zM579 288h9v3h-9zM270 291h9v3h-9zM582 291h9v3h-9zM267 294h9v3h-9zM582 294h9v3h-9zM258 297h12v3h-12zM585 297h9v3h-9zM243 300h21v3h-21zM585 300h9v3h-9zM243 303h15v3h-15zM588 303h9v3h-9zM243 306h3v3h-3zM588 306h9v3h-9zM591 309h9v3h-9zM591 312h9v3h-9zM591 315h12v3h-12zM594 318h9v3h-9zM594 321h9v3h-9zM597 324h9v3h-9zM597 327h9v3h-9zM597 330h9v3h-9zM600 333h9v3h-9zM600 336h9v3h-9zM600 339h9v3h-9zM603 342h6v3h-6zM603 345h9v3h-9zM603 348h9v3h-9zM606 351h6v3h-6zM606 354h6v3h-6zM606 357h9v3h-9zM609 360h6v3h-6zM609 363h9v3h-9zM612 366h6v3h-6zM615 369h6v3h-6zM615 372h9v3h-9zM618 375h6v3h-6zM621 378h6v3h-6zM621 381h9v3h-9zM624 384h6v3h-6zM627 387h6v3h-6zM627 390h6v3h-6zM630 393h6v3h-6zM630 396h6v3h-6zM630 399h6v3h-6zM630 402h9v3h-9zM630 405h9v3h-9zM627 408h9v3h-9zM627 411h9v3h-9zM624 414h12v3h-12zM618 417h15v3h-15zM615 420h15v3h-15zM612 423h15v3h-15zM612 426h12v3h-12zM609 429h12v3h-12zM609 432h12v3h-12zM609 435h12v3h-12zM612 438h9v3h-9zM612 441h9v3h-9zM615 444h9v3h-9zM615 447h9v3h-9zM618 450h9v3h-9zM618 453h12v3h-12zM621 456h18v3h-18zM624 459h21v3h-21zM624 462h18v3h-18zM627 465h15v3h-15zM627 468h15v3h-15zM627 471h12v3h-12zM624 474h15v3h-15zM621 477h15v3h-15zM615 480h21v3h-21zM612 483h24v3h-24zM609 486h24v3h-24zM606 489h27v3h-27zM606 492h27v3h-27zM606 495h24v3h-24zM609 498h21v3h-21zM609 501h21v3h-21zM609 504h18v3h-18zM612 507h15v3h-15zM612 510h12v3h-12zM615 513h9v3h-9zM615 516h9v3h-9zM618 519h3v3h-3zM618 522h3v3h-3zM390 564h33v3h-33zM381 567h12v3h-12zM420 567h15v3h-15zM513 567h69v3h-69zM378 570h6v3h-6zM438 570h9v3h-9zM483 570h24v3h-24zM576 570h12v3h-12zM372 573h6v3h-6zM453 573h24v3h-24zM582 573h3v3h-3zM369 576h6v3h-6zM366 579h3v3h-3zM363 582h3v3h-3zM360 585h3v3h-3zM357 588h3v3h-3zM354 591h3v3h-3zM351 594h3v3h-3zM348 597h3v3h-3zM348 600h3v3h-3zM345 603h3v3h-3zM342 606h3v3h-3zM342 609h3v3h-3zM339 612h3v3h-3zM339 615h3v3h-3zM336 624h3v3h-3zM339 651h3v3h-3zM342 657h3v3h-3zM345 663h3v3h-3zM348 669h3v3h-3z"/>
<path fill="#ff7b7b" d="M459 171h24v3h-24zM447 174h45v3h-45zM438 177h60v3h-60zM429 180h72v3h-72zM420 183h33v3h-33zM486 183h18v3h-18zM411 186h30v3h-30zM492 186h18v3h-18zM402 189h27v3h-27zM498 189h15v3h-15zM396 192h27v3h-27zM501 192h15v3h-15zM387 195h27v3h-27zM504 195h15v3h-15zM384 198h21v3h-21zM510 198h15v3h-15zM378 201h18v3h-18zM513 201h15v3h-15zM375 204h12v3h-12zM516 204h15v3h-15zM372 207h12v3h-12zM519 207h15v3h-15zM369 210h9v3h-9zM522 210h15v3h-15zM366 213h9v3h-9zM525 213h15v3h-15zM363 216h9v3h-9zM528 216h15v3h-15zM360 219h9v3h-9zM531 219h15v3h-15zM357 222h9v3h-9zM537 222h12v3h-12zM354 225h9v3h-9zM540 225h12v3h-12zM351 228h9v3h-9zM543 228h12v3h-12zM348 231h9v3h-9zM546 231h12v3h-12zM345 234h9v3h-9zM549 234h12v3h-12zM339 237h12v3h-12zM552 237h12v3h-12zM336 240h9v3h-9zM555 240h9v3h-9zM330 243h12v3h-12zM555 243h12v3h-12zM327 246h9v3h-9zM558 246h12v3h-12zM321 249h12v3h-12zM561 249h12v3h-12zM318 252h9v3h-9zM564 252h12v3h-12zM312 255h9v3h-9zM567 255h9v3h-9zM309 258h9v3h-9zM567 258h12v3h-12zM303 261h9v3h-9zM570 261h12v3h-12zM300 264h9v3h-9zM573 264h9v3h-9zM297 267h9v3h-9zM576 267h9v3h-9zM294 270h6v3h-6zM576 270h12v3h-12zM291 273h6v3h-6zM579 273h9v3h-9zM285 276h9v3h-9zM582 276h9v3h-9zM282 279h9v3h-9zM582 279h12v3h-12zM276 282h9v3h-9zM585 282h9v3h-9zM273 285h9v3h-9zM588 285h9v3h-9zM267 288h9v3h-9zM588 288h12v3h-12zM261 291h9v3h-9zM591 291h9v3h-9zM246 294h21v3h-21zM591 294h12v3h-12zM243 297h15v3h-15zM594 297h9v3h-9zM594 300h12v3h-12zM597 303h9v3h-9zM597 306h9v3h-9zM600 309h9v3h-9zM600 312h9v3h-9zM603 315h9v3h-9zM603 318h9v3h-9zM603 321h12v3h-12zM606 324h9v3h-9zM606 327h9v3h-9zM606 330h12v3h-12zM609 333h9v3h-9zM609 336h9v3h-9zM609 339h9v3h-9zM609 342h9v3h-9zM612 345h6v3h-6zM612 348h6v3h-6zM612 351h9v3h-9zM612 354h9v3h-9zM615 357h6v3h-6zM615 360h9v3h-9zM618 363h6v3h-6zM618 366h9v3h-9zM621 369h6v3h-6zM624 372h6v3h-6zM624 375h9v3h-9zM627 378h6v3h-6zM630 381h6v3h-6zM630 384h9v3h-9zM633 387h6v3h-6zM633 390h9v3h-9zM636 393h6v3h-6zM636 396h6v3h-6zM636 399h9v3h-9zM639 402h6v3h-6zM639 405h6v3h-6zM636 408h9v3h-9zM636 411h9v3h-9zM636 414h6v3h-6zM633 417h9v3h-9zM630 420h12v3h-12zM627 423h12v3h-12zM624 426h15v3h-15zM621 429h15v3h-15zM621 432h15v3h-15zM621 435h15v3h-15zM621 438h12v3h-12zM621 441h15v3h-15zM624 444h15v3h-15zM624 447h24v3h-24zM627 450h21v3h-21zM630 453h15v3h-15zM639 456h6v3h-6zM393 567h27v3h-27zM384 570h12v3h-12zM414 570h24v3h-24zM507 570h69v3h-69zM378 573h9v3h-9zM438 573h15v3h-15zM477 573h24v3h-24zM570 573h12v3h-12zM375 576h6v3h-6zM462 576h6v3h-6zM576 576h3v3h-3zM369 579h6v3h-6zM366 582h6v3h-6zM363 585h6v3h-6zM360 588h6v3h-6zM357 591h3v3h-3zM354 594h3v3h-3zM351 597h3v3h-3zM351 600h3v3h-3zM348 603h3v3h-3zM345 606h3v3h-3zM342 612h3v3h-3zM339 618h3v3h-3zM339 621h3v3h-3zM339 624h3v3h-3zM339 627h3v3h-3zM339 630h3v3h-3zM339 633h3v3h-3zM339 636h3v3h-3zM339 639h3v3h-3zM339 642h3v3h-3zM339 645h3v3h-3zM339 648h3v3h-3zM342 654h3v3h-3zM345 660h3v3h-3zM351 672h3v3h-3zM354 675h3v3h-3z"/>
<path fill="#ff7676" d="M462 159h9v3h-9zM450 162h39v3h-39zM444 165h54v3h-54zM438 168h63v3h-63zM429 171h30v3h-30zM483 171h24v3h-24zM420 174h27v3h-27zM492 174h18v3h-18zM414 177h24v3h-24zM498 177h15v3h-15zM405 180h24v3h-24zM501 180h18v3h-18zM396 183h24v3h-24zM504 183h18v3h-18zM390 186h21v3h-21zM510 186h15v3h-15zM384 189h18v3h-18zM513 189h15v3h-15zM378 192h18v3h-18zM516 192h15v3h-15zM375 195h12v3h-12zM519 195h15v3h-15zM372 198h12v3h-12zM525 198h12v3h-12zM369 201h9v3h-9zM528 201h12v3h-12zM366 204h9v3h-9zM531 204h12v3h-12zM363 207h9v3h-9zM534 207h12v3h-12zM360 210h9v3h-9zM537 210h12v3h-12zM357 213h9v3h-9zM540 213h12v3h-12zM354 216h9v3h-9zM543 216h12v3h-12zM351 219h9v3h-9zM546 219h12v3h-12zM348 222h9v3h-9zM549 222h12v3h-12zM345 225h9v3h-9zM552 225h12v3h-12zM342 228h9v3h-9zM555 228h12v3h-12zM339 231h9v3h-9zM558 231h12v3h-12zM333 234h12v3h-12zM561 234h12v3h-12zM330 237h9v3h-9zM564 237h12v3h-12zM324 240h12v3h-12zM564 240h12v3h-12zM321 243h9v3h-9zM567 243h12v3h-12zM315 246h12v3h-12zM570 246h12v3h-12zM312 249h9v3h-9zM573 249h9v3h-9zM306 252h12v3h-12zM576 252h9v3h-9zM303 255h9v3h-9zM576 255h12v3h-12zM300 258h9v3h-9zM579 258h9v3h-9zM297 261h6v3h-6zM582 261h9v3h-9zM294 264h6v3h-6zM582 264h12v3h-12zM288 267h9v3h-9zM585 267h9v3h-9zM285 270h9v3h-9zM588 270h9v3h-9zM282 273h9v3h-9zM588 273h12v3h-12zM279 276h6v3h-6zM591 276h9v3h-9zM273 279h9v3h-9zM594 279h9v3h-9zM267 282h9v3h-9zM594 282h12v3h-12zM261 285h12v3h-12zM597 285h9v3h-9zM249 288h18v3h-18zM600 288h9v3h-9zM246 291h15v3h-15zM600 291h9v3h-9zM603 294h9v3h-9zM603 297h9v3h-9zM606 300h9v3h-9zM606 303h9v3h-9zM606 306h12v3h-12zM609 309h9v3h-9zM609 312h12v3h-12zM612 315h9v3h-9zM612 318h9v3h-9zM615 321h9v3h-9zM615 324h9v3h-9zM615 327h9v3h-9zM618 330h9v3h-9zM618 333h9v3h-9zM618 336h9v3h-9zM618 339h9v3h-9zM618 342h9v3h-9zM618 345h9v3h-9zM618 348h9v3h-9zM621 351h6v3h-6zM621 354h6v3h-6zM621 357h9v3h-9zM624 360h6v3h-6zM624 363h6v3h-6zM627 366h6v3h-6zM627 369h9v3h-9zM630 372h6v3h-6zM633 375h6v3h-6zM633 378h6v3h-6zM636 381h6v3h-6zM639 384h6v3h-6zM639 387h6v3h-6zM642 390h6v3h-6zM642 393h6v3h-6zM642 396h6v3h-6zM645 399h6v3h-6zM645 402h6v3h-6zM645 405h6v3h-6zM645 408h6v3h-6zM645 411h6v3h-6zM642 414h9v3h-9zM642 417h12v3h-12zM642 420h12v3h-12zM639 423h15v3h-15zM639 426h15v3h-15zM636 429h18v3h-18zM636 432h18v3h-18zM636 435h18v3h-18zM633 438h18v3h-18zM636 441h15v3h-15zM639 444h9v3h-9zM396 570h18v3h-18zM387 573h51v3h-51zM501 573h69v3h-69zM381 576h9v3h-9zM441 576h21v3h-21zM468 576h24v3h-24zM564 576h12v3h-12zM375 579h9v3h-9zM570 579h3v3h-3zM372 582h6v3h-6zM369 585h6v3h-6zM366 588h3v3h-3zM360 591h6v3h-6zM357 594h6v3h-6zM354 597h6v3h-6zM354 600h3v3h-3zM351 603h3v3h-3zM348 606h3v3h-3zM345 609h3v3h-3zM345 612h3v3h-3zM342 615h3v3h-3zM342 618h3v3h-3zM348 666h3v3h-3zM357 678h3v3h-3z"/>
<path fill="#ff7171" d="M459 150h18v3h-18zM450 153h42v3h-42zM444 156h57v3h-57zM438 159h24v3h-24zM471 159h36v3h-36zM429 162h21v3h-21zM489 162h21v3h-21zM423 165h21v3h-21zM498 165h18v3h-18zM414 168h24v3h-24zM501 168h18v3h-18zM405 171h24v3h-24zM507 171h15v3h-15zM396 174h24v3h-24zM510 174h18v3h-18zM390 177h24v3h-24zM513 177h18v3h-18zM384 180h21v3h-21zM519 180h15v3h-15zM381 183h15v3h-15zM522 183h15v3h-15zM375 186h15v3h-15zM525 186h15v3h-15zM372 189h12v3h-12zM528 189h15v3h-15zM369 192h9v3h-9zM531 192h15v3h-15zM366 195h9v3h-9zM534 195h15v3h-15zM363 198h9v3h-9zM537 198h15v3h-15zM360 201h9v3h-9zM540 201h15v3h-15zM357 204h9v3h-9zM543 204h15v3h-15zM354 207h9v3h-9zM546 207h15v3h-15zM351 210h9v3h-9zM549 210h15v3h-15zM348 213h9v3h-9zM552 213h15v3h-15zM345 216h9v3h-9zM555 216h15v3h-15zM342 219h9v3h-9zM558 219h15v3h-15zM339 222h9v3h-9zM561 222h12v3h-12zM336 225h9v3h-9zM564 225h12v3h-12zM333 228h9v3h-9zM567 228h12v3h-12zM327 231h12v3h-12zM570 231h12v3h-12zM324 234h9v3h-9zM573 234h12v3h-12zM318 237h12v3h-12zM576 237h12v3h-12zM315 240h9v3h-9zM576 240h12v3h-12zM309 243h12v3h-12zM579 243h12v3h-12zM306 246h9v3h-9zM582 246h12v3h-12zM303 249h9v3h-9zM582 249h12v3h-12zM297 252h9v3h-9zM585 252h12v3h-12zM294 255h9v3h-9zM588 255h9v3h-9zM291 258h9v3h-9zM588 258h12v3h-12zM288 261h9v3h-9zM591 261h12v3h-12zM285 264h9v3h-9zM594 264h9v3h-9zM282 267h6v3h-6zM594 267h12v3h-12zM276 270h9v3h-9zM597 270h9v3h-9zM273 273h9v3h-9zM600 273h9v3h-9zM267 276h12v3h-12zM600 276h12v3h-12zM252 279h21v3h-21zM603 279h9v3h-9zM249 282h18v3h-18zM606 282h9v3h-9zM249 285h12v3h-12zM606 285h9v3h-9zM609 288h9v3h-9zM609 291h9v3h-9zM612 294h9v3h-9zM612 297h9v3h-9zM615 300h9v3h-9zM615 303h9v3h-9zM618 306h9v3h-9zM618 309h9v3h-9zM621 312h9v3h-9zM621 315h9v3h-9zM621 318h12v3h-12zM624 321h9v3h-9zM624 324h9v3h-9zM624 327h9v3h-9zM627 330h6v3h-6zM627 333h6v3h-6zM627 336h6v3h-6zM627 339h6v3h-6zM627 342h6v3h-6zM627 345h6v3h-6zM627 348h6v3h-6zM627 351h6v3h-6zM627 354h6v3h-6zM630 357h6v3h-6zM630 360h6v3h-6zM630 363h9v3h-9zM633 366h6v3h-6zM636 369h6v3h-6zM636 372h9v3h-9zM639 375h6v3h-6zM639 378h9v3h-9zM642 381h6v3h-6zM645 384h6v3h-6zM645 387h6v3h-6zM648 390h6v3h-6zM648 393h9v3h-9zM648 396h9v3h-9zM651 399h9v3h-9zM651 402h9v3h-9zM651 405h9v3h-9zM651 408h9v3h-9zM651 411h9v3h-9zM651 414h6v3h-6zM654 417h3v3h-3zM654 420h3v3h-3zM654 423h3v3h-3zM390 576h51v3h-51zM492 576h72v3h-72zM384 579h15v3h-15zM447 579h36v3h-36zM561 579h9v3h-9zM378 582h9v3h-9zM564 582h6v3h-6zM375 585h6v3h-6zM369 588h9v3h-9zM366 591h6v3h-6zM363 594h6v3h-6zM360 597h6v3h-6zM357 600h3v3h-3zM354 603h3v3h-3zM351 606h3v3h-3zM348 609h3v3h-3zM348 612h3v3h-3zM345 615h3v3h-3zM345 618h3v3h-3zM342 621h3v3h-3zM342 624h3v3h-3zM342 627h3v3h-3zM342 630h3v3h-3zM342 648h3v3h-3zM342 651h3v3h-3zM345 657h3v3h-3zM348 663h3v3h-3zM351 669h3v3h-3zM354 672h3v3h-3zM357 675h3v3h-3z"/>
<path fill="#ff6b6b" d="M453 144h39v3h-39zM444 147h57v3h-57zM438 150h21v3h-21zM477 150h33v3h-33zM429 153h21v3h-21zM492 153h21v3h-21zM423 156h21v3h-21zM501 156h18v3h-18zM414 159h24v3h-24zM507 159h18v3h-18zM405 162h24v3h-24zM510 162h18v3h-18zM396 165h27v3h-27zM516 165h15v3h-15zM390 168h24v3h-24zM519 168h18v3h-18zM384 171h21v3h-21zM522 171h18v3h-18zM381 174h15v3h-15zM528 174h15v3h-15zM375 177h15v3h-15zM531 177h15v3h-15zM372 180h12v3h-12zM534 180h15v3h-15zM369 183h12v3h-12zM537 183h15v3h-15zM366 186h9v3h-9zM540 186h15v3h-15zM363 189h9v3h-9zM543 189h15v3h-15zM360 192h9v3h-9zM546 192h15v3h-15zM357 195h9v3h-9zM549 195h12v3h-12zM354 198h9v3h-9zM552 198h12v3h-12zM351 201h9v3h-9zM555 201h12v3h-12zM348 204h9v3h-9zM558 204h12v3h-12zM345 207h9v3h-9zM561 207h12v3h-12zM342 210h9v3h-9zM564 210h12v3h-12zM339 213h9v3h-9zM567 213h12v3h-12zM336 216h9v3h-9zM570 216h12v3h-12zM333 219h9v3h-9zM573 219h12v3h-12zM330 222h9v3h-9zM573 222h15v3h-15zM327 225h9v3h-9zM576 225h15v3h-15zM321 228h12v3h-12zM579 228h12v3h-12zM318 231h9v3h-9zM582 231h12v3h-12zM312 234h12v3h-12zM585 234h12v3h-12zM309 237h9v3h-9zM588 237h12v3h-12zM303 240h12v3h-12zM588 240h12v3h-12zM300 243h9v3h-9zM591 243h12v3h-12zM297 246h9v3h-9zM594 246h9v3h-9zM294 249h9v3h-9zM594 249h12v3h-12zM288 252h9v3h-9zM597 252h12v3h-12zM285 255h9v3h-9zM597 255h12v3h-12zM282 258h9v3h-9zM600 258h12v3h-12zM279 261h9v3h-9zM603 261h9v3h-9zM276 264h9v3h-9zM603 264h12v3h-12zM270 267h12v3h-12zM606 267h12v3h-12zM264 270h12v3h-12zM606 270h12v3h-12zM255 273h18v3h-18zM609 273h12v3h-12zM252 276h15v3h-15zM612 276h9v3h-9zM612 279h12v3h-12zM615 282h9v3h-9zM615 285h12v3h-12zM618 288h9v3h-9zM618 291h12v3h-12zM621 294h9v3h-9zM621 297h12v3h-12zM624 300h9v3h-9zM624 303h12v3h-12zM627 306h9v3h-9zM627 309h9v3h-9zM630 312h9v3h-9zM630 315h9v3h-9zM633 318h6v3h-6zM633 321h9v3h-9zM633 324h9v3h-9zM633 327h9v3h-9zM633 330h9v3h-9zM633 333h9v3h-9zM633 336h9v3h-9zM633 339h9v3h-9zM633 342h9v3h-9zM633 345h9v3h-9zM633 348h9v3h-9zM633 351h9v3h-9zM633 354h9v3h-9zM636 357h6v3h-6zM636 360h9v3h-9zM639 363h6v3h-6zM639 366h9v3h-9zM642 369h6v3h-6zM645 372h6v3h-6zM645 375h9v3h-9zM648 378h9v3h-9zM648 381h9v3h-9zM651 384h12v3h-12zM651 387h15v3h-15zM654 390h9v3h-9zM657 393h6v3h-6zM657 396h6v3h-6zM660 399h3v3h-3zM399 579h48v3h-48zM483 579h78v3h-78zM387 582h30v3h-30zM453 582h24v3h-24zM555 582h9v3h-9zM381 585h21v3h-21zM561 585h3v3h-3zM378 588h9v3h-9zM372 591h9v3h-9zM369 594h6v3h-6zM366 597h6v3h-6zM360 600h6v3h-6zM357 603h6v3h-6zM354 606h6v3h-6zM351 609h6v3h-6zM351 612h3v3h-3zM348 615h3v3h-3zM348 618h3v3h-3zM345 621h3v3h-3zM345 624h3v3h-3zM342 633h3v3h-3zM342 636h3v3h-3zM342 639h3v3h-3zM342 642h3v3h-3zM342 645h3v3h-3zM345 654h3v3h-3zM348 660h3v3h-3zM360 678h3v3h-3z"/>
<path fill="#ff6666" d="M456 135h39v3h-39zM444 138h60v3h-60zM435 141h75v3h-75zM429 144h24v3h-24zM492 144h24v3h-24zM420 147h24v3h-24zM501 147h24v3h-24zM411 150h27v3h-27zM510 150h18v3h-18zM402 153h27v3h-27zM513 153h21v3h-21zM396 156h27v3h-27zM519 156h18v3h-18zM390 159h24v3h-24zM525 159h15v3h-15zM387 162h18v3h-18zM528 162h15v3h-15zM381 165h15v3h-15zM531 165h15v3h-15zM378 168h12v3h-12zM537 168h12v3h-12zM372 171h12v3h-12zM540 171h12v3h-12zM369 174h12v3h-12zM543 174h12v3h-12zM366 177h9v3h-9zM546 177h12v3h-12zM363 180h9v3h-9zM549 180h12v3h-12zM360 183h9v3h-9zM552 183h12v3h-12zM357 186h9v3h-9zM555 186h12v3h-12zM354 189h9v3h-9zM558 189h12v3h-12zM351 192h9v3h-9zM561 192h12v3h-12zM348 195h9v3h-9zM561 195h15v3h-15zM345 198h9v3h-9zM564 198h15v3h-15zM342 201h9v3h-9zM567 201h15v3h-15zM339 204h9v3h-9zM570 204h15v3h-15zM336 207h9v3h-9zM573 207h15v3h-15zM333 210h9v3h-9zM576 210h15v3h-15zM330 213h9v3h-9zM579 213h15v3h-15zM327 216h9v3h-9zM582 216h12v3h-12zM324 219h9v3h-9zM585 219h12v3h-12zM318 222h12v3h-12zM588 222h12v3h-12zM315 225h12v3h-12zM591 225h12v3h-12zM312 228h9v3h-9zM591 228h12v3h-12zM306 231h12v3h-12zM594 231h12v3h-12zM303 234h9v3h-9zM597 234h12v3h-12zM297 237h12v3h-12zM600 237h12v3h-12zM294 240h9v3h-9zM600 240h12v3h-12zM291 243h9v3h-9zM603 243h12v3h-12zM288 246h9v3h-9zM603 246h12v3h-12zM282 249h12v3h-12zM606 249h12v3h-12zM279 252h9v3h-9zM609 252h12v3h-12zM276 255h9v3h-9zM609 255h12v3h-12zM270 258h12v3h-12zM612 258h12v3h-12zM258 261h21v3h-21zM612 261h12v3h-12zM258 264h18v3h-18zM615 264h12v3h-12zM255 267h15v3h-15zM618 267h9v3h-9zM255 270h9v3h-9zM618 270h12v3h-12zM621 273h9v3h-9zM621 276h12v3h-12zM624 279h9v3h-9zM624 282h12v3h-12zM627 285h9v3h-9zM627 288h12v3h-12zM630 291h9v3h-9zM630 294h12v3h-12zM633 297h9v3h-9zM633 300h9v3h-9zM636 303h9v3h-9zM636 306h9v3h-9zM636 309h12v3h-12zM639 312h9v3h-9zM639 315h9v3h-9zM639 318h9v3h-9zM642 321h9v3h-9zM642 324h9v3h-9zM642 327h9v3h-9zM642 330h9v3h-9zM642 333h6v3h-6zM642 336h6v3h-6zM642 339h6v3h-6zM642 342h6v3h-6zM642 345h6v3h-6zM642 348h6v3h-6zM642 351h6v3h-6zM642 354h9v3h-9zM642 357h9v3h-9zM645 360h9v3h-9zM645 363h9v3h-9zM648 366h9v3h-9zM648 369h15v3h-15zM651 372h18v3h-18zM654 375h15v3h-15zM657 378h9v3h-9zM657 381h9v3h-9zM663 384h3v3h-3zM417 582h36v3h-36zM477 582h15v3h-15zM516 582h39v3h-39zM402 585h18v3h-18zM546 585h15v3h-15zM387 588h27v3h-27zM555 588h3v3h-3zM381 591h27v3h-27zM375 594h27v3h-27zM372 597h15v3h-15zM366 600h12v3h-12zM363 603h9v3h-9zM360 606h9v3h-9zM357 609h6v3h-6zM354 612h6v3h-6zM351 615h6v3h-6zM351 618h3v3h-3zM348 621h3v3h-3zM348 624h3v3h-3zM345 627h3v3h-3zM345 630h3v3h-3zM345 633h3v3h-3zM345 636h3v3h-3zM345 648h3v3h-3zM345 651h3v3h-3zM348 657h3v3h-3zM351 666h3v3h-3zM354 669h3v3h-3zM357 672h3v3h-3zM360 675h3v3h-3z"/>
<path fill="#ff6161" d="M444 126h54v3h-54zM435 129h72v3h-72zM429 132h87v3h-87zM420 135h36v3h-36zM495 135h30v3h-30zM414 138h30v3h-30zM504 138h30v3h-30zM405 141h30v3h-30zM510 141h30v3h-30zM399 144h30v3h-30zM516 144h30v3h-30zM396 147h24v3h-24zM525 147h24v3h-24zM390 150h21v3h-21zM528 150h24v3h-24zM387 153h15v3h-15zM534 153h21v3h-21zM381 156h15v3h-15zM537 156h21v3h-21zM378 159h12v3h-12zM540 159h18v3h-18zM375 162h12v3h-12zM543 162h18v3h-18zM369 165h12v3h-12zM546 165h18v3h-18zM366 168h12v3h-12zM549 168h18v3h-18zM363 171h9v3h-9zM552 171h18v3h-18zM360 174h9v3h-9zM555 174h18v3h-18zM357 177h9v3h-9zM558 177h18v3h-18zM354 180h9v3h-9zM561 180h15v3h-15zM351 183h9v3h-9zM564 183h15v3h-15zM348 186h9v3h-9zM567 186h15v3h-15zM345 189h9v3h-9zM570 189h15v3h-15zM342 192h9v3h-9zM573 192h15v3h-15zM339 195h9v3h-9zM576 195h15v3h-15zM336 198h9v3h-9zM579 198h15v3h-15zM333 201h9v3h-9zM582 201h15v3h-15zM330 204h9v3h-9zM585 204h15v3h-15zM327 207h9v3h-9zM588 207h12v3h-12zM324 210h9v3h-9zM591 210h12v3h-12zM321 213h9v3h-9zM594 213h12v3h-12zM318 216h9v3h-9zM594 216h15v3h-15zM312 219h12v3h-12zM597 219h12v3h-12zM309 222h9v3h-9zM600 222h12v3h-12zM306 225h9v3h-9zM603 225h12v3h-12zM300 228h12v3h-12zM603 228h12v3h-12zM297 231h9v3h-9zM606 231h12v3h-12zM291 234h12v3h-12zM609 234h12v3h-12zM288 237h9v3h-9zM612 237h12v3h-12zM282 240h12v3h-12zM612 240h12v3h-12zM279 243h12v3h-12zM615 243h12v3h-12zM273 246h15v3h-15zM615 246h12v3h-12zM264 249h18v3h-18zM618 249h12v3h-12zM261 252h18v3h-18zM621 252h12v3h-12zM261 255h15v3h-15zM621 255h12v3h-12zM258 258h12v3h-12zM624 258h12v3h-12zM624 261h12v3h-12zM627 264h12v3h-12zM627 267h12v3h-12zM630 270h12v3h-12zM630 273h12v3h-12zM633 276h12v3h-12zM633 279h12v3h-12zM636 282h12v3h-12zM636 285h12v3h-12zM639 288h12v3h-12zM639 291h12v3h-12zM642 294h9v3h-9zM642 297h12v3h-12zM642 300h12v3h-12zM645 303h9v3h-9zM645 306h12v3h-12zM648 309h9v3h-9zM648 312h9v3h-9zM648 315h9v3h-9zM648 318h12v3h-12zM651 321h9v3h-9zM651 324h9v3h-9zM651 327h9v3h-9zM651 330h9v3h-9zM648 333h12v3h-12zM648 336h12v3h-12zM648 339h9v3h-9zM648 342h12v3h-12zM648 345h12v3h-12zM648 348h12v3h-12zM648 351h15v3h-15zM651 354h15v3h-15zM651 357h21v3h-21zM654 360h18v3h-18zM654 363h18v3h-18zM657 366h12v3h-12zM663 369h6v3h-6zM492 582h24v3h-24zM420 585h63v3h-63zM522 585h24v3h-24zM414 588h9v3h-9zM543 588h12v3h-12zM408 591h9v3h-9zM549 591h6v3h-6zM402 594h12v3h-12zM387 597h24v3h-24zM378 600h30v3h-30zM372 603h30v3h-30zM369 606h30v3h-30zM363 609h27v3h-27zM360 612h15v3h-15zM357 615h6v3h-6zM354 618h6v3h-6zM351 621h3v3h-3zM351 624h3v3h-3zM348 627h3v3h-3zM348 630h3v3h-3zM345 639h3v3h-3zM345 642h3v3h-3zM345 645h3v3h-3zM348 654h3v3h-3zM351 663h3v3h-3z"/>
<path fill="#ff5b5b" d="M453 111h3v3h-3zM438 114h69v3h-69zM429 117h84v3h-84zM423 120h93v3h-93zM417 123h105v3h-105zM411 126h33v3h-33zM498 126h27v3h-27zM408 129h27v3h-27zM507 129h24v3h-24zM402 132h27v3h-27zM516 132h18v3h-18zM399 135h21v3h-21zM525 135h15v3h-15zM393 138h21v3h-21zM534 138h9v3h-9zM390 141h15v3h-15zM540 141h9v3h-9zM384 144h15v3h-15zM546 144h6v3h-6zM381 147h15v3h-15zM549 147h6v3h-6zM378 150h12v3h-12zM552 150h6v3h-6zM375 153h12v3h-12zM555 153h9v3h-9zM369 156h12v3h-12zM558 156h9v3h-9zM366 159h12v3h-12zM558 159h12v3h-12zM363 162h12v3h-12zM561 162h12v3h-12zM360 165h9v3h-9zM564 165h15v3h-15zM357 168h9v3h-9zM567 168h15v3h-15zM354 171h9v3h-9zM570 171h15v3h-15zM351 174h9v3h-9zM573 174h15v3h-15zM348 177h9v3h-9zM576 177h18v3h-18zM345 180h9v3h-9zM576 180h21v3h-21zM342 183h9v3h-9zM579 183h21v3h-21zM339 186h9v3h-9zM582 186h21v3h-21zM336 189h9v3h-9zM585 189h21v3h-21zM333 192h9v3h-9zM588 192h21v3h-21zM330 195h9v3h-9zM591 195h21v3h-21zM327 198h9v3h-9zM594 198h18v3h-18zM324 201h9v3h-9zM597 201h18v3h-18zM321 204h9v3h-9zM600 204h15v3h-15zM318 207h9v3h-9zM600 207h18v3h-18zM315 210h9v3h-9zM603 210h15v3h-15zM312 213h9v3h-9zM606 213h15v3h-15zM309 216h9v3h-9zM609 216h12v3h-12zM303 219h9v3h-9zM609 219h15v3h-15zM300 222h9v3h-9zM612 222h15v3h-15zM294 225h12v3h-12zM615 225h12v3h-12zM288 228h12v3h-12zM615 228h15v3h-15zM282 231h15v3h-15zM618 231h15v3h-15zM276 234h15v3h-15zM621 234h12v3h-12zM267 237h21v3h-21zM624 237h12v3h-12zM267 240h15v3h-15zM624 240h12v3h-12zM264 243h15v3h-15zM627 243h12v3h-12zM264 246h9v3h-9zM627 246h12v3h-12zM630 249h12v3h-12zM633 252h12v3h-12zM633 255h12v3h-12zM636 258h12v3h-12zM636 261h12v3h-12zM639 264h12v3h-12zM639 267h12v3h-12zM642 270h12v3h-12zM642 273h12v3h-12zM645 276h12v3h-12zM645 279h12v3h-12zM648 282h12v3h-12zM648 285h12v3h-12zM651 288h9v3h-9zM651 291h12v3h-12zM651 294h12v3h-12zM654 297h12v3h-12zM654 300h12v3h-12zM654 303h12v3h-12zM657 306h9v3h-9zM657 309h12v3h-12zM657 312h12v3h-12zM657 315h12v3h-12zM660 318h9v3h-9zM660 321h9v3h-9zM660 324h12v3h-12zM660 327h12v3h-12zM660 330h12v3h-12zM660 333h12v3h-12zM660 336h15v3h-15zM657 339h21v3h-21zM660 342h15v3h-15zM660 345h15v3h-15zM660 348h15v3h-15zM663 351h12v3h-12zM666 354h6v3h-6zM483 585h39v3h-39zM423 588h48v3h-48zM525 588h18v3h-18zM417 591h9v3h-9zM540 591h9v3h-9zM414 594h6v3h-6zM546 594h3v3h-3zM411 597h6v3h-6zM408 600h6v3h-6zM402 603h9v3h-9zM399 606h9v3h-9zM390 609h12v3h-12zM375 612h24v3h-24zM363 615h30v3h-30zM360 618h24v3h-24zM354 621h9v3h-9zM354 624h3v3h-3zM351 627h3v3h-3zM351 630h3v3h-3zM348 633h3v3h-3zM348 636h3v3h-3zM348 639h3v3h-3zM348 642h3v3h-3zM348 645h3v3h-3zM348 648h3v3h-3zM348 651h3v3h-3zM351 657h3v3h-3zM351 660h3v3h-3zM354 666h3v3h-3zM357 669h3v3h-3zM360 672h3v3h-3zM363 675h3v3h-3z"/>
<path fill="#ff5656" d="M468 93h3v3h-3zM456 96h21v3h-21zM444 99h39v3h-39zM435 102h54v3h-54zM429 105h66v3h-66zM423 108h75v3h-75zM417 111h36v3h-36zM456 111h48v3h-48zM411 114h27v3h-27zM408 117h21v3h-21zM402 120h21v3h-21zM399 123h18v3h-18zM396 126h15v3h-15zM393 129h15v3h-15zM387 132h15v3h-15zM384 135h15v3h-15zM381 138h12v3h-12zM378 141h12v3h-12zM372 144h12v3h-12zM369 147h12v3h-12zM366 150h12v3h-12zM363 153h12v3h-12zM360 156h9v3h-9zM357 159h9v3h-9zM354 162h9v3h-9zM348 165h12v3h-12zM345 168h12v3h-12zM342 171h12v3h-12zM339 174h12v3h-12zM336 177h12v3h-12zM333 180h12v3h-12zM330 183h12v3h-12zM327 186h12v3h-12zM324 189h12v3h-12zM324 192h9v3h-9zM321 195h9v3h-9zM318 198h9v3h-9zM612 198h3v3h-3zM315 201h9v3h-9zM615 201h3v3h-3zM312 204h9v3h-9zM615 204h6v3h-6zM309 207h9v3h-9zM618 207h6v3h-6zM306 210h9v3h-9zM618 210h9v3h-9zM300 213h12v3h-12zM621 213h9v3h-9zM297 216h12v3h-12zM621 216h12v3h-12zM291 219h12v3h-12zM624 219h12v3h-12zM282 222h18v3h-18zM627 222h12v3h-12zM273 225h21v3h-21zM627 225h12v3h-12zM270 228h18v3h-18zM630 228h12v3h-12zM270 231h12v3h-12zM633 231h12v3h-12zM270 234h6v3h-6zM633 234h15v3h-15zM636 237h15v3h-15zM636 240h18v3h-18zM639 243h15v3h-15zM639 246h15v3h-15zM642 249h15v3h-15zM645 252h12v3h-12zM645 255h15v3h-15zM648 258h12v3h-12zM648 261h15v3h-15zM651 264h12v3h-12zM651 267h15v3h-15zM654 270h12v3h-12zM654 273h15v3h-15zM657 276h12v3h-12zM657 279h12v3h-12zM660 282h12v3h-12zM660 285h12v3h-12zM660 288h15v3h-15zM663 291h12v3h-12zM663 294h15v3h-15zM666 297h12v3h-12zM666 300h12v3h-12zM666 303h15v3h-15zM666 306h15v3h-15zM669 309h15v3h-15zM669 312h15v3h-15zM669 315h15v3h-15zM669 318h12v3h-12zM669 321h12v3h-12zM672 324h9v3h-9zM672 327h9v3h-9zM672 330h6v3h-6zM672 333h6v3h-6zM675 336h3v3h-3zM471 588h18v3h-18zM510 588h15v3h-15zM426 591h12v3h-12zM528 591h12v3h-12zM420 594h9v3h-9zM537 594h9v3h-9zM417 597h6v3h-6zM414 600h6v3h-6zM411 603h6v3h-6zM408 606h6v3h-6zM402 609h9v3h-9zM399 612h6v3h-6zM393 615h9v3h-9zM384 618h12v3h-12zM363 621h24v3h-24zM357 624h12v3h-12zM354 627h6v3h-6zM354 630h3v3h-3zM351 633h3v3h-3zM351 636h3v3h-3zM351 639h3v3h-3zM351 651h3v3h-3zM351 654h3v3h-3zM354 663h3v3h-3z"/>
<path fill="#ff5151" d="M447 81h3v3h-3zM444 84h12v3h-12zM438 87h24v3h-24zM432 90h36v3h-36zM426 93h42v3h-42zM420 96h36v3h-36zM417 99h27v3h-27zM411 102h24v3h-24zM408 105h21v3h-21zM405 108h18v3h-18zM399 111h18v3h-18zM396 114h15v3h-15zM393 117h15v3h-15zM390 120h12v3h-12zM387 123h12v3h-12zM384 126h12v3h-12zM381 129h12v3h-12zM375 132h12v3h-12zM372 135h12v3h-12zM369 138h12v3h-12zM366 141h12v3h-12zM363 144h9v3h-9zM357 147h12v3h-12zM354 150h12v3h-12zM351 153h12v3h-12zM348 156h12v3h-12zM345 159h12v3h-12zM342 162h12v3h-12zM339 165h9v3h-9zM336 168h9v3h-9zM333 171h9v3h-9zM330 174h9v3h-9zM327 177h9v3h-9zM324 180h9v3h-9zM321 183h9v3h-9zM318 186h9v3h-9zM315 189h9v3h-9zM312 192h12v3h-12zM309 195h12v3h-12zM309 198h9v3h-9zM306 201h9v3h-9zM300 204h12v3h-12zM297 207h12v3h-12zM291 210h15v3h-15zM276 213h24v3h-24zM276 216h21v3h-21zM276 219h15v3h-15zM273 222h9v3h-9zM654 243h3v3h-3zM654 246h6v3h-6zM657 249h6v3h-6zM657 252h9v3h-9zM660 255h9v3h-9zM660 258h9v3h-9zM663 261h9v3h-9zM663 264h12v3h-12zM666 267h12v3h-12zM666 270h15v3h-15zM669 273h15v3h-15zM669 276h18v3h-18zM669 279h21v3h-21zM672 282h18v3h-18zM672 285h18v3h-18zM675 288h15v3h-15zM675 291h15v3h-15zM678 294h9v3h-9zM678 297h9v3h-9zM678 300h9v3h-9zM681 303h6v3h-6zM681 306h3v3h-3zM489 588h21v3h-21zM438 591h42v3h-42zM516 591h12v3h-12zM429 594h9v3h-9zM528 594h9v3h-9zM423 597h6v3h-6zM537 597h6v3h-6zM420 600h6v3h-6zM417 603h6v3h-6zM414 606h6v3h-6zM411 609h6v3h-6zM405 612h6v3h-6zM402 615h6v3h-6zM396 618h6v3h-6zM387 621h9v3h-9zM369 624h21v3h-21zM360 627h21v3h-21zM357 630h6v3h-6zM354 633h6v3h-6zM354 636h3v3h-3zM354 639h3v3h-3zM351 642h3v3h-3zM351 645h3v3h-3zM351 648h3v3h-3zM354 654h3v3h-3zM354 657h3v3h-3zM354 660h3v3h-3zM357 663h3v3h-3zM357 666h3v3h-3zM360 669h3v3h-3zM363 672h3v3h-3zM366 675h3v3h-3z"/>
<path fill="#ff4b4b" d="M429 75h6v3h-6zM426 78h15v3h-15zM423 81h24v3h-24zM420 84h24v3h-24zM417 87h21v3h-21zM411 90h21v3h-21zM408 93h18v3h-18zM405 96h15v3h-15zM399 99h18v3h-18zM396 102h15v3h-15zM393 105h15v3h-15zM390 108h15v3h-15zM387 111h12v3h-12zM384 114h12v3h-12zM381 117h12v3h-12zM378 120h12v3h-12zM375 123h12v3h-12zM372 126h12v3h-12zM366 129h15v3h-15zM363 132h12v3h-12zM360 135h12v3h-12zM357 138h12v3h-12zM354 141h12v3h-12zM348 144h15v3h-15zM345 147h12v3h-12zM342 150h12v3h-12zM339 153h12v3h-12zM336 156h12v3h-12zM333 159h12v3h-12zM330 162h12v3h-12zM327 165h12v3h-12zM324 168h12v3h-12zM321 171h12v3h-12zM318 174h12v3h-12zM315 177h12v3h-12zM312 180h12v3h-12zM309 183h12v3h-12zM306 186h12v3h-12zM303 189h12v3h-12zM300 192h12v3h-12zM297 195h12v3h-12zM282 198h27v3h-27zM282 201h24v3h-24zM279 204h21v3h-21zM279 207h18v3h-18zM279 210h12v3h-12zM480 591h36v3h-36zM438 594h27v3h-27zM519 594h9v3h-9zM429 597h9v3h-9zM528 597h9v3h-9zM426 600h6v3h-6zM534 600h6v3h-6zM423 603h3v3h-3zM420 606h3v3h-3zM417 609h3v3h-3zM411 612h6v3h-6zM408 615h6v3h-6zM402 618h6v3h-6zM396 621h9v3h-9zM390 624h9v3h-9zM381 627h12v3h-12zM363 630h21v3h-21zM360 633h6v3h-6zM357 636h6v3h-6zM357 639h3v3h-3zM354 642h6v3h-6zM354 645h3v3h-3zM354 648h3v3h-3zM354 651h3v3h-3zM357 654h3v3h-3zM357 657h3v3h-3zM357 660h3v3h-3zM360 666h3v3h-3zM363 669h3v3h-3zM366 672h3v3h-3z"/>
<path fill="#ff4646" d="M417 69h3v3h-3zM417 72h12v3h-12zM414 75h15v3h-15zM411 78h15v3h-15zM408 81h15v3h-15zM402 84h18v3h-18zM399 87h18v3h-18zM396 90h15v3h-15zM393 93h15v3h-15zM390 96h15v3h-15zM387 99h12v3h-12zM384 102h12v3h-12zM381 105h12v3h-12zM378 108h12v3h-12zM375 111h12v3h-12zM372 114h12v3h-12zM369 117h12v3h-12zM366 120h12v3h-12zM360 123h15v3h-15zM357 126h15v3h-15zM354 129h12v3h-12zM351 132h12v3h-12zM345 135h15v3h-15zM342 138h15v3h-15zM339 141h15v3h-15zM336 144h12v3h-12zM333 147h12v3h-12zM330 150h12v3h-12zM327 153h12v3h-12zM324 156h12v3h-12zM321 159h12v3h-12zM318 162h12v3h-12zM315 165h12v3h-12zM312 168h12v3h-12zM309 171h12v3h-12zM306 174h12v3h-12zM300 177h15v3h-15zM294 180h18v3h-18zM288 183h21v3h-21zM288 186h18v3h-18zM285 189h18v3h-18zM285 192h15v3h-15zM285 195h12v3h-12zM465 594h18v3h-18zM507 594h12v3h-12zM438 597h15v3h-15zM519 597h9v3h-9zM432 600h6v3h-6zM528 600h6v3h-6zM426 603h6v3h-6zM423 606h6v3h-6zM420 609h6v3h-6zM417 612h6v3h-6zM414 615h6v3h-6zM408 618h6v3h-6zM405 621h6v3h-6zM399 624h6v3h-6zM393 627h6v3h-6zM384 630h9v3h-9zM366 633h21v3h-21zM363 636h12v3h-12zM360 639h6v3h-6zM360 642h3v3h-3zM357 645h6v3h-6zM357 648h6v3h-6zM357 651h6v3h-6zM360 654h3v3h-3zM360 657h3v3h-3zM360 660h3v3h-3zM360 663h3v3h-3zM363 666h3v3h-3zM366 669h3v3h-3zM369 672h3v3h-3z"/>
<path fill="#ff4040" d="M405 66h3v3h-3zM405 69h12v3h-12zM402 72h15v3h-15zM399 75h15v3h-15zM396 78h15v3h-15zM393 81h15v3h-15zM390 84h12v3h-12zM387 87h12v3h-12zM384 90h12v3h-12zM381 93h12v3h-12zM378 96h12v3h-12zM375 99h12v3h-12zM372 102h12v3h-12zM369 105h12v3h-12zM366 108h12v3h-12zM363 111h12v3h-12zM357 114h15v3h-15zM354 117h15v3h-15zM351 120h15v3h-15zM348 123h12v3h-12zM345 126h12v3h-12zM339 129h15v3h-15zM336 132h15v3h-15zM333 135h12v3h-12zM330 138h12v3h-12zM327 141h12v3h-12zM324 144h12v3h-12zM321 147h12v3h-12zM318 150h12v3h-12zM312 153h15v3h-15zM309 156h15v3h-15zM303 159h18v3h-18zM297 162h21v3h-21zM294 165h21v3h-21zM294 168h18v3h-18zM294 171h15v3h-15zM291 174h15v3h-15zM291 177h9v3h-9zM291 180h3v3h-3zM483 594h24v3h-24zM453 597h21v3h-21zM513 597h6v3h-6zM438 600h9v3h-9zM522 600h6v3h-6zM432 603h6v3h-6zM528 603h6v3h-6zM429 606h3v3h-3zM426 609h3v3h-3zM423 612h3v3h-3zM420 615h3v3h-3zM414 618h6v3h-6zM411 621h6v3h-6zM405 624h9v3h-9zM399 627h9v3h-9zM393 630h9v3h-9zM387 633h9v3h-9zM375 636h15v3h-15zM366 639h18v3h-18zM363 642h15v3h-15zM363 645h9v3h-9zM363 648h6v3h-6zM363 651h6v3h-6zM363 654h3v3h-3zM363 657h3v3h-3zM363 660h3v3h-3zM363 663h6v3h-6zM366 666h3v3h-3zM369 669h3v3h-3z"/>
<path fill="#ff3b3b" d="M393 66h12v3h-12zM390 69h15v3h-15zM390 72h12v3h-12zM387 75h12v3h-12zM384 78h12v3h-12zM381 81h12v3h-12zM378 84h12v3h-12zM375 87h12v3h-12zM372 90h12v3h-12zM369 93h12v3h-12zM366 96h12v3h-12zM363 99h12v3h-12zM360 102h12v3h-12zM357 105h12v3h-12zM351 108h15v3h-15zM348 111h15v3h-15zM345 114h12v3h-12zM342 117h12v3h-12zM336 120h15v3h-15zM333 123h15v3h-15zM330 126h15v3h-15zM327 129h12v3h-12zM324 132h12v3h-12zM321 135h12v3h-12zM315 138h15v3h-15zM309 141h18v3h-18zM303 144h21v3h-21zM303 147h18v3h-18zM300 150h18v3h-18zM300 153h12v3h-12zM300 156h9v3h-9zM297 159h6v3h-6zM474 597h18v3h-18zM498 597h15v3h-15zM447 600h18v3h-18zM513 600h9v3h-9zM438 603h9v3h-9zM522 603h6v3h-6zM432 606h6v3h-6zM525 606h3v3h-3zM429 609h6v3h-6zM426 612h6v3h-6zM423 615h3v3h-3zM420 618h3v3h-3zM417 621h3v3h-3zM414 624h3v3h-3zM408 627h6v3h-6zM402 630h9v3h-9zM396 633h12v3h-12zM390 636h12v3h-12zM384 639h12v3h-12zM378 642h12v3h-12zM372 645h15v3h-15zM369 648h15v3h-15zM369 651h12v3h-12zM366 654h12v3h-12zM366 657h9v3h-9zM366 660h9v3h-9zM369 663h6v3h-6zM369 666h6v3h-6zM372 669h3v3h-3zM372 672h6v3h-6z"/>
<path fill="#ff3636" d="M384 63h12v3h-12zM381 66h12v3h-12zM378 69h12v3h-12zM378 72h12v3h-12zM375 75h12v3h-12zM372 78h12v3h-12zM369 81h12v3h-12zM366 84h12v3h-12zM363 87h12v3h-12zM360 90h12v3h-12zM357 93h12v3h-12zM354 96h12v3h-12zM351 99h12v3h-12zM345 102h15v3h-15zM342 105h15v3h-15zM339 108h12v3h-12zM333 111h15v3h-15zM330 114h15v3h-15zM327 117h15v3h-15zM324 120h12v3h-12zM318 123h15v3h-15zM309 126h21v3h-21zM309 129h18v3h-18zM309 132h15v3h-15zM306 135h15v3h-15zM306 138h9v3h-9zM306 141h3v3h-3zM492 597h6v3h-6zM465 600h15v3h-15zM504 600h9v3h-9zM447 603h12v3h-12zM516 603h6v3h-6zM438 606h6v3h-6zM519 606h6v3h-6zM435 609h3v3h-3zM432 612h3v3h-3zM426 615h6v3h-6zM423 618h6v3h-6zM420 621h6v3h-6zM417 624h6v3h-6zM414 627h6v3h-6zM411 630h6v3h-6zM408 633h6v3h-6zM402 636h9v3h-9zM396 639h12v3h-12zM390 642h12v3h-12zM387 645h12v3h-12zM384 648h12v3h-12zM381 651h15v3h-15zM378 654h15v3h-15zM375 657h18v3h-18zM375 660h15v3h-15zM375 663h9v3h-9zM375 666h9v3h-9zM375 669h9v3h-9z"/>
<path fill="#ff3030" d="M372 60h12v3h-12zM372 63h12v3h-12zM369 66h12v3h-12zM369 69h9v3h-9zM366 72h12v3h-12zM363 75h12v3h-12zM363 78h9v3h-9zM360 81h9v3h-9zM357 84h9v3h-9zM354 87h9v3h-9zM348 90h12v3h-12zM345 93h12v3h-12zM342 96h12v3h-12zM336 99h15v3h-15zM333 102h12v3h-12zM327 105h15v3h-15zM318 108h21v3h-21zM315 111h18v3h-18zM315 114h15v3h-15zM315 117h12v3h-12zM312 120h12v3h-12zM312 123h6v3h-6zM480 600h24v3h-24zM459 603h12v3h-12zM507 603h9v3h-9zM444 606h9v3h-9zM513 606h6v3h-6zM438 609h6v3h-6zM519 609h6v3h-6zM435 612h3v3h-3zM432 615h3v3h-3zM429 618h3v3h-3zM426 621h3v3h-3zM423 624h3v3h-3zM420 627h3v3h-3zM417 630h3v3h-3zM414 633h6v3h-6zM411 636h6v3h-6zM408 639h6v3h-6zM402 642h9v3h-9zM399 645h12v3h-12zM396 648h12v3h-12zM396 651h12v3h-12zM393 654h15v3h-15zM393 657h12v3h-12zM390 660h15v3h-15zM384 663h18v3h-18zM384 666h9v3h-9zM384 669h3v3h-3z"/>
<path fill="#ff2b2b" d="M363 57h9v3h-9zM363 60h9v3h-9zM363 63h9v3h-9zM360 66h9v3h-9zM360 69h9v3h-9zM357 72h9v3h-9zM354 75h9v3h-9zM351 78h12v3h-12zM348 81h12v3h-12zM345 84h12v3h-12zM339 87h15v3h-15zM336 90h12v3h-12zM327 93h18v3h-18zM321 96h21v3h-21zM321 99h15v3h-15zM321 102h12v3h-12zM318 105h9v3h-9zM471 603h36v3h-36zM453 606h15v3h-15zM507 606h6v3h-6zM444 609h9v3h-9zM513 609h6v3h-6zM438 612h6v3h-6zM516 612h3v3h-3zM435 615h6v3h-6zM432 618h3v3h-3zM429 621h3v3h-3zM426 624h3v3h-3zM423 627h3v3h-3zM420 630h6v3h-6zM420 633h3v3h-3zM417 636h3v3h-3zM414 639h6v3h-6zM411 642h6v3h-6zM411 645h6v3h-6zM408 648h9v3h-9zM408 651h6v3h-6zM408 654h6v3h-6zM405 657h9v3h-9zM405 660h6v3h-6z"/>
<path fill="#ff2626" d="M354 57h9v3h-9zM354 60h9v3h-9zM354 63h9v3h-9zM351 66h9v3h-9zM348 69h12v3h-12zM348 72h9v3h-9zM342 75h12v3h-12zM336 78h15v3h-15zM327 81h21v3h-21zM327 84h18v3h-18zM324 87h15v3h-15zM324 90h12v3h-12zM324 93h3v3h-3zM468 606h12v3h-12zM495 606h12v3h-12zM453 609h12v3h-12zM504 609h9v3h-9zM444 612h9v3h-9zM510 612h6v3h-6zM441 615h3v3h-3zM435 618h6v3h-6zM432 621h6v3h-6zM429 624h6v3h-6zM426 627h6v3h-6zM426 630h3v3h-3zM423 633h3v3h-3zM420 636h6v3h-6zM420 639h3v3h-3zM417 642h6v3h-6zM417 645h6v3h-6zM417 648h6v3h-6zM414 651h9v3h-9zM414 654h9v3h-9zM414 657h3v3h-3z"/>
<path fill="#ff2020" d="M345 54h12v3h-12zM342 57h12v3h-12zM342 60h12v3h-12zM336 63h18v3h-18zM333 66h18v3h-18zM333 69h15v3h-15zM330 72h18v3h-18zM330 75h12v3h-12zM330 78h6v3h-6zM480 606h15v3h-15zM465 609h12v3h-12zM492 609h12v3h-12zM453 612h12v3h-12zM501 612h9v3h-9zM444 615h9v3h-9zM504 615h9v3h-9zM441 618h6v3h-6zM504 618h3v3h-3zM438 621h3v3h-3zM435 624h3v3h-3zM432 627h3v3h-3zM429 630h3v3h-3zM426 633h6v3h-6zM426 636h3v3h-3zM423 639h6v3h-6zM423 642h6v3h-6zM423 645h3v3h-3zM423 648h6v3h-6zM423 651h6v3h-6zM423 654h3v3h-3z"/>
<path fill="#ff1b1b" d="M342 54h3v3h-3zM339 57h3v3h-3zM336 60h6v3h-6zM477 609h15v3h-15zM465 612h15v3h-15zM486 612h15v3h-15zM453 615h12v3h-12zM492 615h12v3h-12zM447 618h6v3h-6zM492 618h12v3h-12zM441 621h6v3h-6zM492 621h9v3h-9zM438 624h6v3h-6zM489 624h6v3h-6zM435 627h6v3h-6zM432 630h6v3h-6zM432 633h3v3h-3zM429 636h6v3h-6zM429 639h6v3h-6zM429 642h6v3h-6zM426 645h9v3h-9zM429 648h6v3h-6zM429 651h3v3h-3z"/>
<path fill="#ff1515" d="M480 612h6v3h-6zM465 615h27v3h-27zM453 618h39v3h-39zM447 621h15v3h-15zM477 621h15v3h-15zM444 624h9v3h-9zM474 624h15v3h-15zM441 627h6v3h-6zM471 627h15v3h-15zM438 630h6v3h-6zM468 630h12v3h-12zM435 633h9v3h-9zM462 633h12v3h-12zM435 636h9v3h-9zM453 636h12v3h-12zM435 639h24v3h-24zM435 642h18v3h-18zM435 645h12v3h-12zM435 648h3v3h-3z"/>
<path fill="#ff1010" d="M462 621h15v3h-15zM453 624h21v3h-21zM447 627h24v3h-24zM444 630h24v3h-24zM444 633h18v3h-18zM444 636h9v3h-9z"/>
</g></g>
<g fill="none" stroke-width="1.3"><path d="M99.0 58.0V682.8H687.6" stroke="#3c3c3c"/><path d="M99.0 58.0H687.6" stroke="#6a6a6a"/><path d="M687.8 58.0V682.8" stroke="#d6d6d6" stroke-width="2"/><path d="M130.1 682.8v-7.2M130.1 58.0v7.2M198.7 682.8v-7.2M198.7 58.0v7.2M267.3 682.8v-7.2M267.3 58.0v7.2M336.0 682.8v-7.2M336.0 58.0v7.2M404.6 682.8v-7.2M404.6 58.0v7.2M473.2 682.8v-7.2M473.2 58.0v7.2M541.8 682.8v-7.2M541.8 58.0v7.2M610.4 682.8v-7.2M610.4 58.0v7.2M679.1 682.8v-7.2M679.1 58.0v7.2M99.0 674.7h6M687.6 674.7h-6.4M99.0 615.2h6M687.6 615.2h-6.4M99.0 555.7h6M687.6 555.7h-6.4M99.0 496.2h6M687.6 496.2h-6.4M99.0 436.8h6M687.6 436.8h-6.4M99.0 377.3h6M687.6 377.3h-6.4M99.0 317.8h6M687.6 317.8h-6.4M99.0 258.4h6M687.6 258.4h-6.4M99.0 198.9h6M687.6 198.9h-6.4M99.0 139.4h6M687.6 139.4h-6.4M99.0 80.0h6M687.6 80.0h-6.4" stroke="#3c3c3c" stroke-width="1.1"/></g>
<g fill="#000"><ellipse cx="341.3" cy="57.5" rx="7.1" ry="8.4"/><ellipse cx="366.3" cy="62.0" rx="7.1" ry="8.4"/><ellipse cx="425.1" cy="77.5" rx="7.1" ry="8.4"/><ellipse cx="460.2" cy="93.8" rx="7.1" ry="8.4"/><ellipse cx="499.3" cy="115.5" rx="7.1" ry="8.4"/><ellipse cx="543.8" cy="145.5" rx="7.1" ry="8.4"/><ellipse cx="604.3" cy="193.3" rx="7.1" ry="8.4"/><ellipse cx="687.8" cy="284.6" rx="7.1" ry="8.4"/><ellipse cx="283.8" cy="228.0" rx="7.1" ry="8.4"/><ellipse cx="298.5" cy="229.3" rx="7.1" ry="8.4"/><ellipse cx="342.5" cy="239.3" rx="7.1" ry="8.4"/><ellipse cx="405.0" cy="260.0" rx="7.1" ry="8.4"/><ellipse cx="478.3" cy="296.3" rx="7.1" ry="8.4"/><ellipse cx="562.5" cy="349.5" rx="7.1" ry="8.4"/><ellipse cx="647.5" cy="433.8" rx="7.1" ry="8.4"/><ellipse cx="243.0" cy="365.8" rx="7.1" ry="8.4"/><ellipse cx="276.0" cy="371.8" rx="7.1" ry="8.4"/><ellipse cx="323.3" cy="383.3" rx="7.1" ry="8.4"/><ellipse cx="348.3" cy="391.3" rx="7.1" ry="8.4"/><ellipse cx="377.5" cy="402.0" rx="7.1" ry="8.4"/><ellipse cx="411.3" cy="417.0" rx="7.1" ry="8.4"/><ellipse cx="461.8" cy="440.5" rx="7.1" ry="8.4"/><ellipse cx="563.8" cy="512.5" rx="7.1" ry="8.4"/><ellipse cx="602.8" cy="557.5" rx="7.1" ry="8.4"/><ellipse cx="180.5" cy="477.3" rx="7.1" ry="8.4"/><ellipse cx="199.3" cy="477.3" rx="7.1" ry="8.4"/><ellipse cx="205.5" cy="477.3" rx="7.1" ry="8.4"/><ellipse cx="232.5" cy="481.0" rx="7.1" ry="8.4"/><ellipse cx="293.0" cy="495.5" rx="7.1" ry="8.4"/><ellipse cx="346.3" cy="512.5" rx="7.1" ry="8.4"/><ellipse cx="410.3" cy="538.8" rx="7.1" ry="8.4"/><ellipse cx="477.5" cy="579.3" rx="7.1" ry="8.4"/><ellipse cx="515.0" cy="610.0" rx="7.1" ry="8.4"/><ellipse cx="138.0" cy="563.8" rx="7.1" ry="8.4"/><ellipse cx="152.5" cy="563.8" rx="7.1" ry="8.4"/><ellipse cx="160.5" cy="563.8" rx="7.1" ry="8.4"/><ellipse cx="178.0" cy="565.0" rx="7.1" ry="8.4"/><ellipse cx="223.0" cy="572.0" rx="7.1" ry="8.4"/><ellipse cx="260.6" cy="580.8" rx="7.1" ry="8.4"/><ellipse cx="297.0" cy="590.8" rx="7.1" ry="8.4"/><ellipse cx="358.3" cy="614.3" rx="7.1" ry="8.4"/><ellipse cx="425.6" cy="649.6" rx="7.1" ry="8.4"/><ellipse cx="98.6" cy="630.0" rx="7.1" ry="8.4"/><ellipse cx="101.8" cy="630.0" rx="7.1" ry="8.4"/><ellipse cx="119.3" cy="629.5" rx="7.1" ry="8.4"/><ellipse cx="150.8" cy="631.8" rx="7.1" ry="8.4"/><ellipse cx="205.0" cy="640.8" rx="7.1" ry="8.4"/><ellipse cx="234.5" cy="646.3" rx="7.1" ry="8.4"/><ellipse cx="270.0" cy="656.8" rx="7.1" ry="8.4"/><ellipse cx="309.0" cy="670.5" rx="7.1" ry="8.4"/><ellipse cx="336.8" cy="682.8" rx="7.1" ry="8.4"/></g>
<text transform="translate(130.1,717.6) scale(1,1.260)" font-size="20.6" text-anchor="middle">20</text><text transform="translate(198.7,717.6) scale(1,1.260)" font-size="20.6" text-anchor="middle">30</text><text transform="translate(267.3,717.6) scale(1,1.260)" font-size="20.6" text-anchor="middle">40</text><text transform="translate(336.0,717.6) scale(1,1.260)" font-size="20.6" text-anchor="middle">50</text><text transform="translate(404.6,717.6) scale(1,1.260)" font-size="20.6" text-anchor="middle">60</text><text transform="translate(473.2,717.6) scale(1,1.260)" font-size="20.6" text-anchor="middle">70</text><text transform="translate(541.8,717.6) scale(1,1.260)" font-size="20.6" text-anchor="middle">80</text><text transform="translate(610.4,717.6) scale(1,1.260)" font-size="20.6" text-anchor="middle">90</text><text transform="translate(679.1,717.6) scale(1,1.260)" font-size="20.6" text-anchor="middle">100</text><text transform="translate(90.3,684.2) scale(1,1.260)" font-size="20.6" text-anchor="end">1.1</text><text transform="translate(90.3,624.7) scale(1,1.260)" font-size="20.6" text-anchor="end">1.2</text><text transform="translate(90.3,565.2) scale(1,1.260)" font-size="20.6" text-anchor="end">1.3</text><text transform="translate(90.3,505.7) scale(1,1.260)" font-size="20.6" text-anchor="end">1.4</text><text transform="translate(90.3,446.3) scale(1,1.260)" font-size="20.6" text-anchor="end">1.5</text><text transform="translate(90.3,386.8) scale(1,1.260)" font-size="20.6" text-anchor="end">1.6</text><text transform="translate(90.3,327.3) scale(1,1.260)" font-size="20.6" text-anchor="end">1.7</text><text transform="translate(90.3,267.9) scale(1,1.260)" font-size="20.6" text-anchor="end">1.8</text><text transform="translate(90.3,208.4) scale(1,1.260)" font-size="20.6" text-anchor="end">1.9</text><text transform="translate(90.3,148.9) scale(1,1.260)" font-size="20.6" text-anchor="end">2</text><text transform="translate(90.3,89.5) scale(1,1.260)" font-size="20.6" text-anchor="end">2.1</text>
<rect x="714.0" y="57.0" width="31.8" height="626.0" fill="url(#cb)" stroke="#333" stroke-width="1"/><text transform="translate(754.3,121.6) scale(1,1.265)" font-size="18.8">92</text><text transform="translate(754.3,199.1) scale(1,1.265)" font-size="18.8">90</text><text transform="translate(754.3,276.6) scale(1,1.265)" font-size="18.8">88</text><text transform="translate(754.3,354.1) scale(1,1.265)" font-size="18.8">86</text><text transform="translate(754.3,431.6) scale(1,1.265)" font-size="18.8">84</text><text transform="translate(754.3,509.1) scale(1,1.265)" font-size="18.8">82</text><text transform="translate(754.3,586.6) scale(1,1.265)" font-size="18.8">80</text><text transform="translate(754.3,664.1) scale(1,1.265)" font-size="18.8">78</text><path d="M745.8 112.7h-5M745.8 190.2h-5M745.8 267.7h-5M745.8 345.2h-5M745.8 422.7h-5M745.8 500.2h-5M745.8 577.7h-5M745.8 655.2h-5" stroke="#222" stroke-width="1.1" fill="none"/>
<text class="sf" transform="translate(392.9,752.8) scale(1,1.195)" font-size="24.6" text-anchor="middle">Mass Flow Rate(g/s)</text><text class="sf" transform="translate(52.2,370.3) rotate(-90) scale(1.208,1)" font-size="24.6" text-anchor="middle">Pressure Ratio</text><text class="sf" transform="translate(803.3,369.8) rotate(-90) scale(1.218,1)" font-size="24.6" text-anchor="middle">SPL(dB)</text><text class="sf" transform="translate(367.2,38.2) scale(1,1.24)" font-size="24.2">SPL</text><text transform="translate(409.3,51.2) scale(1,1.27)" font-size="15.4" font-weight="bold" fill="#111">F</text>
<rect x="858" y="0" width="1" height="768" fill="#000"/>
</svg>
</body></html>
